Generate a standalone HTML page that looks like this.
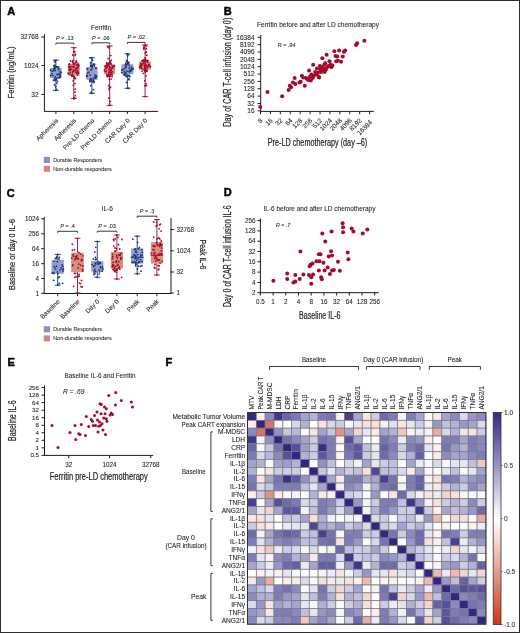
<!DOCTYPE html>
<html><head><meta charset="utf-8"><style>
html,body{margin:0;padding:0;background:#fff;}
body{width:520px;height:633px;overflow:hidden;position:relative;}
svg{display:block;position:absolute;left:0;top:0;}
svg text{font-family:"Liberation Sans",sans-serif;stroke:#2a2a2a;stroke-width:0.08px;}
svg text.ax{stroke-width:0.22px;}
svg{will-change:transform;}
.frame{position:absolute;left:0;top:0;width:518px;height:631px;border:1px solid #2e2e2e;}
</style></head><body>
<svg width="520" height="633" viewBox="0 0 520 633">
<text x="7.30" y="15.20" font-size="11" text-anchor="start" fill="#000" font-weight="bold" class="ax" style="stroke:#000;stroke-width:0.45px">A</text>
<text x="223.80" y="15.00" font-size="11" text-anchor="start" fill="#000" font-weight="bold" class="ax" style="stroke:#000;stroke-width:0.45px">B</text>
<text x="6.80" y="196.50" font-size="11" text-anchor="start" fill="#000" font-weight="bold" class="ax" style="stroke:#000;stroke-width:0.45px">C</text>
<text x="223.80" y="196.40" font-size="11" text-anchor="start" fill="#000" font-weight="bold" class="ax" style="stroke:#000;stroke-width:0.45px">D</text>
<text x="7.40" y="365.50" font-size="11" text-anchor="start" fill="#000" font-weight="bold" class="ax" style="stroke:#000;stroke-width:0.45px">E</text>
<text x="165.50" y="365.80" font-size="11" text-anchor="start" fill="#000" font-weight="bold" class="ax" style="stroke:#000;stroke-width:0.45px">F</text>
<text x="101.00" y="30.20" font-size="6.5" text-anchor="middle" fill="#222" textLength="20" lengthAdjust="spacingAndGlyphs" >Ferritin</text>
<line x1="44.40" y1="34.20" x2="44.40" y2="111.60" stroke="#1a1a1a" stroke-width="1"/>
<line x1="41.30" y1="37.00" x2="44.40" y2="37.00" stroke="#1a1a1a" stroke-width="1.0"/>
<text x="38.50" y="39.30" font-size="6.5" text-anchor="end" fill="#222" >32768</text>
<line x1="41.30" y1="65.50" x2="44.40" y2="65.50" stroke="#1a1a1a" stroke-width="1.0"/>
<text x="38.50" y="67.80" font-size="6.5" text-anchor="end" fill="#222" >1024</text>
<line x1="41.30" y1="94.40" x2="44.40" y2="94.40" stroke="#1a1a1a" stroke-width="1.0"/>
<text x="38.50" y="96.70" font-size="6.5" text-anchor="end" fill="#222" >32</text>
<text x="14.30" y="72.50" font-size="9.5" text-anchor="middle" fill="#222" textLength="52" lengthAdjust="spacingAndGlyphs" transform="rotate(-90 14.30 72.50)" class="ax" >Ferritin (ng/mL)</text>
<line x1="44.40" y1="111.40" x2="158.00" y2="111.40" stroke="#1a1a1a" stroke-width="1"/>
<line x1="55.90" y1="111.40" x2="55.90" y2="114.00" stroke="#1a1a1a" stroke-width="1.0"/>
<text x="58.70" y="121.10" font-size="6.4" text-anchor="end" fill="#222" transform="rotate(-45 58.70 121.10)" >Apheresis</text>
<line x1="73.80" y1="111.40" x2="73.80" y2="114.00" stroke="#1a1a1a" stroke-width="1.0"/>
<text x="76.60" y="121.10" font-size="6.4" text-anchor="end" fill="#222" transform="rotate(-45 76.60 121.10)" >Apheresis</text>
<line x1="91.90" y1="111.40" x2="91.90" y2="114.00" stroke="#1a1a1a" stroke-width="1.0"/>
<text x="94.70" y="121.10" font-size="6.4" text-anchor="end" fill="#222" transform="rotate(-45 94.70 121.10)" >Pre-LD chemo</text>
<line x1="109.60" y1="111.40" x2="109.60" y2="114.00" stroke="#1a1a1a" stroke-width="1.0"/>
<text x="112.40" y="121.10" font-size="6.4" text-anchor="end" fill="#222" transform="rotate(-45 112.40 121.10)" >Pre-LD chemo</text>
<line x1="127.40" y1="111.40" x2="127.40" y2="114.00" stroke="#1a1a1a" stroke-width="1.0"/>
<text x="130.20" y="121.10" font-size="6.4" text-anchor="end" fill="#222" transform="rotate(-45 130.20 121.10)" >CAR Day 0</text>
<line x1="145.10" y1="111.40" x2="145.10" y2="114.00" stroke="#1a1a1a" stroke-width="1.0"/>
<text x="147.90" y="121.10" font-size="6.4" text-anchor="end" fill="#222" transform="rotate(-45 147.90 121.10)" >CAR Day 0</text>
<line x1="55.90" y1="60.20" x2="55.90" y2="90.30" stroke="#1a3775" stroke-width="0.9"/>
<line x1="52.90" y1="60.20" x2="58.90" y2="60.20" stroke="#1a3775" stroke-width="0.9"/>
<line x1="52.90" y1="90.30" x2="58.90" y2="90.30" stroke="#1a3775" stroke-width="0.9"/>
<rect x="50.15" y="68.00" width="11.50" height="10.00" fill="#969ed0" />
<circle cx="56.16" cy="80.04" r="0.9" fill="#1a3775"/>
<circle cx="54.95" cy="67.49" r="0.9" fill="#1a3775"/>
<circle cx="52.85" cy="75.62" r="0.9" fill="#1a3775"/>
<circle cx="50.64" cy="75.52" r="0.9" fill="#1a3775"/>
<circle cx="55.25" cy="70.59" r="0.9" fill="#1a3775"/>
<circle cx="59.17" cy="77.78" r="0.9" fill="#1a3775"/>
<circle cx="56.44" cy="78.97" r="0.9" fill="#1a3775"/>
<circle cx="61.22" cy="72.34" r="0.9" fill="#1a3775"/>
<circle cx="54.96" cy="80.17" r="0.9" fill="#1a3775"/>
<circle cx="58.89" cy="77.60" r="0.9" fill="#1a3775"/>
<circle cx="54.70" cy="66.83" r="0.9" fill="#1a3775"/>
<circle cx="58.71" cy="66.79" r="0.9" fill="#1a3775"/>
<circle cx="58.83" cy="68.28" r="0.9" fill="#1a3775"/>
<circle cx="60.06" cy="73.72" r="0.9" fill="#1a3775"/>
<circle cx="54.12" cy="68.04" r="0.9" fill="#1a3775"/>
<circle cx="57.03" cy="67.00" r="0.9" fill="#1a3775"/>
<circle cx="51.94" cy="73.82" r="0.9" fill="#1a3775"/>
<circle cx="50.47" cy="70.11" r="0.9" fill="#1a3775"/>
<circle cx="57.21" cy="74.50" r="0.9" fill="#1a3775"/>
<circle cx="53.67" cy="70.15" r="0.9" fill="#1a3775"/>
<circle cx="50.87" cy="70.29" r="0.9" fill="#1a3775"/>
<circle cx="59.72" cy="74.57" r="0.9" fill="#1a3775"/>
<circle cx="53.43" cy="80.06" r="0.9" fill="#1a3775"/>
<circle cx="59.12" cy="74.33" r="0.9" fill="#1a3775"/>
<circle cx="60.41" cy="77.05" r="0.9" fill="#1a3775"/>
<circle cx="57.05" cy="78.14" r="0.9" fill="#1a3775"/>
<circle cx="57.75" cy="74.51" r="0.9" fill="#1a3775"/>
<circle cx="55.33" cy="76.86" r="0.9" fill="#1a3775"/>
<circle cx="60.17" cy="71.79" r="0.9" fill="#1a3775"/>
<circle cx="52.64" cy="71.37" r="0.9" fill="#1a3775"/>
<circle cx="59.91" cy="75.73" r="0.9" fill="#1a3775"/>
<circle cx="54.89" cy="68.79" r="0.9" fill="#1a3775"/>
<circle cx="58.68" cy="69.64" r="0.9" fill="#1a3775"/>
<circle cx="53.95" cy="68.78" r="0.9" fill="#1a3775"/>
<circle cx="53.71" cy="65.87" r="0.9" fill="#1a3775"/>
<circle cx="55.46" cy="66.42" r="0.9" fill="#1a3775"/>
<circle cx="56.38" cy="89.43" r="0.9" fill="#1a3775"/>
<circle cx="55.29" cy="60.96" r="0.9" fill="#1a3775"/>
<circle cx="54.15" cy="80.44" r="0.9" fill="#1a3775"/>
<circle cx="54.50" cy="84.90" r="0.9" fill="#1a3775"/>
<circle cx="55.57" cy="86.87" r="0.9" fill="#1a3775"/>
<circle cx="54.56" cy="78.45" r="0.9" fill="#1a3775"/>
<circle cx="54.80" cy="60.71" r="0.9" fill="#1a3775"/>
<circle cx="54.84" cy="65.07" r="0.9" fill="#1a3775"/>
<circle cx="56.85" cy="83.05" r="0.9" fill="#1a3775"/>
<circle cx="55.09" cy="62.18" r="0.9" fill="#1a3775"/>
<circle cx="57.20" cy="67.06" r="0.9" fill="#1a3775"/>
<circle cx="56.13" cy="79.46" r="0.9" fill="#1a3775"/>
<circle cx="57.52" cy="81.31" r="0.9" fill="#1a3775"/>
<circle cx="57.12" cy="66.83" r="0.9" fill="#1a3775"/>
<circle cx="55.90" cy="60.20" r="0.9" fill="#1a3775"/>
<circle cx="55.90" cy="90.30" r="0.9" fill="#1a3775"/>
<line x1="73.80" y1="47.70" x2="73.80" y2="98.60" stroke="#a30a2c" stroke-width="0.9"/>
<line x1="70.80" y1="47.70" x2="76.80" y2="47.70" stroke="#a30a2c" stroke-width="0.9"/>
<line x1="70.80" y1="98.60" x2="76.80" y2="98.60" stroke="#a30a2c" stroke-width="0.9"/>
<rect x="67.90" y="63.80" width="11.80" height="11.60" fill="#d4917d" />
<circle cx="71.15" cy="69.56" r="0.9" fill="#a30a2c"/>
<circle cx="72.39" cy="73.96" r="0.9" fill="#a30a2c"/>
<circle cx="76.82" cy="62.34" r="0.9" fill="#a30a2c"/>
<circle cx="71.80" cy="75.83" r="0.9" fill="#a30a2c"/>
<circle cx="78.09" cy="63.80" r="0.9" fill="#a30a2c"/>
<circle cx="76.14" cy="70.16" r="0.9" fill="#a30a2c"/>
<circle cx="71.07" cy="74.85" r="0.9" fill="#a30a2c"/>
<circle cx="78.26" cy="73.42" r="0.9" fill="#a30a2c"/>
<circle cx="68.81" cy="66.63" r="0.9" fill="#a30a2c"/>
<circle cx="77.64" cy="67.03" r="0.9" fill="#a30a2c"/>
<circle cx="69.06" cy="69.36" r="0.9" fill="#a30a2c"/>
<circle cx="69.48" cy="64.17" r="0.9" fill="#a30a2c"/>
<circle cx="69.85" cy="70.08" r="0.9" fill="#a30a2c"/>
<circle cx="77.72" cy="68.04" r="0.9" fill="#a30a2c"/>
<circle cx="72.78" cy="71.72" r="0.9" fill="#a30a2c"/>
<circle cx="72.25" cy="75.96" r="0.9" fill="#a30a2c"/>
<circle cx="70.60" cy="68.34" r="0.9" fill="#a30a2c"/>
<circle cx="78.36" cy="72.62" r="0.9" fill="#a30a2c"/>
<circle cx="73.56" cy="63.18" r="0.9" fill="#a30a2c"/>
<circle cx="72.41" cy="61.81" r="0.9" fill="#a30a2c"/>
<circle cx="75.74" cy="72.13" r="0.9" fill="#a30a2c"/>
<circle cx="72.15" cy="66.85" r="0.9" fill="#a30a2c"/>
<circle cx="74.01" cy="66.42" r="0.9" fill="#a30a2c"/>
<circle cx="73.07" cy="71.87" r="0.9" fill="#a30a2c"/>
<circle cx="77.69" cy="72.04" r="0.9" fill="#a30a2c"/>
<circle cx="75.42" cy="68.50" r="0.9" fill="#a30a2c"/>
<circle cx="76.47" cy="64.97" r="0.9" fill="#a30a2c"/>
<circle cx="73.47" cy="67.06" r="0.9" fill="#a30a2c"/>
<circle cx="74.36" cy="70.61" r="0.9" fill="#a30a2c"/>
<circle cx="77.38" cy="75.21" r="0.9" fill="#a30a2c"/>
<circle cx="72.45" cy="75.67" r="0.9" fill="#a30a2c"/>
<circle cx="78.94" cy="65.57" r="0.9" fill="#a30a2c"/>
<circle cx="70.58" cy="60.96" r="0.9" fill="#a30a2c"/>
<circle cx="77.59" cy="71.00" r="0.9" fill="#a30a2c"/>
<circle cx="76.94" cy="73.42" r="0.9" fill="#a30a2c"/>
<circle cx="73.27" cy="62.90" r="0.9" fill="#a30a2c"/>
<circle cx="76.63" cy="68.51" r="0.9" fill="#a30a2c"/>
<circle cx="76.29" cy="61.00" r="0.9" fill="#a30a2c"/>
<circle cx="73.51" cy="64.43" r="0.9" fill="#a30a2c"/>
<circle cx="73.77" cy="64.21" r="0.9" fill="#a30a2c"/>
<circle cx="69.20" cy="67.19" r="0.9" fill="#a30a2c"/>
<circle cx="68.91" cy="74.25" r="0.9" fill="#a30a2c"/>
<circle cx="74.51" cy="76.73" r="0.9" fill="#a30a2c"/>
<circle cx="70.64" cy="66.46" r="0.9" fill="#a30a2c"/>
<circle cx="69.29" cy="64.35" r="0.9" fill="#a30a2c"/>
<circle cx="70.27" cy="72.43" r="0.9" fill="#a30a2c"/>
<circle cx="75.77" cy="62.96" r="0.9" fill="#a30a2c"/>
<circle cx="70.03" cy="70.17" r="0.9" fill="#a30a2c"/>
<circle cx="77.93" cy="64.74" r="0.9" fill="#a30a2c"/>
<circle cx="76.30" cy="61.58" r="0.9" fill="#a30a2c"/>
<circle cx="73.35" cy="69.83" r="0.9" fill="#a30a2c"/>
<circle cx="77.85" cy="65.95" r="0.9" fill="#a30a2c"/>
<circle cx="78.07" cy="67.80" r="0.9" fill="#a30a2c"/>
<circle cx="68.21" cy="73.18" r="0.9" fill="#a30a2c"/>
<circle cx="72.77" cy="55.02" r="0.9" fill="#a30a2c"/>
<circle cx="75.40" cy="54.37" r="0.9" fill="#a30a2c"/>
<circle cx="75.13" cy="78.11" r="0.9" fill="#a30a2c"/>
<circle cx="75.43" cy="78.56" r="0.9" fill="#a30a2c"/>
<circle cx="74.10" cy="97.98" r="0.9" fill="#a30a2c"/>
<circle cx="74.38" cy="98.10" r="0.9" fill="#a30a2c"/>
<circle cx="74.74" cy="98.24" r="0.9" fill="#a30a2c"/>
<circle cx="75.41" cy="95.67" r="0.9" fill="#a30a2c"/>
<circle cx="74.88" cy="83.62" r="0.9" fill="#a30a2c"/>
<circle cx="73.17" cy="80.79" r="0.9" fill="#a30a2c"/>
<circle cx="75.04" cy="92.01" r="0.9" fill="#a30a2c"/>
<circle cx="75.17" cy="55.56" r="0.9" fill="#a30a2c"/>
<circle cx="73.25" cy="85.29" r="0.9" fill="#a30a2c"/>
<circle cx="75.28" cy="89.09" r="0.9" fill="#a30a2c"/>
<circle cx="72.74" cy="60.71" r="0.9" fill="#a30a2c"/>
<circle cx="73.78" cy="52.21" r="0.9" fill="#a30a2c"/>
<circle cx="73.88" cy="98.52" r="0.9" fill="#a30a2c"/>
<circle cx="74.58" cy="78.62" r="0.9" fill="#a30a2c"/>
<circle cx="73.99" cy="63.77" r="0.9" fill="#a30a2c"/>
<circle cx="74.01" cy="76.46" r="0.9" fill="#a30a2c"/>
<circle cx="74.79" cy="51.72" r="0.9" fill="#a30a2c"/>
<circle cx="73.80" cy="47.70" r="0.9" fill="#a30a2c"/>
<circle cx="73.80" cy="98.60" r="0.9" fill="#a30a2c"/>
<line x1="91.90" y1="57.70" x2="91.90" y2="93.30" stroke="#1a3775" stroke-width="0.9"/>
<line x1="88.90" y1="57.70" x2="94.90" y2="57.70" stroke="#1a3775" stroke-width="0.9"/>
<line x1="88.90" y1="93.30" x2="94.90" y2="93.30" stroke="#1a3775" stroke-width="0.9"/>
<rect x="86.25" y="67.00" width="11.30" height="12.80" fill="#969ed0" />
<circle cx="90.56" cy="66.17" r="0.9" fill="#1a3775"/>
<circle cx="93.31" cy="78.53" r="0.9" fill="#1a3775"/>
<circle cx="92.52" cy="65.53" r="0.9" fill="#1a3775"/>
<circle cx="89.95" cy="80.42" r="0.9" fill="#1a3775"/>
<circle cx="91.27" cy="79.09" r="0.9" fill="#1a3775"/>
<circle cx="94.19" cy="81.46" r="0.9" fill="#1a3775"/>
<circle cx="95.78" cy="76.24" r="0.9" fill="#1a3775"/>
<circle cx="90.85" cy="78.62" r="0.9" fill="#1a3775"/>
<circle cx="87.52" cy="68.91" r="0.9" fill="#1a3775"/>
<circle cx="92.53" cy="65.80" r="0.9" fill="#1a3775"/>
<circle cx="94.50" cy="66.10" r="0.9" fill="#1a3775"/>
<circle cx="93.68" cy="82.44" r="0.9" fill="#1a3775"/>
<circle cx="94.90" cy="74.82" r="0.9" fill="#1a3775"/>
<circle cx="92.38" cy="67.16" r="0.9" fill="#1a3775"/>
<circle cx="87.41" cy="69.08" r="0.9" fill="#1a3775"/>
<circle cx="91.65" cy="69.25" r="0.9" fill="#1a3775"/>
<circle cx="90.26" cy="79.94" r="0.9" fill="#1a3775"/>
<circle cx="93.99" cy="65.14" r="0.9" fill="#1a3775"/>
<circle cx="91.06" cy="69.89" r="0.9" fill="#1a3775"/>
<circle cx="95.73" cy="68.06" r="0.9" fill="#1a3775"/>
<circle cx="91.02" cy="64.05" r="0.9" fill="#1a3775"/>
<circle cx="95.05" cy="78.37" r="0.9" fill="#1a3775"/>
<circle cx="96.16" cy="77.51" r="0.9" fill="#1a3775"/>
<circle cx="89.95" cy="81.49" r="0.9" fill="#1a3775"/>
<circle cx="94.74" cy="77.27" r="0.9" fill="#1a3775"/>
<circle cx="91.23" cy="65.63" r="0.9" fill="#1a3775"/>
<circle cx="96.71" cy="75.80" r="0.9" fill="#1a3775"/>
<circle cx="88.98" cy="72.05" r="0.9" fill="#1a3775"/>
<circle cx="86.93" cy="75.77" r="0.9" fill="#1a3775"/>
<circle cx="86.87" cy="75.66" r="0.9" fill="#1a3775"/>
<circle cx="90.25" cy="75.23" r="0.9" fill="#1a3775"/>
<circle cx="87.70" cy="73.24" r="0.9" fill="#1a3775"/>
<circle cx="94.55" cy="64.27" r="0.9" fill="#1a3775"/>
<circle cx="96.06" cy="68.07" r="0.9" fill="#1a3775"/>
<circle cx="86.95" cy="76.61" r="0.9" fill="#1a3775"/>
<circle cx="90.40" cy="80.02" r="0.9" fill="#1a3775"/>
<circle cx="91.03" cy="81.17" r="0.9" fill="#1a3775"/>
<circle cx="91.04" cy="81.11" r="0.9" fill="#1a3775"/>
<circle cx="93.45" cy="89.56" r="0.9" fill="#1a3775"/>
<circle cx="93.19" cy="80.25" r="0.9" fill="#1a3775"/>
<circle cx="90.44" cy="62.64" r="0.9" fill="#1a3775"/>
<circle cx="90.39" cy="57.81" r="0.9" fill="#1a3775"/>
<circle cx="93.51" cy="64.15" r="0.9" fill="#1a3775"/>
<circle cx="92.33" cy="60.38" r="0.9" fill="#1a3775"/>
<circle cx="91.43" cy="66.29" r="0.9" fill="#1a3775"/>
<circle cx="91.05" cy="92.33" r="0.9" fill="#1a3775"/>
<circle cx="92.00" cy="60.38" r="0.9" fill="#1a3775"/>
<circle cx="90.73" cy="85.83" r="0.9" fill="#1a3775"/>
<circle cx="92.31" cy="60.00" r="0.9" fill="#1a3775"/>
<circle cx="92.82" cy="81.59" r="0.9" fill="#1a3775"/>
<circle cx="91.90" cy="57.70" r="0.9" fill="#1a3775"/>
<circle cx="91.90" cy="93.30" r="0.9" fill="#1a3775"/>
<line x1="109.60" y1="46.10" x2="109.60" y2="105.40" stroke="#a30a2c" stroke-width="0.9"/>
<line x1="106.60" y1="46.10" x2="112.60" y2="46.10" stroke="#a30a2c" stroke-width="0.9"/>
<line x1="106.60" y1="105.40" x2="112.60" y2="105.40" stroke="#a30a2c" stroke-width="0.9"/>
<rect x="104.10" y="64.90" width="11.00" height="9.40" fill="#d4917d" />
<circle cx="110.87" cy="70.56" r="0.9" fill="#a30a2c"/>
<circle cx="105.90" cy="65.74" r="0.9" fill="#a30a2c"/>
<circle cx="108.71" cy="72.93" r="0.9" fill="#a30a2c"/>
<circle cx="110.79" cy="67.43" r="0.9" fill="#a30a2c"/>
<circle cx="111.13" cy="72.30" r="0.9" fill="#a30a2c"/>
<circle cx="110.50" cy="70.38" r="0.9" fill="#a30a2c"/>
<circle cx="111.59" cy="64.39" r="0.9" fill="#a30a2c"/>
<circle cx="109.34" cy="71.96" r="0.9" fill="#a30a2c"/>
<circle cx="106.91" cy="74.66" r="0.9" fill="#a30a2c"/>
<circle cx="110.05" cy="76.54" r="0.9" fill="#a30a2c"/>
<circle cx="109.59" cy="62.95" r="0.9" fill="#a30a2c"/>
<circle cx="110.43" cy="70.47" r="0.9" fill="#a30a2c"/>
<circle cx="114.43" cy="66.23" r="0.9" fill="#a30a2c"/>
<circle cx="108.71" cy="74.73" r="0.9" fill="#a30a2c"/>
<circle cx="107.21" cy="64.46" r="0.9" fill="#a30a2c"/>
<circle cx="105.27" cy="66.69" r="0.9" fill="#a30a2c"/>
<circle cx="109.42" cy="66.05" r="0.9" fill="#a30a2c"/>
<circle cx="112.28" cy="71.96" r="0.9" fill="#a30a2c"/>
<circle cx="106.66" cy="62.78" r="0.9" fill="#a30a2c"/>
<circle cx="109.95" cy="63.30" r="0.9" fill="#a30a2c"/>
<circle cx="108.83" cy="69.56" r="0.9" fill="#a30a2c"/>
<circle cx="105.95" cy="68.26" r="0.9" fill="#a30a2c"/>
<circle cx="107.87" cy="65.53" r="0.9" fill="#a30a2c"/>
<circle cx="111.00" cy="63.56" r="0.9" fill="#a30a2c"/>
<circle cx="110.24" cy="63.67" r="0.9" fill="#a30a2c"/>
<circle cx="107.84" cy="64.35" r="0.9" fill="#a30a2c"/>
<circle cx="107.12" cy="75.53" r="0.9" fill="#a30a2c"/>
<circle cx="112.22" cy="74.64" r="0.9" fill="#a30a2c"/>
<circle cx="104.49" cy="70.88" r="0.9" fill="#a30a2c"/>
<circle cx="106.40" cy="71.24" r="0.9" fill="#a30a2c"/>
<circle cx="111.22" cy="69.23" r="0.9" fill="#a30a2c"/>
<circle cx="109.41" cy="67.82" r="0.9" fill="#a30a2c"/>
<circle cx="112.69" cy="66.10" r="0.9" fill="#a30a2c"/>
<circle cx="110.52" cy="74.53" r="0.9" fill="#a30a2c"/>
<circle cx="107.01" cy="67.69" r="0.9" fill="#a30a2c"/>
<circle cx="110.26" cy="74.94" r="0.9" fill="#a30a2c"/>
<circle cx="107.79" cy="75.73" r="0.9" fill="#a30a2c"/>
<circle cx="110.29" cy="72.36" r="0.9" fill="#a30a2c"/>
<circle cx="107.44" cy="66.13" r="0.9" fill="#a30a2c"/>
<circle cx="108.23" cy="63.41" r="0.9" fill="#a30a2c"/>
<circle cx="108.49" cy="63.34" r="0.9" fill="#a30a2c"/>
<circle cx="112.06" cy="76.50" r="0.9" fill="#a30a2c"/>
<circle cx="104.58" cy="69.79" r="0.9" fill="#a30a2c"/>
<circle cx="107.12" cy="76.54" r="0.9" fill="#a30a2c"/>
<circle cx="110.08" cy="63.26" r="0.9" fill="#a30a2c"/>
<circle cx="108.73" cy="76.19" r="0.9" fill="#a30a2c"/>
<circle cx="108.42" cy="64.51" r="0.9" fill="#a30a2c"/>
<circle cx="114.19" cy="65.44" r="0.9" fill="#a30a2c"/>
<circle cx="107.48" cy="65.49" r="0.9" fill="#a30a2c"/>
<circle cx="112.90" cy="67.78" r="0.9" fill="#a30a2c"/>
<circle cx="106.72" cy="63.92" r="0.9" fill="#a30a2c"/>
<circle cx="112.16" cy="68.18" r="0.9" fill="#a30a2c"/>
<circle cx="106.10" cy="71.73" r="0.9" fill="#a30a2c"/>
<circle cx="110.51" cy="69.84" r="0.9" fill="#a30a2c"/>
<circle cx="110.86" cy="55.54" r="0.9" fill="#a30a2c"/>
<circle cx="107.80" cy="46.66" r="0.9" fill="#a30a2c"/>
<circle cx="110.55" cy="87.25" r="0.9" fill="#a30a2c"/>
<circle cx="108.58" cy="47.64" r="0.9" fill="#a30a2c"/>
<circle cx="111.10" cy="79.11" r="0.9" fill="#a30a2c"/>
<circle cx="110.10" cy="62.35" r="0.9" fill="#a30a2c"/>
<circle cx="108.70" cy="98.01" r="0.9" fill="#a30a2c"/>
<circle cx="111.38" cy="74.43" r="0.9" fill="#a30a2c"/>
<circle cx="108.69" cy="85.75" r="0.9" fill="#a30a2c"/>
<circle cx="108.12" cy="75.60" r="0.9" fill="#a30a2c"/>
<circle cx="110.40" cy="61.34" r="0.9" fill="#a30a2c"/>
<circle cx="108.60" cy="76.46" r="0.9" fill="#a30a2c"/>
<circle cx="109.52" cy="87.96" r="0.9" fill="#a30a2c"/>
<circle cx="109.67" cy="104.25" r="0.9" fill="#a30a2c"/>
<circle cx="111.33" cy="60.29" r="0.9" fill="#a30a2c"/>
<circle cx="109.95" cy="62.84" r="0.9" fill="#a30a2c"/>
<circle cx="109.03" cy="89.23" r="0.9" fill="#a30a2c"/>
<circle cx="108.18" cy="58.55" r="0.9" fill="#a30a2c"/>
<circle cx="110.86" cy="74.45" r="0.9" fill="#a30a2c"/>
<circle cx="109.36" cy="79.28" r="0.9" fill="#a30a2c"/>
<circle cx="110.26" cy="101.29" r="0.9" fill="#a30a2c"/>
<circle cx="109.60" cy="46.10" r="0.9" fill="#a30a2c"/>
<circle cx="109.60" cy="105.40" r="0.9" fill="#a30a2c"/>
<line x1="127.40" y1="53.80" x2="127.40" y2="88.30" stroke="#1a3775" stroke-width="0.9"/>
<line x1="124.40" y1="53.80" x2="130.40" y2="53.80" stroke="#1a3775" stroke-width="0.9"/>
<line x1="124.40" y1="88.30" x2="130.40" y2="88.30" stroke="#1a3775" stroke-width="0.9"/>
<rect x="121.40" y="64.30" width="12.00" height="10.00" fill="#969ed0" />
<circle cx="129.02" cy="65.00" r="0.9" fill="#1a3775"/>
<circle cx="124.91" cy="72.90" r="0.9" fill="#1a3775"/>
<circle cx="129.88" cy="76.60" r="0.9" fill="#1a3775"/>
<circle cx="129.27" cy="67.91" r="0.9" fill="#1a3775"/>
<circle cx="131.88" cy="69.17" r="0.9" fill="#1a3775"/>
<circle cx="126.94" cy="71.23" r="0.9" fill="#1a3775"/>
<circle cx="129.44" cy="76.31" r="0.9" fill="#1a3775"/>
<circle cx="126.13" cy="73.95" r="0.9" fill="#1a3775"/>
<circle cx="126.24" cy="66.62" r="0.9" fill="#1a3775"/>
<circle cx="124.94" cy="68.47" r="0.9" fill="#1a3775"/>
<circle cx="123.09" cy="69.39" r="0.9" fill="#1a3775"/>
<circle cx="124.44" cy="71.64" r="0.9" fill="#1a3775"/>
<circle cx="127.45" cy="63.51" r="0.9" fill="#1a3775"/>
<circle cx="129.66" cy="71.70" r="0.9" fill="#1a3775"/>
<circle cx="121.88" cy="69.99" r="0.9" fill="#1a3775"/>
<circle cx="132.81" cy="68.61" r="0.9" fill="#1a3775"/>
<circle cx="125.53" cy="73.07" r="0.9" fill="#1a3775"/>
<circle cx="126.35" cy="76.46" r="0.9" fill="#1a3775"/>
<circle cx="131.43" cy="70.22" r="0.9" fill="#1a3775"/>
<circle cx="130.48" cy="69.72" r="0.9" fill="#1a3775"/>
<circle cx="125.32" cy="64.90" r="0.9" fill="#1a3775"/>
<circle cx="127.77" cy="62.13" r="0.9" fill="#1a3775"/>
<circle cx="121.85" cy="72.39" r="0.9" fill="#1a3775"/>
<circle cx="130.62" cy="70.99" r="0.9" fill="#1a3775"/>
<circle cx="128.72" cy="63.07" r="0.9" fill="#1a3775"/>
<circle cx="125.42" cy="75.44" r="0.9" fill="#1a3775"/>
<circle cx="124.28" cy="74.41" r="0.9" fill="#1a3775"/>
<circle cx="124.12" cy="74.96" r="0.9" fill="#1a3775"/>
<circle cx="131.35" cy="67.18" r="0.9" fill="#1a3775"/>
<circle cx="126.54" cy="76.10" r="0.9" fill="#1a3775"/>
<circle cx="128.01" cy="76.02" r="0.9" fill="#1a3775"/>
<circle cx="132.91" cy="68.54" r="0.9" fill="#1a3775"/>
<circle cx="129.15" cy="71.39" r="0.9" fill="#1a3775"/>
<circle cx="125.79" cy="67.27" r="0.9" fill="#1a3775"/>
<circle cx="132.84" cy="68.76" r="0.9" fill="#1a3775"/>
<circle cx="126.04" cy="64.56" r="0.9" fill="#1a3775"/>
<circle cx="128.86" cy="62.33" r="0.9" fill="#1a3775"/>
<circle cx="126.47" cy="82.42" r="0.9" fill="#1a3775"/>
<circle cx="127.13" cy="64.30" r="0.9" fill="#1a3775"/>
<circle cx="126.40" cy="60.71" r="0.9" fill="#1a3775"/>
<circle cx="125.75" cy="63.14" r="0.9" fill="#1a3775"/>
<circle cx="128.14" cy="62.81" r="0.9" fill="#1a3775"/>
<circle cx="127.63" cy="55.63" r="0.9" fill="#1a3775"/>
<circle cx="126.94" cy="61.44" r="0.9" fill="#1a3775"/>
<circle cx="128.38" cy="54.79" r="0.9" fill="#1a3775"/>
<circle cx="128.69" cy="78.91" r="0.9" fill="#1a3775"/>
<circle cx="127.32" cy="54.01" r="0.9" fill="#1a3775"/>
<circle cx="129.04" cy="79.65" r="0.9" fill="#1a3775"/>
<circle cx="128.53" cy="88.25" r="0.9" fill="#1a3775"/>
<circle cx="129.00" cy="75.17" r="0.9" fill="#1a3775"/>
<circle cx="127.40" cy="53.80" r="0.9" fill="#1a3775"/>
<circle cx="127.40" cy="88.30" r="0.9" fill="#1a3775"/>
<line x1="145.10" y1="45.00" x2="145.10" y2="96.60" stroke="#a30a2c" stroke-width="0.9"/>
<line x1="142.10" y1="45.00" x2="148.10" y2="45.00" stroke="#a30a2c" stroke-width="0.9"/>
<line x1="142.10" y1="96.60" x2="148.10" y2="96.60" stroke="#a30a2c" stroke-width="0.9"/>
<rect x="139.30" y="61.50" width="11.60" height="8.30" fill="#d4917d" />
<circle cx="146.18" cy="69.88" r="0.9" fill="#a30a2c"/>
<circle cx="147.37" cy="62.03" r="0.9" fill="#a30a2c"/>
<circle cx="139.89" cy="66.45" r="0.9" fill="#a30a2c"/>
<circle cx="140.94" cy="65.88" r="0.9" fill="#a30a2c"/>
<circle cx="142.37" cy="60.84" r="0.9" fill="#a30a2c"/>
<circle cx="150.45" cy="66.84" r="0.9" fill="#a30a2c"/>
<circle cx="144.97" cy="71.24" r="0.9" fill="#a30a2c"/>
<circle cx="144.22" cy="69.87" r="0.9" fill="#a30a2c"/>
<circle cx="141.07" cy="67.14" r="0.9" fill="#a30a2c"/>
<circle cx="144.92" cy="65.07" r="0.9" fill="#a30a2c"/>
<circle cx="144.64" cy="68.87" r="0.9" fill="#a30a2c"/>
<circle cx="141.92" cy="68.48" r="0.9" fill="#a30a2c"/>
<circle cx="140.48" cy="64.42" r="0.9" fill="#a30a2c"/>
<circle cx="146.39" cy="70.66" r="0.9" fill="#a30a2c"/>
<circle cx="139.60" cy="67.18" r="0.9" fill="#a30a2c"/>
<circle cx="144.93" cy="67.71" r="0.9" fill="#a30a2c"/>
<circle cx="142.72" cy="63.99" r="0.9" fill="#a30a2c"/>
<circle cx="143.75" cy="62.70" r="0.9" fill="#a30a2c"/>
<circle cx="140.84" cy="63.52" r="0.9" fill="#a30a2c"/>
<circle cx="140.17" cy="67.67" r="0.9" fill="#a30a2c"/>
<circle cx="146.93" cy="60.75" r="0.9" fill="#a30a2c"/>
<circle cx="147.09" cy="67.75" r="0.9" fill="#a30a2c"/>
<circle cx="140.93" cy="67.20" r="0.9" fill="#a30a2c"/>
<circle cx="142.18" cy="60.61" r="0.9" fill="#a30a2c"/>
<circle cx="148.93" cy="64.36" r="0.9" fill="#a30a2c"/>
<circle cx="146.70" cy="69.83" r="0.9" fill="#a30a2c"/>
<circle cx="145.38" cy="60.14" r="0.9" fill="#a30a2c"/>
<circle cx="148.15" cy="60.60" r="0.9" fill="#a30a2c"/>
<circle cx="144.36" cy="65.92" r="0.9" fill="#a30a2c"/>
<circle cx="142.11" cy="71.20" r="0.9" fill="#a30a2c"/>
<circle cx="144.63" cy="65.55" r="0.9" fill="#a30a2c"/>
<circle cx="146.24" cy="71.10" r="0.9" fill="#a30a2c"/>
<circle cx="144.23" cy="61.76" r="0.9" fill="#a30a2c"/>
<circle cx="145.17" cy="61.69" r="0.9" fill="#a30a2c"/>
<circle cx="144.20" cy="59.86" r="0.9" fill="#a30a2c"/>
<circle cx="145.08" cy="66.77" r="0.9" fill="#a30a2c"/>
<circle cx="149.93" cy="66.17" r="0.9" fill="#a30a2c"/>
<circle cx="142.33" cy="60.70" r="0.9" fill="#a30a2c"/>
<circle cx="147.04" cy="71.22" r="0.9" fill="#a30a2c"/>
<circle cx="146.92" cy="60.28" r="0.9" fill="#a30a2c"/>
<circle cx="144.30" cy="70.02" r="0.9" fill="#a30a2c"/>
<circle cx="144.84" cy="70.55" r="0.9" fill="#a30a2c"/>
<circle cx="143.42" cy="60.17" r="0.9" fill="#a30a2c"/>
<circle cx="147.14" cy="61.62" r="0.9" fill="#a30a2c"/>
<circle cx="145.18" cy="64.02" r="0.9" fill="#a30a2c"/>
<circle cx="148.75" cy="64.95" r="0.9" fill="#a30a2c"/>
<circle cx="141.76" cy="64.82" r="0.9" fill="#a30a2c"/>
<circle cx="148.44" cy="65.49" r="0.9" fill="#a30a2c"/>
<circle cx="147.94" cy="66.95" r="0.9" fill="#a30a2c"/>
<circle cx="145.82" cy="69.91" r="0.9" fill="#a30a2c"/>
<circle cx="145.86" cy="68.03" r="0.9" fill="#a30a2c"/>
<circle cx="146.56" cy="65.43" r="0.9" fill="#a30a2c"/>
<circle cx="145.52" cy="66.31" r="0.9" fill="#a30a2c"/>
<circle cx="140.84" cy="64.80" r="0.9" fill="#a30a2c"/>
<circle cx="143.92" cy="47.41" r="0.9" fill="#a30a2c"/>
<circle cx="145.23" cy="72.06" r="0.9" fill="#a30a2c"/>
<circle cx="143.42" cy="61.29" r="0.9" fill="#a30a2c"/>
<circle cx="146.35" cy="51.98" r="0.9" fill="#a30a2c"/>
<circle cx="145.19" cy="59.48" r="0.9" fill="#a30a2c"/>
<circle cx="144.80" cy="80.80" r="0.9" fill="#a30a2c"/>
<circle cx="146.27" cy="48.66" r="0.9" fill="#a30a2c"/>
<circle cx="143.88" cy="48.37" r="0.9" fill="#a30a2c"/>
<circle cx="143.41" cy="73.39" r="0.9" fill="#a30a2c"/>
<circle cx="146.74" cy="55.18" r="0.9" fill="#a30a2c"/>
<circle cx="145.93" cy="83.75" r="0.9" fill="#a30a2c"/>
<circle cx="145.21" cy="57.94" r="0.9" fill="#a30a2c"/>
<circle cx="146.54" cy="85.57" r="0.9" fill="#a30a2c"/>
<circle cx="145.38" cy="52.97" r="0.9" fill="#a30a2c"/>
<circle cx="144.14" cy="45.73" r="0.9" fill="#a30a2c"/>
<circle cx="146.04" cy="75.96" r="0.9" fill="#a30a2c"/>
<circle cx="143.90" cy="47.64" r="0.9" fill="#a30a2c"/>
<circle cx="143.70" cy="49.03" r="0.9" fill="#a30a2c"/>
<circle cx="144.83" cy="85.75" r="0.9" fill="#a30a2c"/>
<circle cx="143.57" cy="60.59" r="0.9" fill="#a30a2c"/>
<circle cx="146.41" cy="46.10" r="0.9" fill="#a30a2c"/>
<circle cx="145.10" cy="45.00" r="0.9" fill="#a30a2c"/>
<circle cx="145.10" cy="96.60" r="0.9" fill="#a30a2c"/>
<path d="M55.90 44.60 V43.10 H73.80 V44.60" fill="none" stroke="#222" stroke-width="0.9"/>
<text x="64.85" y="40.10" font-size="5.5" text-anchor="middle" fill="#222"><tspan font-style="italic">P</tspan> = .13</text>
<path d="M91.90 44.30 V42.80 H109.60 V44.30" fill="none" stroke="#222" stroke-width="0.9"/>
<text x="100.75" y="39.80" font-size="5.5" text-anchor="middle" fill="#222"><tspan font-style="italic">P</tspan> = .06</text>
<path d="M127.40 43.90 V42.40 H145.10 V43.90" fill="none" stroke="#222" stroke-width="0.9"/>
<text x="136.25" y="39.40" font-size="5.5" text-anchor="middle" fill="#222"><tspan font-style="italic">P</tspan> = .02</text>
<rect x="43.80" y="156.90" width="6.20" height="6.10" fill="#8790c4" />
<rect x="43.80" y="165.80" width="6.20" height="6.00" fill="#d2867a" />
<text x="53.20" y="162.20" font-size="6.1" text-anchor="start" fill="#333" textLength="49" lengthAdjust="spacingAndGlyphs" >Durable Responders</text>
<text x="53.20" y="171.00" font-size="6.1" text-anchor="start" fill="#333" textLength="58.6" lengthAdjust="spacingAndGlyphs" >Non-durable responders</text>
<text x="318.00" y="27.20" font-size="7" text-anchor="middle" fill="#222" textLength="122" lengthAdjust="spacingAndGlyphs" >Ferritin before and after LD chemotherapy</text>
<line x1="260.70" y1="35.00" x2="260.70" y2="112.00" stroke="#1a1a1a" stroke-width="1"/>
<line x1="260.20" y1="111.40" x2="373.80" y2="111.40" stroke="#1a1a1a" stroke-width="1"/>
<line x1="257.60" y1="37.30" x2="260.70" y2="37.30" stroke="#1a1a1a" stroke-width="1.0"/>
<text x="254.60" y="39.50" font-size="6.6" text-anchor="end" fill="#222" >16384</text>
<line x1="257.60" y1="44.65" x2="260.70" y2="44.65" stroke="#1a1a1a" stroke-width="1.0"/>
<text x="254.60" y="46.85" font-size="6.6" text-anchor="end" fill="#222" >8192</text>
<line x1="257.60" y1="52.00" x2="260.70" y2="52.00" stroke="#1a1a1a" stroke-width="1.0"/>
<text x="254.60" y="54.20" font-size="6.6" text-anchor="end" fill="#222" >4096</text>
<line x1="257.60" y1="59.35" x2="260.70" y2="59.35" stroke="#1a1a1a" stroke-width="1.0"/>
<text x="254.60" y="61.55" font-size="6.6" text-anchor="end" fill="#222" >2048</text>
<line x1="257.60" y1="66.70" x2="260.70" y2="66.70" stroke="#1a1a1a" stroke-width="1.0"/>
<text x="254.60" y="68.90" font-size="6.6" text-anchor="end" fill="#222" >1024</text>
<line x1="257.60" y1="74.05" x2="260.70" y2="74.05" stroke="#1a1a1a" stroke-width="1.0"/>
<text x="254.60" y="76.25" font-size="6.6" text-anchor="end" fill="#222" >512</text>
<line x1="257.60" y1="81.40" x2="260.70" y2="81.40" stroke="#1a1a1a" stroke-width="1.0"/>
<text x="254.60" y="83.60" font-size="6.6" text-anchor="end" fill="#222" >256</text>
<line x1="257.60" y1="88.75" x2="260.70" y2="88.75" stroke="#1a1a1a" stroke-width="1.0"/>
<text x="254.60" y="90.95" font-size="6.6" text-anchor="end" fill="#222" >128</text>
<line x1="257.60" y1="96.10" x2="260.70" y2="96.10" stroke="#1a1a1a" stroke-width="1.0"/>
<text x="254.60" y="98.30" font-size="6.6" text-anchor="end" fill="#222" >64</text>
<line x1="257.60" y1="103.45" x2="260.70" y2="103.45" stroke="#1a1a1a" stroke-width="1.0"/>
<text x="254.60" y="105.65" font-size="6.6" text-anchor="end" fill="#222" >32</text>
<line x1="257.60" y1="110.80" x2="260.70" y2="110.80" stroke="#1a1a1a" stroke-width="1.0"/>
<text x="254.60" y="113.00" font-size="6.6" text-anchor="end" fill="#222" >16</text>
<line x1="260.50" y1="111.60" x2="260.50" y2="114.20" stroke="#1a1a1a" stroke-width="1.0"/>
<text x="263.10" y="121.00" font-size="6.5" text-anchor="end" fill="#222" transform="rotate(-45 263.10 121.00)" >8</text>
<line x1="270.42" y1="111.60" x2="270.42" y2="114.20" stroke="#1a1a1a" stroke-width="1.0"/>
<text x="273.02" y="121.00" font-size="6.5" text-anchor="end" fill="#222" transform="rotate(-45 273.02 121.00)" >16</text>
<line x1="280.34" y1="111.60" x2="280.34" y2="114.20" stroke="#1a1a1a" stroke-width="1.0"/>
<text x="282.94" y="121.00" font-size="6.5" text-anchor="end" fill="#222" transform="rotate(-45 282.94 121.00)" >32</text>
<line x1="290.26" y1="111.60" x2="290.26" y2="114.20" stroke="#1a1a1a" stroke-width="1.0"/>
<text x="292.86" y="121.00" font-size="6.5" text-anchor="end" fill="#222" transform="rotate(-45 292.86 121.00)" >64</text>
<line x1="300.18" y1="111.60" x2="300.18" y2="114.20" stroke="#1a1a1a" stroke-width="1.0"/>
<text x="302.78" y="121.00" font-size="6.5" text-anchor="end" fill="#222" transform="rotate(-45 302.78 121.00)" >128</text>
<line x1="310.10" y1="111.60" x2="310.10" y2="114.20" stroke="#1a1a1a" stroke-width="1.0"/>
<text x="312.70" y="121.00" font-size="6.5" text-anchor="end" fill="#222" transform="rotate(-45 312.70 121.00)" >256</text>
<line x1="320.02" y1="111.60" x2="320.02" y2="114.20" stroke="#1a1a1a" stroke-width="1.0"/>
<text x="322.62" y="121.00" font-size="6.5" text-anchor="end" fill="#222" transform="rotate(-45 322.62 121.00)" >512</text>
<line x1="329.94" y1="111.60" x2="329.94" y2="114.20" stroke="#1a1a1a" stroke-width="1.0"/>
<text x="332.54" y="121.00" font-size="6.5" text-anchor="end" fill="#222" transform="rotate(-45 332.54 121.00)" >1024</text>
<line x1="339.86" y1="111.60" x2="339.86" y2="114.20" stroke="#1a1a1a" stroke-width="1.0"/>
<text x="342.46" y="121.00" font-size="6.5" text-anchor="end" fill="#222" transform="rotate(-45 342.46 121.00)" >2048</text>
<line x1="349.78" y1="111.60" x2="349.78" y2="114.20" stroke="#1a1a1a" stroke-width="1.0"/>
<text x="352.38" y="121.00" font-size="6.5" text-anchor="end" fill="#222" transform="rotate(-45 352.38 121.00)" >4096</text>
<line x1="359.70" y1="111.60" x2="359.70" y2="114.20" stroke="#1a1a1a" stroke-width="1.0"/>
<text x="362.30" y="121.00" font-size="6.5" text-anchor="end" fill="#222" transform="rotate(-45 362.30 121.00)" >8192</text>
<line x1="369.62" y1="111.60" x2="369.62" y2="114.20" stroke="#1a1a1a" stroke-width="1.0"/>
<text x="372.58" y="122.80" font-size="6.5" text-anchor="end" fill="#222" transform="rotate(-45 372.58 122.80)" >16384</text>
<text x="231.30" y="72.20" font-size="10" text-anchor="middle" fill="#222" textLength="109" lengthAdjust="spacingAndGlyphs" transform="rotate(-90 231.30 72.20)" class="ax" >Day of CAR T-cell infusion (day 0)</text>
<text x="317.50" y="146.00" font-size="10" text-anchor="middle" fill="#222" textLength="99.5" lengthAdjust="spacingAndGlyphs" class="ax" >Pre-LD chemotherapy (day –6)</text>
<text x="277.8" y="46.6" font-size="6" fill="#222" font-style="italic" textLength="17.6" lengthAdjust="spacingAndGlyphs">R = .94</text>
<circle cx="260.29" cy="106.92" r="2.0" fill="#a30a2c"/>
<circle cx="267.50" cy="92.02" r="2.0" fill="#a30a2c"/>
<circle cx="282.16" cy="96.35" r="2.0" fill="#a30a2c"/>
<circle cx="288.65" cy="90.10" r="2.0" fill="#a30a2c"/>
<circle cx="289.86" cy="85.77" r="2.0" fill="#a30a2c"/>
<circle cx="291.06" cy="87.21" r="2.0" fill="#a30a2c"/>
<circle cx="292.98" cy="82.40" r="2.0" fill="#a30a2c"/>
<circle cx="294.66" cy="78.08" r="2.0" fill="#a30a2c"/>
<circle cx="295.38" cy="84.09" r="2.0" fill="#a30a2c"/>
<circle cx="299.47" cy="82.40" r="2.0" fill="#a30a2c"/>
<circle cx="300.67" cy="81.68" r="2.0" fill="#a30a2c"/>
<circle cx="301.88" cy="75.67" r="2.0" fill="#a30a2c"/>
<circle cx="303.08" cy="77.60" r="2.0" fill="#a30a2c"/>
<circle cx="304.76" cy="85.77" r="2.0" fill="#a30a2c"/>
<circle cx="305.96" cy="78.08" r="2.0" fill="#a30a2c"/>
<circle cx="307.40" cy="79.28" r="2.0" fill="#a30a2c"/>
<circle cx="308.37" cy="80.00" r="2.0" fill="#a30a2c"/>
<circle cx="309.09" cy="70.38" r="2.0" fill="#a30a2c"/>
<circle cx="309.81" cy="76.88" r="2.0" fill="#a30a2c"/>
<circle cx="310.77" cy="80.48" r="2.0" fill="#a30a2c"/>
<circle cx="311.49" cy="74.47" r="2.0" fill="#a30a2c"/>
<circle cx="312.69" cy="78.08" r="2.0" fill="#a30a2c"/>
<circle cx="313.17" cy="64.86" r="2.0" fill="#a30a2c"/>
<circle cx="313.89" cy="75.67" r="2.0" fill="#a30a2c"/>
<circle cx="315.10" cy="72.07" r="2.0" fill="#a30a2c"/>
<circle cx="316.30" cy="74.47" r="2.0" fill="#a30a2c"/>
<circle cx="317.02" cy="68.46" r="2.0" fill="#a30a2c"/>
<circle cx="317.98" cy="72.79" r="2.0" fill="#a30a2c"/>
<circle cx="318.70" cy="76.88" r="2.0" fill="#a30a2c"/>
<circle cx="319.18" cy="77.60" r="2.0" fill="#a30a2c"/>
<circle cx="319.90" cy="66.06" r="2.0" fill="#a30a2c"/>
<circle cx="320.38" cy="69.66" r="2.0" fill="#a30a2c"/>
<circle cx="321.11" cy="72.07" r="2.0" fill="#a30a2c"/>
<circle cx="321.83" cy="67.26" r="2.0" fill="#a30a2c"/>
<circle cx="322.31" cy="58.37" r="2.0" fill="#a30a2c"/>
<circle cx="322.79" cy="70.87" r="2.0" fill="#a30a2c"/>
<circle cx="323.51" cy="68.46" r="2.0" fill="#a30a2c"/>
<circle cx="324.23" cy="64.86" r="2.0" fill="#a30a2c"/>
<circle cx="324.71" cy="72.07" r="2.0" fill="#a30a2c"/>
<circle cx="325.19" cy="63.17" r="2.0" fill="#a30a2c"/>
<circle cx="325.91" cy="69.66" r="2.0" fill="#a30a2c"/>
<circle cx="326.63" cy="54.76" r="2.0" fill="#a30a2c"/>
<circle cx="327.12" cy="67.26" r="2.0" fill="#a30a2c"/>
<circle cx="328.32" cy="66.06" r="2.0" fill="#a30a2c"/>
<circle cx="329.52" cy="61.25" r="2.0" fill="#a30a2c"/>
<circle cx="330.72" cy="64.86" r="2.0" fill="#a30a2c"/>
<circle cx="331.44" cy="67.26" r="2.0" fill="#a30a2c"/>
<circle cx="332.40" cy="65.58" r="2.0" fill="#a30a2c"/>
<circle cx="334.33" cy="51.15" r="2.0" fill="#a30a2c"/>
<circle cx="335.53" cy="55.96" r="2.0" fill="#a30a2c"/>
<circle cx="336.25" cy="61.25" r="2.0" fill="#a30a2c"/>
<circle cx="337.21" cy="56.44" r="2.0" fill="#a30a2c"/>
<circle cx="337.93" cy="60.77" r="2.0" fill="#a30a2c"/>
<circle cx="339.13" cy="50.43" r="2.0" fill="#a30a2c"/>
<circle cx="341.06" cy="61.73" r="2.0" fill="#a30a2c"/>
<circle cx="342.74" cy="56.44" r="2.0" fill="#a30a2c"/>
<circle cx="343.94" cy="51.63" r="2.0" fill="#a30a2c"/>
<circle cx="345.14" cy="50.43" r="2.0" fill="#a30a2c"/>
<circle cx="355.96" cy="44.90" r="2.0" fill="#a30a2c"/>
<circle cx="357.16" cy="43.22" r="2.0" fill="#a30a2c"/>
<circle cx="364.38" cy="40.82" r="2.0" fill="#a30a2c"/>
<text x="107.20" y="211.40" font-size="6.5" text-anchor="middle" fill="#222" >IL-6</text>
<line x1="44.20" y1="217.00" x2="44.20" y2="293.80" stroke="#1a1a1a" stroke-width="1"/>
<line x1="41.20" y1="218.80" x2="44.20" y2="218.80" stroke="#1a1a1a" stroke-width="1.0"/>
<text x="39.00" y="221.00" font-size="6.3" text-anchor="end" fill="#222" >1024</text>
<line x1="41.20" y1="233.80" x2="44.20" y2="233.80" stroke="#1a1a1a" stroke-width="1.0"/>
<text x="39.00" y="236.00" font-size="6.3" text-anchor="end" fill="#222" >256</text>
<line x1="41.20" y1="248.70" x2="44.20" y2="248.70" stroke="#1a1a1a" stroke-width="1.0"/>
<text x="39.00" y="250.90" font-size="6.3" text-anchor="end" fill="#222" >64</text>
<line x1="41.20" y1="263.70" x2="44.20" y2="263.70" stroke="#1a1a1a" stroke-width="1.0"/>
<text x="39.00" y="265.90" font-size="6.3" text-anchor="end" fill="#222" >16</text>
<line x1="41.20" y1="278.50" x2="44.20" y2="278.50" stroke="#1a1a1a" stroke-width="1.0"/>
<text x="39.00" y="280.70" font-size="6.3" text-anchor="end" fill="#222" >4</text>
<line x1="41.20" y1="293.30" x2="44.20" y2="293.30" stroke="#1a1a1a" stroke-width="1.0"/>
<text x="39.00" y="295.50" font-size="6.3" text-anchor="end" fill="#222" >1</text>
<line x1="171.00" y1="218.00" x2="171.00" y2="293.80" stroke="#1a1a1a" stroke-width="1"/>
<line x1="170.60" y1="229.50" x2="173.80" y2="229.50" stroke="#1a1a1a" stroke-width="1.0"/>
<text x="176.60" y="231.70" font-size="6.3" text-anchor="start" fill="#222" >32768</text>
<line x1="170.60" y1="250.80" x2="173.80" y2="250.80" stroke="#1a1a1a" stroke-width="1.0"/>
<text x="176.60" y="253.00" font-size="6.3" text-anchor="start" fill="#222" >1024</text>
<line x1="170.60" y1="272.00" x2="173.80" y2="272.00" stroke="#1a1a1a" stroke-width="1.0"/>
<text x="176.60" y="274.20" font-size="6.3" text-anchor="start" fill="#222" >32</text>
<line x1="170.60" y1="293.00" x2="173.80" y2="293.00" stroke="#1a1a1a" stroke-width="1.0"/>
<text x="176.60" y="295.20" font-size="6.3" text-anchor="start" fill="#222" >1</text>
<line x1="44.20" y1="293.50" x2="171.00" y2="293.50" stroke="#1a1a1a" stroke-width="1"/>
<text x="14.60" y="254.40" font-size="9.5" text-anchor="middle" fill="#222" textLength="71" lengthAdjust="spacingAndGlyphs" transform="rotate(-90 14.60 254.40)" class="ax" >Baseline or day 0 IL-6</text>
<text x="199.60" y="254.50" font-size="9.5" text-anchor="middle" fill="#222" textLength="30" lengthAdjust="spacingAndGlyphs" transform="rotate(90 199.60 254.50)" class="ax" >Peak IL-6</text>
<line x1="57.70" y1="293.50" x2="57.70" y2="296.20" stroke="#1a1a1a" stroke-width="1.0"/>
<text x="60.20" y="301.90" font-size="6.4" text-anchor="end" fill="#222" transform="rotate(-45 60.20 301.90)" >Baseline</text>
<line x1="77.50" y1="293.50" x2="77.50" y2="296.20" stroke="#1a1a1a" stroke-width="1.0"/>
<text x="80.00" y="301.90" font-size="6.4" text-anchor="end" fill="#222" transform="rotate(-45 80.00 301.90)" >Baseline</text>
<line x1="97.30" y1="293.50" x2="97.30" y2="296.20" stroke="#1a1a1a" stroke-width="1.0"/>
<text x="99.80" y="301.90" font-size="6.4" text-anchor="end" fill="#222" transform="rotate(-45 99.80 301.90)" >Day 0</text>
<line x1="116.90" y1="293.50" x2="116.90" y2="296.20" stroke="#1a1a1a" stroke-width="1.0"/>
<text x="119.40" y="301.90" font-size="6.4" text-anchor="end" fill="#222" transform="rotate(-45 119.40 301.90)" >Day 0</text>
<line x1="137.20" y1="293.50" x2="137.20" y2="296.20" stroke="#1a1a1a" stroke-width="1.0"/>
<text x="139.70" y="301.90" font-size="6.4" text-anchor="end" fill="#222" transform="rotate(-45 139.70 301.90)" >Peak</text>
<line x1="156.90" y1="293.50" x2="156.90" y2="296.20" stroke="#1a1a1a" stroke-width="1.0"/>
<text x="159.40" y="301.90" font-size="6.4" text-anchor="end" fill="#222" transform="rotate(-45 159.40 301.90)" >Peak</text>
<line x1="57.70" y1="254.40" x2="57.70" y2="285.20" stroke="#1a3775" stroke-width="0.9"/>
<line x1="54.70" y1="254.40" x2="60.70" y2="254.40" stroke="#1a3775" stroke-width="0.9"/>
<line x1="54.70" y1="285.20" x2="60.70" y2="285.20" stroke="#1a3775" stroke-width="0.9"/>
<rect x="51.55" y="260.00" width="12.30" height="13.80" fill="#969ed0" />
<circle cx="57.53" cy="271.95" r="0.9" fill="#1a3775"/>
<circle cx="56.14" cy="258.72" r="0.9" fill="#1a3775"/>
<circle cx="55.30" cy="258.46" r="0.9" fill="#1a3775"/>
<circle cx="57.81" cy="273.65" r="0.9" fill="#1a3775"/>
<circle cx="63.45" cy="268.90" r="0.9" fill="#1a3775"/>
<circle cx="59.39" cy="276.96" r="0.9" fill="#1a3775"/>
<circle cx="62.72" cy="269.60" r="0.9" fill="#1a3775"/>
<circle cx="59.43" cy="257.31" r="0.9" fill="#1a3775"/>
<circle cx="62.14" cy="264.96" r="0.9" fill="#1a3775"/>
<circle cx="55.44" cy="268.73" r="0.9" fill="#1a3775"/>
<circle cx="62.86" cy="266.45" r="0.9" fill="#1a3775"/>
<circle cx="52.13" cy="273.09" r="0.9" fill="#1a3775"/>
<circle cx="63.05" cy="271.03" r="0.9" fill="#1a3775"/>
<circle cx="56.51" cy="266.16" r="0.9" fill="#1a3775"/>
<circle cx="54.35" cy="261.36" r="0.9" fill="#1a3775"/>
<circle cx="54.31" cy="266.73" r="0.9" fill="#1a3775"/>
<circle cx="59.37" cy="283.49" r="0.9" fill="#1a3775"/>
<circle cx="56.99" cy="256.30" r="0.9" fill="#1a3775"/>
<circle cx="62.61" cy="283.31" r="0.9" fill="#1a3775"/>
<circle cx="53.99" cy="273.52" r="0.9" fill="#1a3775"/>
<circle cx="60.14" cy="269.93" r="0.9" fill="#1a3775"/>
<circle cx="56.38" cy="257.72" r="0.9" fill="#1a3775"/>
<circle cx="53.78" cy="280.43" r="0.9" fill="#1a3775"/>
<circle cx="58.93" cy="259.27" r="0.9" fill="#1a3775"/>
<circle cx="57.99" cy="277.63" r="0.9" fill="#1a3775"/>
<circle cx="57.33" cy="261.75" r="0.9" fill="#1a3775"/>
<circle cx="53.39" cy="272.60" r="0.9" fill="#1a3775"/>
<circle cx="61.19" cy="268.01" r="0.9" fill="#1a3775"/>
<circle cx="57.70" cy="254.40" r="0.9" fill="#1a3775"/>
<circle cx="57.70" cy="285.20" r="0.9" fill="#1a3775"/>
<line x1="77.50" y1="238.30" x2="77.50" y2="293.00" stroke="#a30a2c" stroke-width="0.9"/>
<line x1="74.50" y1="238.30" x2="80.50" y2="238.30" stroke="#a30a2c" stroke-width="0.9"/>
<line x1="74.50" y1="293.00" x2="80.50" y2="293.00" stroke="#a30a2c" stroke-width="0.9"/>
<rect x="71.20" y="252.80" width="12.60" height="19.40" fill="#d4917d" />
<circle cx="76.29" cy="257.46" r="0.9" fill="#a30a2c"/>
<circle cx="82.68" cy="269.28" r="0.9" fill="#a30a2c"/>
<circle cx="81.59" cy="259.76" r="0.9" fill="#a30a2c"/>
<circle cx="76.04" cy="276.69" r="0.9" fill="#a30a2c"/>
<circle cx="82.67" cy="270.92" r="0.9" fill="#a30a2c"/>
<circle cx="75.88" cy="256.54" r="0.9" fill="#a30a2c"/>
<circle cx="78.05" cy="268.10" r="0.9" fill="#a30a2c"/>
<circle cx="78.91" cy="252.64" r="0.9" fill="#a30a2c"/>
<circle cx="80.60" cy="265.13" r="0.9" fill="#a30a2c"/>
<circle cx="74.36" cy="273.35" r="0.9" fill="#a30a2c"/>
<circle cx="73.52" cy="256.41" r="0.9" fill="#a30a2c"/>
<circle cx="81.53" cy="260.71" r="0.9" fill="#a30a2c"/>
<circle cx="73.06" cy="254.77" r="0.9" fill="#a30a2c"/>
<circle cx="78.67" cy="264.08" r="0.9" fill="#a30a2c"/>
<circle cx="79.09" cy="274.49" r="0.9" fill="#a30a2c"/>
<circle cx="74.73" cy="259.56" r="0.9" fill="#a30a2c"/>
<circle cx="77.88" cy="258.44" r="0.9" fill="#a30a2c"/>
<circle cx="71.69" cy="258.19" r="0.9" fill="#a30a2c"/>
<circle cx="78.02" cy="276.65" r="0.9" fill="#a30a2c"/>
<circle cx="82.94" cy="266.01" r="0.9" fill="#a30a2c"/>
<circle cx="80.59" cy="254.04" r="0.9" fill="#a30a2c"/>
<circle cx="82.69" cy="255.84" r="0.9" fill="#a30a2c"/>
<circle cx="76.95" cy="255.84" r="0.9" fill="#a30a2c"/>
<circle cx="72.34" cy="244.25" r="0.9" fill="#a30a2c"/>
<circle cx="81.48" cy="280.52" r="0.9" fill="#a30a2c"/>
<circle cx="72.41" cy="250.18" r="0.9" fill="#a30a2c"/>
<circle cx="73.56" cy="286.35" r="0.9" fill="#a30a2c"/>
<circle cx="80.52" cy="283.71" r="0.9" fill="#a30a2c"/>
<circle cx="72.76" cy="264.96" r="0.9" fill="#a30a2c"/>
<circle cx="81.06" cy="286.76" r="0.9" fill="#a30a2c"/>
<circle cx="78.26" cy="258.73" r="0.9" fill="#a30a2c"/>
<circle cx="75.80" cy="273.33" r="0.9" fill="#a30a2c"/>
<circle cx="82.07" cy="259.65" r="0.9" fill="#a30a2c"/>
<circle cx="74.83" cy="277.30" r="0.9" fill="#a30a2c"/>
<circle cx="82.30" cy="286.81" r="0.9" fill="#a30a2c"/>
<circle cx="75.78" cy="259.02" r="0.9" fill="#a30a2c"/>
<circle cx="79.54" cy="283.22" r="0.9" fill="#a30a2c"/>
<circle cx="72.46" cy="265.72" r="0.9" fill="#a30a2c"/>
<circle cx="74.49" cy="249.57" r="0.9" fill="#a30a2c"/>
<circle cx="79.20" cy="276.20" r="0.9" fill="#a30a2c"/>
<circle cx="77.50" cy="238.30" r="0.9" fill="#a30a2c"/>
<circle cx="77.50" cy="293.00" r="0.9" fill="#a30a2c"/>
<line x1="97.30" y1="241.50" x2="97.30" y2="277.30" stroke="#1a3775" stroke-width="0.9"/>
<line x1="94.30" y1="241.50" x2="100.30" y2="241.50" stroke="#1a3775" stroke-width="0.9"/>
<line x1="94.30" y1="277.30" x2="100.30" y2="277.30" stroke="#1a3775" stroke-width="0.9"/>
<rect x="91.15" y="261.20" width="12.30" height="10.30" fill="#969ed0" />
<circle cx="99.10" cy="274.07" r="0.9" fill="#1a3775"/>
<circle cx="98.17" cy="264.10" r="0.9" fill="#1a3775"/>
<circle cx="100.18" cy="262.79" r="0.9" fill="#1a3775"/>
<circle cx="95.79" cy="271.64" r="0.9" fill="#1a3775"/>
<circle cx="98.17" cy="261.56" r="0.9" fill="#1a3775"/>
<circle cx="92.25" cy="264.68" r="0.9" fill="#1a3775"/>
<circle cx="100.84" cy="267.83" r="0.9" fill="#1a3775"/>
<circle cx="102.41" cy="266.89" r="0.9" fill="#1a3775"/>
<circle cx="95.36" cy="259.70" r="0.9" fill="#1a3775"/>
<circle cx="99.62" cy="271.93" r="0.9" fill="#1a3775"/>
<circle cx="93.59" cy="266.51" r="0.9" fill="#1a3775"/>
<circle cx="95.37" cy="263.22" r="0.9" fill="#1a3775"/>
<circle cx="94.01" cy="272.42" r="0.9" fill="#1a3775"/>
<circle cx="94.94" cy="269.38" r="0.9" fill="#1a3775"/>
<circle cx="94.06" cy="270.88" r="0.9" fill="#1a3775"/>
<circle cx="95.64" cy="263.97" r="0.9" fill="#1a3775"/>
<circle cx="102.84" cy="268.98" r="0.9" fill="#1a3775"/>
<circle cx="94.80" cy="265.54" r="0.9" fill="#1a3775"/>
<circle cx="98.43" cy="264.21" r="0.9" fill="#1a3775"/>
<circle cx="95.39" cy="257.34" r="0.9" fill="#1a3775"/>
<circle cx="99.08" cy="269.87" r="0.9" fill="#1a3775"/>
<circle cx="102.15" cy="271.18" r="0.9" fill="#1a3775"/>
<circle cx="93.75" cy="274.62" r="0.9" fill="#1a3775"/>
<circle cx="99.99" cy="263.32" r="0.9" fill="#1a3775"/>
<circle cx="100.41" cy="266.96" r="0.9" fill="#1a3775"/>
<circle cx="96.06" cy="259.18" r="0.9" fill="#1a3775"/>
<circle cx="97.27" cy="262.73" r="0.9" fill="#1a3775"/>
<circle cx="94.99" cy="273.66" r="0.9" fill="#1a3775"/>
<circle cx="94.87" cy="252.10" r="0.9" fill="#1a3775"/>
<circle cx="93.31" cy="258.82" r="0.9" fill="#1a3775"/>
<circle cx="100.15" cy="262.61" r="0.9" fill="#1a3775"/>
<circle cx="95.83" cy="247.32" r="0.9" fill="#1a3775"/>
<circle cx="97.30" cy="241.50" r="0.9" fill="#1a3775"/>
<circle cx="97.30" cy="277.30" r="0.9" fill="#1a3775"/>
<line x1="116.90" y1="235.00" x2="116.90" y2="279.00" stroke="#a30a2c" stroke-width="0.9"/>
<line x1="113.90" y1="235.00" x2="119.90" y2="235.00" stroke="#a30a2c" stroke-width="0.9"/>
<line x1="113.90" y1="279.00" x2="119.90" y2="279.00" stroke="#a30a2c" stroke-width="0.9"/>
<rect x="110.80" y="252.00" width="12.20" height="16.50" fill="#d4917d" />
<circle cx="119.94" cy="269.08" r="0.9" fill="#a30a2c"/>
<circle cx="119.54" cy="266.78" r="0.9" fill="#a30a2c"/>
<circle cx="120.00" cy="254.32" r="0.9" fill="#a30a2c"/>
<circle cx="116.20" cy="261.61" r="0.9" fill="#a30a2c"/>
<circle cx="114.17" cy="270.52" r="0.9" fill="#a30a2c"/>
<circle cx="115.03" cy="248.01" r="0.9" fill="#a30a2c"/>
<circle cx="119.65" cy="248.99" r="0.9" fill="#a30a2c"/>
<circle cx="119.02" cy="267.84" r="0.9" fill="#a30a2c"/>
<circle cx="112.26" cy="266.97" r="0.9" fill="#a30a2c"/>
<circle cx="112.84" cy="258.15" r="0.9" fill="#a30a2c"/>
<circle cx="121.21" cy="257.71" r="0.9" fill="#a30a2c"/>
<circle cx="114.63" cy="268.77" r="0.9" fill="#a30a2c"/>
<circle cx="117.96" cy="265.08" r="0.9" fill="#a30a2c"/>
<circle cx="121.10" cy="258.19" r="0.9" fill="#a30a2c"/>
<circle cx="112.70" cy="256.29" r="0.9" fill="#a30a2c"/>
<circle cx="118.76" cy="261.69" r="0.9" fill="#a30a2c"/>
<circle cx="115.35" cy="266.72" r="0.9" fill="#a30a2c"/>
<circle cx="119.00" cy="254.91" r="0.9" fill="#a30a2c"/>
<circle cx="115.17" cy="251.01" r="0.9" fill="#a30a2c"/>
<circle cx="117.04" cy="265.53" r="0.9" fill="#a30a2c"/>
<circle cx="116.33" cy="269.19" r="0.9" fill="#a30a2c"/>
<circle cx="116.76" cy="255.08" r="0.9" fill="#a30a2c"/>
<circle cx="117.51" cy="258.01" r="0.9" fill="#a30a2c"/>
<circle cx="115.44" cy="270.63" r="0.9" fill="#a30a2c"/>
<circle cx="113.06" cy="262.47" r="0.9" fill="#a30a2c"/>
<circle cx="118.95" cy="267.91" r="0.9" fill="#a30a2c"/>
<circle cx="116.51" cy="248.79" r="0.9" fill="#a30a2c"/>
<circle cx="116.29" cy="272.37" r="0.9" fill="#a30a2c"/>
<circle cx="122.01" cy="239.52" r="0.9" fill="#a30a2c"/>
<circle cx="114.53" cy="271.41" r="0.9" fill="#a30a2c"/>
<circle cx="113.06" cy="269.48" r="0.9" fill="#a30a2c"/>
<circle cx="121.63" cy="277.45" r="0.9" fill="#a30a2c"/>
<circle cx="117.34" cy="269.41" r="0.9" fill="#a30a2c"/>
<circle cx="113.30" cy="265.21" r="0.9" fill="#a30a2c"/>
<circle cx="120.81" cy="259.25" r="0.9" fill="#a30a2c"/>
<circle cx="119.82" cy="254.99" r="0.9" fill="#a30a2c"/>
<circle cx="113.86" cy="240.49" r="0.9" fill="#a30a2c"/>
<circle cx="116.05" cy="262.42" r="0.9" fill="#a30a2c"/>
<circle cx="116.54" cy="256.51" r="0.9" fill="#a30a2c"/>
<circle cx="117.96" cy="237.47" r="0.9" fill="#a30a2c"/>
<circle cx="115.12" cy="238.95" r="0.9" fill="#a30a2c"/>
<circle cx="112.70" cy="264.95" r="0.9" fill="#a30a2c"/>
<circle cx="114.16" cy="268.17" r="0.9" fill="#a30a2c"/>
<circle cx="120.04" cy="255.49" r="0.9" fill="#a30a2c"/>
<circle cx="112.68" cy="254.30" r="0.9" fill="#a30a2c"/>
<circle cx="116.63" cy="270.34" r="0.9" fill="#a30a2c"/>
<circle cx="113.56" cy="265.53" r="0.9" fill="#a30a2c"/>
<circle cx="116.68" cy="260.79" r="0.9" fill="#a30a2c"/>
<circle cx="113.73" cy="246.04" r="0.9" fill="#a30a2c"/>
<circle cx="112.20" cy="258.54" r="0.9" fill="#a30a2c"/>
<circle cx="114.97" cy="251.31" r="0.9" fill="#a30a2c"/>
<circle cx="117.91" cy="264.30" r="0.9" fill="#a30a2c"/>
<circle cx="118.46" cy="244.68" r="0.9" fill="#a30a2c"/>
<circle cx="121.12" cy="253.16" r="0.9" fill="#a30a2c"/>
<circle cx="113.53" cy="239.43" r="0.9" fill="#a30a2c"/>
<circle cx="116.90" cy="235.00" r="0.9" fill="#a30a2c"/>
<circle cx="116.90" cy="279.00" r="0.9" fill="#a30a2c"/>
<line x1="137.20" y1="236.20" x2="137.20" y2="273.80" stroke="#1a3775" stroke-width="0.9"/>
<line x1="134.20" y1="236.20" x2="140.20" y2="236.20" stroke="#1a3775" stroke-width="0.9"/>
<line x1="134.20" y1="273.80" x2="140.20" y2="273.80" stroke="#1a3775" stroke-width="0.9"/>
<rect x="131.05" y="248.50" width="12.30" height="15.00" fill="#969ed0" />
<circle cx="138.56" cy="262.74" r="0.9" fill="#1a3775"/>
<circle cx="142.19" cy="255.12" r="0.9" fill="#1a3775"/>
<circle cx="138.05" cy="258.70" r="0.9" fill="#1a3775"/>
<circle cx="135.83" cy="264.00" r="0.9" fill="#1a3775"/>
<circle cx="142.31" cy="252.43" r="0.9" fill="#1a3775"/>
<circle cx="135.99" cy="250.65" r="0.9" fill="#1a3775"/>
<circle cx="140.54" cy="266.35" r="0.9" fill="#1a3775"/>
<circle cx="139.21" cy="261.70" r="0.9" fill="#1a3775"/>
<circle cx="135.45" cy="255.73" r="0.9" fill="#1a3775"/>
<circle cx="137.51" cy="254.55" r="0.9" fill="#1a3775"/>
<circle cx="135.68" cy="248.66" r="0.9" fill="#1a3775"/>
<circle cx="138.38" cy="249.02" r="0.9" fill="#1a3775"/>
<circle cx="135.53" cy="252.02" r="0.9" fill="#1a3775"/>
<circle cx="135.59" cy="265.80" r="0.9" fill="#1a3775"/>
<circle cx="135.19" cy="258.26" r="0.9" fill="#1a3775"/>
<circle cx="135.76" cy="258.32" r="0.9" fill="#1a3775"/>
<circle cx="140.82" cy="256.79" r="0.9" fill="#1a3775"/>
<circle cx="136.51" cy="262.55" r="0.9" fill="#1a3775"/>
<circle cx="140.73" cy="255.03" r="0.9" fill="#1a3775"/>
<circle cx="136.70" cy="260.19" r="0.9" fill="#1a3775"/>
<circle cx="133.25" cy="262.56" r="0.9" fill="#1a3775"/>
<circle cx="135.84" cy="264.30" r="0.9" fill="#1a3775"/>
<circle cx="138.59" cy="266.27" r="0.9" fill="#1a3775"/>
<circle cx="137.56" cy="242.41" r="0.9" fill="#1a3775"/>
<circle cx="134.69" cy="261.73" r="0.9" fill="#1a3775"/>
<circle cx="134.12" cy="254.74" r="0.9" fill="#1a3775"/>
<circle cx="135.96" cy="256.33" r="0.9" fill="#1a3775"/>
<circle cx="139.26" cy="247.75" r="0.9" fill="#1a3775"/>
<circle cx="132.10" cy="262.16" r="0.9" fill="#1a3775"/>
<circle cx="142.11" cy="261.67" r="0.9" fill="#1a3775"/>
<circle cx="140.75" cy="259.85" r="0.9" fill="#1a3775"/>
<circle cx="137.47" cy="268.96" r="0.9" fill="#1a3775"/>
<circle cx="134.38" cy="249.35" r="0.9" fill="#1a3775"/>
<circle cx="132.78" cy="239.15" r="0.9" fill="#1a3775"/>
<circle cx="141.70" cy="249.64" r="0.9" fill="#1a3775"/>
<circle cx="132.75" cy="256.63" r="0.9" fill="#1a3775"/>
<circle cx="134.31" cy="255.33" r="0.9" fill="#1a3775"/>
<circle cx="141.00" cy="271.21" r="0.9" fill="#1a3775"/>
<circle cx="136.47" cy="252.31" r="0.9" fill="#1a3775"/>
<circle cx="135.03" cy="262.53" r="0.9" fill="#1a3775"/>
<circle cx="139.69" cy="261.81" r="0.9" fill="#1a3775"/>
<circle cx="141.94" cy="265.77" r="0.9" fill="#1a3775"/>
<circle cx="137.20" cy="236.20" r="0.9" fill="#1a3775"/>
<circle cx="137.20" cy="273.80" r="0.9" fill="#1a3775"/>
<line x1="130.60" y1="257.30" x2="143.80" y2="257.30" stroke="#1a3775" stroke-width="1.0"/>
<line x1="156.90" y1="219.60" x2="156.90" y2="275.00" stroke="#a30a2c" stroke-width="0.9"/>
<line x1="153.90" y1="219.60" x2="159.90" y2="219.60" stroke="#a30a2c" stroke-width="0.9"/>
<line x1="153.90" y1="275.00" x2="159.90" y2="275.00" stroke="#a30a2c" stroke-width="0.9"/>
<rect x="150.90" y="242.20" width="12.00" height="21.30" fill="#d4917d" />
<circle cx="154.71" cy="258.25" r="0.9" fill="#a30a2c"/>
<circle cx="158.90" cy="237.80" r="0.9" fill="#a30a2c"/>
<circle cx="161.16" cy="245.30" r="0.9" fill="#a30a2c"/>
<circle cx="160.18" cy="244.62" r="0.9" fill="#a30a2c"/>
<circle cx="156.59" cy="244.37" r="0.9" fill="#a30a2c"/>
<circle cx="156.46" cy="258.05" r="0.9" fill="#a30a2c"/>
<circle cx="157.92" cy="245.38" r="0.9" fill="#a30a2c"/>
<circle cx="158.16" cy="260.10" r="0.9" fill="#a30a2c"/>
<circle cx="156.59" cy="242.40" r="0.9" fill="#a30a2c"/>
<circle cx="154.89" cy="252.79" r="0.9" fill="#a30a2c"/>
<circle cx="159.38" cy="259.93" r="0.9" fill="#a30a2c"/>
<circle cx="151.39" cy="253.26" r="0.9" fill="#a30a2c"/>
<circle cx="161.88" cy="254.01" r="0.9" fill="#a30a2c"/>
<circle cx="162.24" cy="261.30" r="0.9" fill="#a30a2c"/>
<circle cx="156.78" cy="239.06" r="0.9" fill="#a30a2c"/>
<circle cx="152.93" cy="249.54" r="0.9" fill="#a30a2c"/>
<circle cx="158.25" cy="265.55" r="0.9" fill="#a30a2c"/>
<circle cx="153.25" cy="245.98" r="0.9" fill="#a30a2c"/>
<circle cx="153.86" cy="253.31" r="0.9" fill="#a30a2c"/>
<circle cx="161.40" cy="250.99" r="0.9" fill="#a30a2c"/>
<circle cx="154.36" cy="267.35" r="0.9" fill="#a30a2c"/>
<circle cx="154.88" cy="246.15" r="0.9" fill="#a30a2c"/>
<circle cx="153.76" cy="237.06" r="0.9" fill="#a30a2c"/>
<circle cx="157.20" cy="242.87" r="0.9" fill="#a30a2c"/>
<circle cx="155.94" cy="260.95" r="0.9" fill="#a30a2c"/>
<circle cx="160.44" cy="243.17" r="0.9" fill="#a30a2c"/>
<circle cx="159.88" cy="238.91" r="0.9" fill="#a30a2c"/>
<circle cx="161.75" cy="248.04" r="0.9" fill="#a30a2c"/>
<circle cx="159.40" cy="255.12" r="0.9" fill="#a30a2c"/>
<circle cx="158.05" cy="238.31" r="0.9" fill="#a30a2c"/>
<circle cx="154.48" cy="246.55" r="0.9" fill="#a30a2c"/>
<circle cx="156.13" cy="226.16" r="0.9" fill="#a30a2c"/>
<circle cx="156.78" cy="222.47" r="0.9" fill="#a30a2c"/>
<circle cx="161.10" cy="231.21" r="0.9" fill="#a30a2c"/>
<circle cx="159.83" cy="246.51" r="0.9" fill="#a30a2c"/>
<circle cx="158.54" cy="269.63" r="0.9" fill="#a30a2c"/>
<circle cx="154.83" cy="255.05" r="0.9" fill="#a30a2c"/>
<circle cx="160.54" cy="224.08" r="0.9" fill="#a30a2c"/>
<circle cx="160.29" cy="253.56" r="0.9" fill="#a30a2c"/>
<circle cx="155.63" cy="256.31" r="0.9" fill="#a30a2c"/>
<circle cx="157.25" cy="259.69" r="0.9" fill="#a30a2c"/>
<circle cx="157.41" cy="255.39" r="0.9" fill="#a30a2c"/>
<circle cx="159.17" cy="265.88" r="0.9" fill="#a30a2c"/>
<circle cx="154.05" cy="249.91" r="0.9" fill="#a30a2c"/>
<circle cx="157.02" cy="225.28" r="0.9" fill="#a30a2c"/>
<circle cx="159.16" cy="228.80" r="0.9" fill="#a30a2c"/>
<circle cx="159.60" cy="224.84" r="0.9" fill="#a30a2c"/>
<circle cx="155.00" cy="264.48" r="0.9" fill="#a30a2c"/>
<circle cx="155.13" cy="268.17" r="0.9" fill="#a30a2c"/>
<circle cx="161.85" cy="244.86" r="0.9" fill="#a30a2c"/>
<circle cx="158.69" cy="269.07" r="0.9" fill="#a30a2c"/>
<circle cx="161.27" cy="241.02" r="0.9" fill="#a30a2c"/>
<circle cx="161.26" cy="253.98" r="0.9" fill="#a30a2c"/>
<circle cx="160.04" cy="263.08" r="0.9" fill="#a30a2c"/>
<circle cx="155.35" cy="256.74" r="0.9" fill="#a30a2c"/>
<circle cx="159.44" cy="244.43" r="0.9" fill="#a30a2c"/>
<circle cx="158.74" cy="253.86" r="0.9" fill="#a30a2c"/>
<circle cx="153.58" cy="221.94" r="0.9" fill="#a30a2c"/>
<circle cx="156.90" cy="219.60" r="0.9" fill="#a30a2c"/>
<circle cx="156.90" cy="275.00" r="0.9" fill="#a30a2c"/>
<line x1="150.50" y1="255.30" x2="163.30" y2="255.30" stroke="#a30a2c" stroke-width="1.0"/>
<path d="M57.70 232.80 V231.30 H77.50 V232.80" fill="none" stroke="#222" stroke-width="0.9"/>
<text x="67.60" y="228.30" font-size="5.5" text-anchor="middle" fill="#222"><tspan font-style="italic">P</tspan> = .4</text>
<path d="M97.30 232.70 V231.20 H116.90 V232.70" fill="none" stroke="#222" stroke-width="0.9"/>
<text x="107.10" y="228.20" font-size="5.5" text-anchor="middle" fill="#222"><tspan font-style="italic">P</tspan> = .03</text>
<path d="M137.20 217.70 V216.20 H156.90 V217.70" fill="none" stroke="#222" stroke-width="0.9"/>
<text x="147.05" y="213.20" font-size="5.5" text-anchor="middle" fill="#222"><tspan font-style="italic">P</tspan> = .3</text>
<rect x="43.80" y="326.20" width="6.20" height="6.10" fill="#8790c4" />
<rect x="43.80" y="335.40" width="6.20" height="6.00" fill="#d2867a" />
<text x="53.20" y="331.30" font-size="6.1" text-anchor="start" fill="#333" textLength="49" lengthAdjust="spacingAndGlyphs" >Durable Responders</text>
<text x="53.20" y="340.20" font-size="6.1" text-anchor="start" fill="#333" textLength="58.6" lengthAdjust="spacingAndGlyphs" >Non-durable responders</text>
<text x="319.50" y="210.80" font-size="7" text-anchor="middle" fill="#222" textLength="112" lengthAdjust="spacingAndGlyphs" >IL-6 before and after LD chemotherapy</text>
<line x1="260.40" y1="218.50" x2="260.40" y2="293.00" stroke="#1a1a1a" stroke-width="1"/>
<line x1="260.00" y1="292.70" x2="378.80" y2="292.70" stroke="#1a1a1a" stroke-width="1"/>
<line x1="257.40" y1="220.60" x2="260.40" y2="220.60" stroke="#1a1a1a" stroke-width="1.0"/>
<text x="255.60" y="222.80" font-size="6.3" text-anchor="end" fill="#222" >256</text>
<line x1="257.40" y1="230.90" x2="260.40" y2="230.90" stroke="#1a1a1a" stroke-width="1.0"/>
<text x="255.60" y="233.10" font-size="6.3" text-anchor="end" fill="#222" >128</text>
<line x1="257.40" y1="241.20" x2="260.40" y2="241.20" stroke="#1a1a1a" stroke-width="1.0"/>
<text x="255.60" y="243.40" font-size="6.3" text-anchor="end" fill="#222" >64</text>
<line x1="257.40" y1="251.50" x2="260.40" y2="251.50" stroke="#1a1a1a" stroke-width="1.0"/>
<text x="255.60" y="253.70" font-size="6.3" text-anchor="end" fill="#222" >32</text>
<line x1="257.40" y1="261.80" x2="260.40" y2="261.80" stroke="#1a1a1a" stroke-width="1.0"/>
<text x="255.60" y="264.00" font-size="6.3" text-anchor="end" fill="#222" >16</text>
<line x1="257.40" y1="272.10" x2="260.40" y2="272.10" stroke="#1a1a1a" stroke-width="1.0"/>
<text x="255.60" y="274.30" font-size="6.3" text-anchor="end" fill="#222" >8</text>
<line x1="257.40" y1="282.40" x2="260.40" y2="282.40" stroke="#1a1a1a" stroke-width="1.0"/>
<text x="255.60" y="284.60" font-size="6.3" text-anchor="end" fill="#222" >4</text>
<line x1="257.40" y1="292.70" x2="260.40" y2="292.70" stroke="#1a1a1a" stroke-width="1.0"/>
<text x="255.60" y="294.90" font-size="6.3" text-anchor="end" fill="#222" >2</text>
<line x1="260.40" y1="292.70" x2="260.40" y2="295.50" stroke="#1a1a1a" stroke-width="1.0"/>
<text x="260.40" y="303.80" font-size="6.3" text-anchor="middle" fill="#222" >0.5</text>
<line x1="273.10" y1="292.70" x2="273.10" y2="295.50" stroke="#1a1a1a" stroke-width="1.0"/>
<text x="273.10" y="303.80" font-size="6.3" text-anchor="middle" fill="#222" >1</text>
<line x1="285.80" y1="292.70" x2="285.80" y2="295.50" stroke="#1a1a1a" stroke-width="1.0"/>
<text x="285.80" y="303.80" font-size="6.3" text-anchor="middle" fill="#222" >2</text>
<line x1="298.50" y1="292.70" x2="298.50" y2="295.50" stroke="#1a1a1a" stroke-width="1.0"/>
<text x="298.50" y="303.80" font-size="6.3" text-anchor="middle" fill="#222" >4</text>
<line x1="311.20" y1="292.70" x2="311.20" y2="295.50" stroke="#1a1a1a" stroke-width="1.0"/>
<text x="311.20" y="303.80" font-size="6.3" text-anchor="middle" fill="#222" >8</text>
<line x1="323.90" y1="292.70" x2="323.90" y2="295.50" stroke="#1a1a1a" stroke-width="1.0"/>
<text x="323.90" y="303.80" font-size="6.3" text-anchor="middle" fill="#222" >16</text>
<line x1="336.60" y1="292.70" x2="336.60" y2="295.50" stroke="#1a1a1a" stroke-width="1.0"/>
<text x="336.60" y="303.80" font-size="6.3" text-anchor="middle" fill="#222" >32</text>
<line x1="349.30" y1="292.70" x2="349.30" y2="295.50" stroke="#1a1a1a" stroke-width="1.0"/>
<text x="349.30" y="303.80" font-size="6.3" text-anchor="middle" fill="#222" >64</text>
<line x1="362.00" y1="292.70" x2="362.00" y2="295.50" stroke="#1a1a1a" stroke-width="1.0"/>
<text x="362.00" y="303.80" font-size="6.3" text-anchor="middle" fill="#222" >128</text>
<line x1="374.70" y1="292.70" x2="374.70" y2="295.50" stroke="#1a1a1a" stroke-width="1.0"/>
<text x="374.70" y="303.80" font-size="6.3" text-anchor="middle" fill="#222" >256</text>
<text x="319.80" y="318.50" font-size="10" text-anchor="middle" fill="#222" textLength="41.4" lengthAdjust="spacingAndGlyphs" class="ax" >Baseline IL-6</text>
<text x="231.00" y="256.20" font-size="10" text-anchor="middle" fill="#222" textLength="101.6" lengthAdjust="spacingAndGlyphs" transform="rotate(-90 231.00 256.20)" class="ax" >Day 0 of CAR T-cell infusion IL-6</text>
<text x="276" y="226.7" font-size="6.2" fill="#222" font-style="italic" textLength="14.2" lengthAdjust="spacingAndGlyphs">R = .7</text>
<circle cx="273.39" cy="280.77" r="2.0" fill="#a30a2c"/>
<circle cx="287.23" cy="273.39" r="2.0" fill="#a30a2c"/>
<circle cx="287.23" cy="278.93" r="2.0" fill="#a30a2c"/>
<circle cx="293.46" cy="282.39" r="2.0" fill="#a30a2c"/>
<circle cx="295.31" cy="281.47" r="2.0" fill="#a30a2c"/>
<circle cx="295.31" cy="275.00" r="2.0" fill="#a30a2c"/>
<circle cx="299.70" cy="278.93" r="2.0" fill="#a30a2c"/>
<circle cx="300.39" cy="251.46" r="2.0" fill="#a30a2c"/>
<circle cx="303.39" cy="274.54" r="2.0" fill="#a30a2c"/>
<circle cx="308.93" cy="275.00" r="2.0" fill="#a30a2c"/>
<circle cx="309.62" cy="266.23" r="2.0" fill="#a30a2c"/>
<circle cx="310.77" cy="264.62" r="2.0" fill="#a30a2c"/>
<circle cx="311.23" cy="277.31" r="2.0" fill="#a30a2c"/>
<circle cx="311.23" cy="283.77" r="2.0" fill="#a30a2c"/>
<circle cx="312.62" cy="263.47" r="2.0" fill="#a30a2c"/>
<circle cx="313.08" cy="274.54" r="2.0" fill="#a30a2c"/>
<circle cx="316.54" cy="261.16" r="2.0" fill="#a30a2c"/>
<circle cx="318.85" cy="254.23" r="2.0" fill="#a30a2c"/>
<circle cx="318.85" cy="270.39" r="2.0" fill="#a30a2c"/>
<circle cx="319.54" cy="261.16" r="2.0" fill="#a30a2c"/>
<circle cx="320.47" cy="254.23" r="2.0" fill="#a30a2c"/>
<circle cx="321.16" cy="277.31" r="2.0" fill="#a30a2c"/>
<circle cx="321.85" cy="279.16" r="2.0" fill="#a30a2c"/>
<circle cx="322.31" cy="233.46" r="2.0" fill="#a30a2c"/>
<circle cx="323.47" cy="262.77" r="2.0" fill="#a30a2c"/>
<circle cx="324.62" cy="270.39" r="2.0" fill="#a30a2c"/>
<circle cx="325.31" cy="241.54" r="2.0" fill="#a30a2c"/>
<circle cx="327.62" cy="267.62" r="2.0" fill="#a30a2c"/>
<circle cx="328.77" cy="256.54" r="2.0" fill="#a30a2c"/>
<circle cx="329.93" cy="274.08" r="2.0" fill="#a30a2c"/>
<circle cx="331.08" cy="251.23" r="2.0" fill="#a30a2c"/>
<circle cx="331.54" cy="231.62" r="2.0" fill="#a30a2c"/>
<circle cx="332.01" cy="255.39" r="2.0" fill="#a30a2c"/>
<circle cx="332.01" cy="270.39" r="2.0" fill="#a30a2c"/>
<circle cx="333.85" cy="269.93" r="2.0" fill="#a30a2c"/>
<circle cx="338.01" cy="261.85" r="2.0" fill="#a30a2c"/>
<circle cx="339.85" cy="270.85" r="2.0" fill="#a30a2c"/>
<circle cx="342.62" cy="223.31" r="2.0" fill="#a30a2c"/>
<circle cx="343.08" cy="227.23" r="2.0" fill="#a30a2c"/>
<circle cx="343.08" cy="232.31" r="2.0" fill="#a30a2c"/>
<circle cx="347.70" cy="252.39" r="2.0" fill="#a30a2c"/>
<circle cx="348.39" cy="259.31" r="2.0" fill="#a30a2c"/>
<circle cx="351.62" cy="228.39" r="2.0" fill="#a30a2c"/>
<circle cx="353.47" cy="231.62" r="2.0" fill="#a30a2c"/>
<circle cx="362.70" cy="233.46" r="2.0" fill="#a30a2c"/>
<circle cx="367.32" cy="229.54" r="2.0" fill="#a30a2c"/>
<text x="100.00" y="377.60" font-size="6.5" text-anchor="middle" fill="#222" textLength="71" lengthAdjust="spacingAndGlyphs" >Baseline IL-6 and Ferritin</text>
<line x1="44.50" y1="385.30" x2="44.50" y2="455.80" stroke="#1a1a1a" stroke-width="1"/>
<line x1="44.10" y1="455.40" x2="153.20" y2="455.40" stroke="#1a1a1a" stroke-width="1"/>
<line x1="41.50" y1="387.60" x2="44.50" y2="387.60" stroke="#1a1a1a" stroke-width="1.0"/>
<text x="39.00" y="389.70" font-size="6.2" text-anchor="end" fill="#222" >256</text>
<line x1="41.50" y1="395.13" x2="44.50" y2="395.13" stroke="#1a1a1a" stroke-width="1.0"/>
<text x="39.00" y="397.23" font-size="6.2" text-anchor="end" fill="#222" >128</text>
<line x1="41.50" y1="402.66" x2="44.50" y2="402.66" stroke="#1a1a1a" stroke-width="1.0"/>
<text x="39.00" y="404.76" font-size="6.2" text-anchor="end" fill="#222" >64</text>
<line x1="41.50" y1="410.19" x2="44.50" y2="410.19" stroke="#1a1a1a" stroke-width="1.0"/>
<text x="39.00" y="412.29" font-size="6.2" text-anchor="end" fill="#222" >32</text>
<line x1="41.50" y1="417.72" x2="44.50" y2="417.72" stroke="#1a1a1a" stroke-width="1.0"/>
<text x="39.00" y="419.82" font-size="6.2" text-anchor="end" fill="#222" >16</text>
<line x1="41.50" y1="425.25" x2="44.50" y2="425.25" stroke="#1a1a1a" stroke-width="1.0"/>
<text x="39.00" y="427.35" font-size="6.2" text-anchor="end" fill="#222" >8</text>
<line x1="41.50" y1="432.78" x2="44.50" y2="432.78" stroke="#1a1a1a" stroke-width="1.0"/>
<text x="39.00" y="434.88" font-size="6.2" text-anchor="end" fill="#222" >4</text>
<line x1="41.50" y1="440.31" x2="44.50" y2="440.31" stroke="#1a1a1a" stroke-width="1.0"/>
<text x="39.00" y="442.41" font-size="6.2" text-anchor="end" fill="#222" >2</text>
<line x1="41.50" y1="447.84" x2="44.50" y2="447.84" stroke="#1a1a1a" stroke-width="1.0"/>
<text x="39.00" y="449.94" font-size="6.2" text-anchor="end" fill="#222" >1</text>
<line x1="41.50" y1="455.37" x2="44.50" y2="455.37" stroke="#1a1a1a" stroke-width="1.0"/>
<text x="39.00" y="457.47" font-size="6.2" text-anchor="end" fill="#222" >0.5</text>
<line x1="68.75" y1="455.40" x2="68.75" y2="458.20" stroke="#1a1a1a" stroke-width="1.0"/>
<text x="68.75" y="466.80" font-size="6.3" text-anchor="middle" fill="#222" >32</text>
<line x1="109.50" y1="455.40" x2="109.50" y2="458.20" stroke="#1a1a1a" stroke-width="1.0"/>
<text x="109.50" y="466.80" font-size="6.3" text-anchor="middle" fill="#222" >1024</text>
<line x1="150.75" y1="455.40" x2="150.75" y2="458.20" stroke="#1a1a1a" stroke-width="1.0"/>
<text x="150.75" y="466.80" font-size="6.3" text-anchor="middle" fill="#222" >32768</text>
<text x="98.75" y="479.60" font-size="10" text-anchor="middle" fill="#222" textLength="98" lengthAdjust="spacingAndGlyphs" class="ax" >Ferritin pre-LD chemotherapy</text>
<text x="15.60" y="420.70" font-size="10" text-anchor="middle" fill="#222" textLength="40.5" lengthAdjust="spacingAndGlyphs" transform="rotate(-90 15.60 420.70)" class="ax" >Baseline IL-6</text>
<text x="62.9" y="394.3" font-size="7" fill="#222" font-style="italic" textLength="21.4" lengthAdjust="spacingAndGlyphs">R = .69</text>
<circle cx="52.00" cy="425.50" r="1.5" fill="#a30a2c"/>
<circle cx="58.00" cy="447.50" r="1.5" fill="#a30a2c"/>
<circle cx="70.00" cy="432.50" r="1.5" fill="#a30a2c"/>
<circle cx="75.00" cy="425.50" r="1.5" fill="#a30a2c"/>
<circle cx="75.75" cy="439.50" r="1.5" fill="#a30a2c"/>
<circle cx="78.75" cy="433.75" r="1.5" fill="#a30a2c"/>
<circle cx="80.00" cy="434.50" r="1.5" fill="#a30a2c"/>
<circle cx="81.25" cy="424.50" r="1.5" fill="#a30a2c"/>
<circle cx="85.50" cy="435.50" r="1.5" fill="#a30a2c"/>
<circle cx="86.25" cy="416.50" r="1.5" fill="#a30a2c"/>
<circle cx="88.75" cy="426.50" r="1.5" fill="#a30a2c"/>
<circle cx="91.25" cy="419.50" r="1.5" fill="#a30a2c"/>
<circle cx="92.50" cy="421.25" r="1.5" fill="#a30a2c"/>
<circle cx="93.25" cy="425.50" r="1.5" fill="#a30a2c"/>
<circle cx="94.50" cy="415.50" r="1.5" fill="#a30a2c"/>
<circle cx="95.50" cy="425.50" r="1.5" fill="#a30a2c"/>
<circle cx="97.00" cy="412.00" r="1.5" fill="#a30a2c"/>
<circle cx="97.50" cy="420.00" r="1.5" fill="#a30a2c"/>
<circle cx="98.00" cy="432.00" r="1.5" fill="#a30a2c"/>
<circle cx="98.75" cy="426.25" r="1.5" fill="#a30a2c"/>
<circle cx="99.50" cy="422.00" r="1.5" fill="#a30a2c"/>
<circle cx="100.00" cy="403.75" r="1.5" fill="#a30a2c"/>
<circle cx="100.50" cy="425.50" r="1.5" fill="#a30a2c"/>
<circle cx="101.00" cy="413.75" r="1.5" fill="#a30a2c"/>
<circle cx="101.25" cy="404.50" r="1.5" fill="#a30a2c"/>
<circle cx="102.00" cy="423.75" r="1.5" fill="#a30a2c"/>
<circle cx="103.00" cy="430.00" r="1.5" fill="#a30a2c"/>
<circle cx="103.75" cy="418.00" r="1.5" fill="#a30a2c"/>
<circle cx="104.50" cy="407.00" r="1.5" fill="#a30a2c"/>
<circle cx="105.00" cy="413.75" r="1.5" fill="#a30a2c"/>
<circle cx="105.50" cy="434.50" r="1.5" fill="#a30a2c"/>
<circle cx="106.25" cy="408.75" r="1.5" fill="#a30a2c"/>
<circle cx="106.25" cy="418.75" r="1.5" fill="#a30a2c"/>
<circle cx="107.00" cy="421.25" r="1.5" fill="#a30a2c"/>
<circle cx="108.75" cy="395.50" r="1.5" fill="#a30a2c"/>
<circle cx="110.00" cy="415.00" r="1.5" fill="#a30a2c"/>
<circle cx="111.25" cy="413.00" r="1.5" fill="#a30a2c"/>
<circle cx="112.50" cy="414.50" r="1.5" fill="#a30a2c"/>
<circle cx="115.50" cy="405.00" r="1.5" fill="#a30a2c"/>
<circle cx="115.75" cy="392.50" r="1.5" fill="#a30a2c"/>
<circle cx="121.25" cy="400.50" r="1.5" fill="#a30a2c"/>
<circle cx="131.25" cy="402.00" r="1.5" fill="#a30a2c"/>
<circle cx="132.50" cy="407.00" r="1.5" fill="#a30a2c"/>
<g>
<rect x="247.50" y="412.50" width="8.83" height="7.84" fill="#342584" stroke="#7c7c7c" stroke-width="0.75" />
<rect x="256.33" y="412.50" width="8.83" height="7.84" fill="#fbeeed" stroke="#7c7c7c" stroke-width="0.75" />
<rect x="265.16" y="412.50" width="8.83" height="7.84" fill="#8b89c2" stroke="#7c7c7c" stroke-width="0.75" />
<rect x="273.99" y="412.50" width="8.83" height="7.84" fill="#41368e" stroke="#7c7c7c" stroke-width="0.75" />
<rect x="282.82" y="412.50" width="8.83" height="7.84" fill="#6a66ac" stroke="#7c7c7c" stroke-width="0.75" />
<rect x="291.65" y="412.50" width="8.83" height="7.84" fill="#7a78b7" stroke="#7c7c7c" stroke-width="0.75" />
<rect x="300.48" y="412.50" width="8.83" height="7.84" fill="#a5a4d1" stroke="#7c7c7c" stroke-width="0.75" />
<rect x="309.31" y="412.50" width="8.83" height="7.84" fill="#b2b2d9" stroke="#7c7c7c" stroke-width="0.75" />
<rect x="318.14" y="412.50" width="8.83" height="7.84" fill="#7e7cba" stroke="#7c7c7c" stroke-width="0.75" />
<rect x="326.97" y="412.50" width="8.83" height="7.84" fill="#7673b4" stroke="#7c7c7c" stroke-width="0.75" />
<rect x="335.80" y="412.50" width="8.83" height="7.84" fill="#fbeeed" stroke="#7c7c7c" stroke-width="0.75" />
<rect x="344.63" y="412.50" width="8.83" height="7.84" fill="#483e94" stroke="#7c7c7c" stroke-width="0.75" />
<rect x="353.46" y="412.50" width="8.83" height="7.84" fill="#a5a4d1" stroke="#7c7c7c" stroke-width="0.75" />
<rect x="362.29" y="412.50" width="8.83" height="7.84" fill="#f8e5e3" stroke="#7c7c7c" stroke-width="0.75" />
<rect x="371.12" y="412.50" width="8.83" height="7.84" fill="#cccce7" stroke="#7c7c7c" stroke-width="0.75" />
<rect x="379.95" y="412.50" width="8.83" height="7.84" fill="#6e6aaf" stroke="#7c7c7c" stroke-width="0.75" />
<rect x="388.78" y="412.50" width="8.83" height="7.84" fill="#7e7cba" stroke="#7c7c7c" stroke-width="0.75" />
<rect x="397.61" y="412.50" width="8.83" height="7.84" fill="#f2f2f9" stroke="#7c7c7c" stroke-width="0.75" />
<rect x="406.44" y="412.50" width="8.83" height="7.84" fill="#7e7cba" stroke="#7c7c7c" stroke-width="0.75" />
<rect x="415.27" y="412.50" width="8.83" height="7.84" fill="#a5a4d1" stroke="#7c7c7c" stroke-width="0.75" />
<rect x="424.10" y="412.50" width="8.83" height="7.84" fill="#ffffff" stroke="#7c7c7c" stroke-width="0.75" />
<rect x="432.93" y="412.50" width="8.83" height="7.84" fill="#f9e9e8" stroke="#7c7c7c" stroke-width="0.75" />
<rect x="441.76" y="412.50" width="8.83" height="7.84" fill="#a5a4d1" stroke="#7c7c7c" stroke-width="0.75" />
<rect x="450.59" y="412.50" width="8.83" height="7.84" fill="#8b89c2" stroke="#7c7c7c" stroke-width="0.75" />
<rect x="459.42" y="412.50" width="8.83" height="7.84" fill="#d9d9ed" stroke="#7c7c7c" stroke-width="0.75" />
<rect x="468.25" y="412.50" width="8.83" height="7.84" fill="#9897ca" stroke="#7c7c7c" stroke-width="0.75" />
<rect x="477.08" y="412.50" width="8.83" height="7.84" fill="#8b89c2" stroke="#7c7c7c" stroke-width="0.75" />
<rect x="247.50" y="420.34" width="8.83" height="7.84" fill="#fbeeed" stroke="#7c7c7c" stroke-width="0.75" />
<rect x="256.33" y="420.34" width="8.83" height="7.84" fill="#342584" stroke="#7c7c7c" stroke-width="0.75" />
<rect x="265.16" y="420.34" width="8.83" height="7.84" fill="#dd7062" stroke="#7c7c7c" stroke-width="0.75" />
<rect x="273.99" y="420.34" width="8.83" height="7.84" fill="#f5f5fa" stroke="#7c7c7c" stroke-width="0.75" />
<rect x="282.82" y="420.34" width="8.83" height="7.84" fill="#ffffff" stroke="#7c7c7c" stroke-width="0.75" />
<rect x="291.65" y="420.34" width="8.83" height="7.84" fill="#d9d9ed" stroke="#7c7c7c" stroke-width="0.75" />
<rect x="300.48" y="420.34" width="8.83" height="7.84" fill="#b2b2d9" stroke="#7c7c7c" stroke-width="0.75" />
<rect x="309.31" y="420.34" width="8.83" height="7.84" fill="#ffffff" stroke="#7c7c7c" stroke-width="0.75" />
<rect x="318.14" y="420.34" width="8.83" height="7.84" fill="#f8e4e2" stroke="#7c7c7c" stroke-width="0.75" />
<rect x="326.97" y="420.34" width="8.83" height="7.84" fill="#d9d9ed" stroke="#7c7c7c" stroke-width="0.75" />
<rect x="335.80" y="420.34" width="8.83" height="7.84" fill="#cccce7" stroke="#7c7c7c" stroke-width="0.75" />
<rect x="344.63" y="420.34" width="8.83" height="7.84" fill="#fafafd" stroke="#7c7c7c" stroke-width="0.75" />
<rect x="353.46" y="420.34" width="8.83" height="7.84" fill="#e5e5f3" stroke="#7c7c7c" stroke-width="0.75" />
<rect x="362.29" y="420.34" width="8.83" height="7.84" fill="#f7dfdc" stroke="#7c7c7c" stroke-width="0.75" />
<rect x="371.12" y="420.34" width="8.83" height="7.84" fill="#f7dfdc" stroke="#7c7c7c" stroke-width="0.75" />
<rect x="379.95" y="420.34" width="8.83" height="7.84" fill="#f2f2f9" stroke="#7c7c7c" stroke-width="0.75" />
<rect x="388.78" y="420.34" width="8.83" height="7.84" fill="#e0e0f1" stroke="#7c7c7c" stroke-width="0.75" />
<rect x="397.61" y="420.34" width="8.83" height="7.84" fill="#f8e5e3" stroke="#7c7c7c" stroke-width="0.75" />
<rect x="406.44" y="420.34" width="8.83" height="7.84" fill="#e5e5f3" stroke="#7c7c7c" stroke-width="0.75" />
<rect x="415.27" y="420.34" width="8.83" height="7.84" fill="#cccce7" stroke="#7c7c7c" stroke-width="0.75" />
<rect x="424.10" y="420.34" width="8.83" height="7.84" fill="#fbeeed" stroke="#7c7c7c" stroke-width="0.75" />
<rect x="432.93" y="420.34" width="8.83" height="7.84" fill="#9897ca" stroke="#7c7c7c" stroke-width="0.75" />
<rect x="441.76" y="420.34" width="8.83" height="7.84" fill="#bfbfe1" stroke="#7c7c7c" stroke-width="0.75" />
<rect x="450.59" y="420.34" width="8.83" height="7.84" fill="#b2b2d9" stroke="#7c7c7c" stroke-width="0.75" />
<rect x="459.42" y="420.34" width="8.83" height="7.84" fill="#9897ca" stroke="#7c7c7c" stroke-width="0.75" />
<rect x="468.25" y="420.34" width="8.83" height="7.84" fill="#a5a4d1" stroke="#7c7c7c" stroke-width="0.75" />
<rect x="477.08" y="420.34" width="8.83" height="7.84" fill="#d9d9ed" stroke="#7c7c7c" stroke-width="0.75" />
<rect x="247.50" y="428.18" width="8.83" height="7.84" fill="#8b89c2" stroke="#7c7c7c" stroke-width="0.75" />
<rect x="256.33" y="428.18" width="8.83" height="7.84" fill="#dd7062" stroke="#7c7c7c" stroke-width="0.75" />
<rect x="265.16" y="428.18" width="8.83" height="7.84" fill="#342584" stroke="#7c7c7c" stroke-width="0.75" />
<rect x="273.99" y="428.18" width="8.83" height="7.84" fill="#9290c6" stroke="#7c7c7c" stroke-width="0.75" />
<rect x="282.82" y="428.18" width="8.83" height="7.84" fill="#c5c5e4" stroke="#7c7c7c" stroke-width="0.75" />
<rect x="291.65" y="428.18" width="8.83" height="7.84" fill="#b8b8dd" stroke="#7c7c7c" stroke-width="0.75" />
<rect x="300.48" y="428.18" width="8.83" height="7.84" fill="#f9f9fc" stroke="#7c7c7c" stroke-width="0.75" />
<rect x="309.31" y="428.18" width="8.83" height="7.84" fill="#f8e5e3" stroke="#7c7c7c" stroke-width="0.75" />
<rect x="318.14" y="428.18" width="8.83" height="7.84" fill="#a5a4d1" stroke="#7c7c7c" stroke-width="0.75" />
<rect x="326.97" y="428.18" width="8.83" height="7.84" fill="#c5c5e4" stroke="#7c7c7c" stroke-width="0.75" />
<rect x="335.80" y="428.18" width="8.83" height="7.84" fill="#e59186" stroke="#7c7c7c" stroke-width="0.75" />
<rect x="344.63" y="428.18" width="8.83" height="7.84" fill="#a5a4d1" stroke="#7c7c7c" stroke-width="0.75" />
<rect x="353.46" y="428.18" width="8.83" height="7.84" fill="#f4d4d1" stroke="#7c7c7c" stroke-width="0.75" />
<rect x="362.29" y="428.18" width="8.83" height="7.84" fill="#e5e5f3" stroke="#7c7c7c" stroke-width="0.75" />
<rect x="371.12" y="428.18" width="8.83" height="7.84" fill="#f9e9e8" stroke="#7c7c7c" stroke-width="0.75" />
<rect x="379.95" y="428.18" width="8.83" height="7.84" fill="#a5a4d1" stroke="#7c7c7c" stroke-width="0.75" />
<rect x="388.78" y="428.18" width="8.83" height="7.84" fill="#b2b2d9" stroke="#7c7c7c" stroke-width="0.75" />
<rect x="397.61" y="428.18" width="8.83" height="7.84" fill="#f1c7c3" stroke="#7c7c7c" stroke-width="0.75" />
<rect x="406.44" y="428.18" width="8.83" height="7.84" fill="#fcf4f4" stroke="#7c7c7c" stroke-width="0.75" />
<rect x="415.27" y="428.18" width="8.83" height="7.84" fill="#ebebf5" stroke="#7c7c7c" stroke-width="0.75" />
<rect x="424.10" y="428.18" width="8.83" height="7.84" fill="#f2f2f9" stroke="#7c7c7c" stroke-width="0.75" />
<rect x="432.93" y="428.18" width="8.83" height="7.84" fill="#ebaba4" stroke="#7c7c7c" stroke-width="0.75" />
<rect x="441.76" y="428.18" width="8.83" height="7.84" fill="#d9d9ed" stroke="#7c7c7c" stroke-width="0.75" />
<rect x="450.59" y="428.18" width="8.83" height="7.84" fill="#b2b2d9" stroke="#7c7c7c" stroke-width="0.75" />
<rect x="459.42" y="428.18" width="8.83" height="7.84" fill="#f8e5e3" stroke="#7c7c7c" stroke-width="0.75" />
<rect x="468.25" y="428.18" width="8.83" height="7.84" fill="#f8e5e3" stroke="#7c7c7c" stroke-width="0.75" />
<rect x="477.08" y="428.18" width="8.83" height="7.84" fill="#cccce7" stroke="#7c7c7c" stroke-width="0.75" />
<rect x="247.50" y="436.02" width="8.83" height="7.84" fill="#41368e" stroke="#7c7c7c" stroke-width="0.75" />
<rect x="256.33" y="436.02" width="8.83" height="7.84" fill="#f5f5fa" stroke="#7c7c7c" stroke-width="0.75" />
<rect x="265.16" y="436.02" width="8.83" height="7.84" fill="#9290c6" stroke="#7c7c7c" stroke-width="0.75" />
<rect x="273.99" y="436.02" width="8.83" height="7.84" fill="#342584" stroke="#7c7c7c" stroke-width="0.75" />
<rect x="282.82" y="436.02" width="8.83" height="7.84" fill="#7673b4" stroke="#7c7c7c" stroke-width="0.75" />
<rect x="291.65" y="436.02" width="8.83" height="7.84" fill="#8b89c2" stroke="#7c7c7c" stroke-width="0.75" />
<rect x="300.48" y="436.02" width="8.83" height="7.84" fill="#a5a4d1" stroke="#7c7c7c" stroke-width="0.75" />
<rect x="309.31" y="436.02" width="8.83" height="7.84" fill="#cccce7" stroke="#7c7c7c" stroke-width="0.75" />
<rect x="318.14" y="436.02" width="8.83" height="7.84" fill="#7673b4" stroke="#7c7c7c" stroke-width="0.75" />
<rect x="326.97" y="436.02" width="8.83" height="7.84" fill="#7e7cba" stroke="#7c7c7c" stroke-width="0.75" />
<rect x="335.80" y="436.02" width="8.83" height="7.84" fill="#fbeeed" stroke="#7c7c7c" stroke-width="0.75" />
<rect x="344.63" y="436.02" width="8.83" height="7.84" fill="#554f9e" stroke="#7c7c7c" stroke-width="0.75" />
<rect x="353.46" y="436.02" width="8.83" height="7.84" fill="#a5a4d1" stroke="#7c7c7c" stroke-width="0.75" />
<rect x="362.29" y="436.02" width="8.83" height="7.84" fill="#ffffff" stroke="#7c7c7c" stroke-width="0.75" />
<rect x="371.12" y="436.02" width="8.83" height="7.84" fill="#ffffff" stroke="#7c7c7c" stroke-width="0.75" />
<rect x="379.95" y="436.02" width="8.83" height="7.84" fill="#7673b4" stroke="#7c7c7c" stroke-width="0.75" />
<rect x="388.78" y="436.02" width="8.83" height="7.84" fill="#8b89c2" stroke="#7c7c7c" stroke-width="0.75" />
<rect x="397.61" y="436.02" width="8.83" height="7.84" fill="#ebebf5" stroke="#7c7c7c" stroke-width="0.75" />
<rect x="406.44" y="436.02" width="8.83" height="7.84" fill="#8b89c2" stroke="#7c7c7c" stroke-width="0.75" />
<rect x="415.27" y="436.02" width="8.83" height="7.84" fill="#9897ca" stroke="#7c7c7c" stroke-width="0.75" />
<rect x="424.10" y="436.02" width="8.83" height="7.84" fill="#fbeeed" stroke="#7c7c7c" stroke-width="0.75" />
<rect x="432.93" y="436.02" width="8.83" height="7.84" fill="#ffffff" stroke="#7c7c7c" stroke-width="0.75" />
<rect x="441.76" y="436.02" width="8.83" height="7.84" fill="#7e7cba" stroke="#7c7c7c" stroke-width="0.75" />
<rect x="450.59" y="436.02" width="8.83" height="7.84" fill="#7e7cba" stroke="#7c7c7c" stroke-width="0.75" />
<rect x="459.42" y="436.02" width="8.83" height="7.84" fill="#a5a4d1" stroke="#7c7c7c" stroke-width="0.75" />
<rect x="468.25" y="436.02" width="8.83" height="7.84" fill="#7e7cba" stroke="#7c7c7c" stroke-width="0.75" />
<rect x="477.08" y="436.02" width="8.83" height="7.84" fill="#8b89c2" stroke="#7c7c7c" stroke-width="0.75" />
<rect x="247.50" y="443.86" width="8.83" height="7.84" fill="#6a66ac" stroke="#7c7c7c" stroke-width="0.75" />
<rect x="256.33" y="443.86" width="8.83" height="7.84" fill="#ffffff" stroke="#7c7c7c" stroke-width="0.75" />
<rect x="265.16" y="443.86" width="8.83" height="7.84" fill="#c5c5e4" stroke="#7c7c7c" stroke-width="0.75" />
<rect x="273.99" y="443.86" width="8.83" height="7.84" fill="#7673b4" stroke="#7c7c7c" stroke-width="0.75" />
<rect x="282.82" y="443.86" width="8.83" height="7.84" fill="#342584" stroke="#7c7c7c" stroke-width="0.75" />
<rect x="291.65" y="443.86" width="8.83" height="7.84" fill="#554f9e" stroke="#7c7c7c" stroke-width="0.75" />
<rect x="300.48" y="443.86" width="8.83" height="7.84" fill="#9e9ece" stroke="#7c7c7c" stroke-width="0.75" />
<rect x="309.31" y="443.86" width="8.83" height="7.84" fill="#cccce7" stroke="#7c7c7c" stroke-width="0.75" />
<rect x="318.14" y="443.86" width="8.83" height="7.84" fill="#3b2d89" stroke="#7c7c7c" stroke-width="0.75" />
<rect x="326.97" y="443.86" width="8.83" height="7.84" fill="#7e7cba" stroke="#7c7c7c" stroke-width="0.75" />
<rect x="335.80" y="443.86" width="8.83" height="7.84" fill="#fafafd" stroke="#7c7c7c" stroke-width="0.75" />
<rect x="344.63" y="443.86" width="8.83" height="7.84" fill="#6e6aaf" stroke="#7c7c7c" stroke-width="0.75" />
<rect x="353.46" y="443.86" width="8.83" height="7.84" fill="#5d58a4" stroke="#7c7c7c" stroke-width="0.75" />
<rect x="362.29" y="443.86" width="8.83" height="7.84" fill="#bfbfe1" stroke="#7c7c7c" stroke-width="0.75" />
<rect x="371.12" y="443.86" width="8.83" height="7.84" fill="#ebebf5" stroke="#7c7c7c" stroke-width="0.75" />
<rect x="379.95" y="443.86" width="8.83" height="7.84" fill="#6561a9" stroke="#7c7c7c" stroke-width="0.75" />
<rect x="388.78" y="443.86" width="8.83" height="7.84" fill="#7e7cba" stroke="#7c7c7c" stroke-width="0.75" />
<rect x="397.61" y="443.86" width="8.83" height="7.84" fill="#cccce7" stroke="#7c7c7c" stroke-width="0.75" />
<rect x="406.44" y="443.86" width="8.83" height="7.84" fill="#7e7cba" stroke="#7c7c7c" stroke-width="0.75" />
<rect x="415.27" y="443.86" width="8.83" height="7.84" fill="#6e6aaf" stroke="#7c7c7c" stroke-width="0.75" />
<rect x="424.10" y="443.86" width="8.83" height="7.84" fill="#e5e5f3" stroke="#7c7c7c" stroke-width="0.75" />
<rect x="432.93" y="443.86" width="8.83" height="7.84" fill="#fbeeed" stroke="#7c7c7c" stroke-width="0.75" />
<rect x="441.76" y="443.86" width="8.83" height="7.84" fill="#7673b4" stroke="#7c7c7c" stroke-width="0.75" />
<rect x="450.59" y="443.86" width="8.83" height="7.84" fill="#9897ca" stroke="#7c7c7c" stroke-width="0.75" />
<rect x="459.42" y="443.86" width="8.83" height="7.84" fill="#b2b2d9" stroke="#7c7c7c" stroke-width="0.75" />
<rect x="468.25" y="443.86" width="8.83" height="7.84" fill="#7e7cba" stroke="#7c7c7c" stroke-width="0.75" />
<rect x="477.08" y="443.86" width="8.83" height="7.84" fill="#8b89c2" stroke="#7c7c7c" stroke-width="0.75" />
<rect x="247.50" y="451.70" width="8.83" height="7.84" fill="#7a78b7" stroke="#7c7c7c" stroke-width="0.75" />
<rect x="256.33" y="451.70" width="8.83" height="7.84" fill="#d9d9ed" stroke="#7c7c7c" stroke-width="0.75" />
<rect x="265.16" y="451.70" width="8.83" height="7.84" fill="#b8b8dd" stroke="#7c7c7c" stroke-width="0.75" />
<rect x="273.99" y="451.70" width="8.83" height="7.84" fill="#8b89c2" stroke="#7c7c7c" stroke-width="0.75" />
<rect x="282.82" y="451.70" width="8.83" height="7.84" fill="#554f9e" stroke="#7c7c7c" stroke-width="0.75" />
<rect x="291.65" y="451.70" width="8.83" height="7.84" fill="#342584" stroke="#7c7c7c" stroke-width="0.75" />
<rect x="300.48" y="451.70" width="8.83" height="7.84" fill="#b2b2d9" stroke="#7c7c7c" stroke-width="0.75" />
<rect x="309.31" y="451.70" width="8.83" height="7.84" fill="#cccce7" stroke="#7c7c7c" stroke-width="0.75" />
<rect x="318.14" y="451.70" width="8.83" height="7.84" fill="#5d58a4" stroke="#7c7c7c" stroke-width="0.75" />
<rect x="326.97" y="451.70" width="8.83" height="7.84" fill="#7e7cba" stroke="#7c7c7c" stroke-width="0.75" />
<rect x="335.80" y="451.70" width="8.83" height="7.84" fill="#fcf4f4" stroke="#7c7c7c" stroke-width="0.75" />
<rect x="344.63" y="451.70" width="8.83" height="7.84" fill="#7a78b7" stroke="#7c7c7c" stroke-width="0.75" />
<rect x="353.46" y="451.70" width="8.83" height="7.84" fill="#5d58a4" stroke="#7c7c7c" stroke-width="0.75" />
<rect x="362.29" y="451.70" width="8.83" height="7.84" fill="#cccce7" stroke="#7c7c7c" stroke-width="0.75" />
<rect x="371.12" y="451.70" width="8.83" height="7.84" fill="#e5e5f3" stroke="#7c7c7c" stroke-width="0.75" />
<rect x="379.95" y="451.70" width="8.83" height="7.84" fill="#6e6aaf" stroke="#7c7c7c" stroke-width="0.75" />
<rect x="388.78" y="451.70" width="8.83" height="7.84" fill="#8b89c2" stroke="#7c7c7c" stroke-width="0.75" />
<rect x="397.61" y="451.70" width="8.83" height="7.84" fill="#d9d9ed" stroke="#7c7c7c" stroke-width="0.75" />
<rect x="406.44" y="451.70" width="8.83" height="7.84" fill="#b2b2d9" stroke="#7c7c7c" stroke-width="0.75" />
<rect x="415.27" y="451.70" width="8.83" height="7.84" fill="#6561a9" stroke="#7c7c7c" stroke-width="0.75" />
<rect x="424.10" y="451.70" width="8.83" height="7.84" fill="#fafafd" stroke="#7c7c7c" stroke-width="0.75" />
<rect x="432.93" y="451.70" width="8.83" height="7.84" fill="#f9e9e8" stroke="#7c7c7c" stroke-width="0.75" />
<rect x="441.76" y="451.70" width="8.83" height="7.84" fill="#8b89c2" stroke="#7c7c7c" stroke-width="0.75" />
<rect x="450.59" y="451.70" width="8.83" height="7.84" fill="#a5a4d1" stroke="#7c7c7c" stroke-width="0.75" />
<rect x="459.42" y="451.70" width="8.83" height="7.84" fill="#a5a4d1" stroke="#7c7c7c" stroke-width="0.75" />
<rect x="468.25" y="451.70" width="8.83" height="7.84" fill="#8b89c2" stroke="#7c7c7c" stroke-width="0.75" />
<rect x="477.08" y="451.70" width="8.83" height="7.84" fill="#7e7cba" stroke="#7c7c7c" stroke-width="0.75" />
<rect x="247.50" y="459.54" width="8.83" height="7.84" fill="#a5a4d1" stroke="#7c7c7c" stroke-width="0.75" />
<rect x="256.33" y="459.54" width="8.83" height="7.84" fill="#b2b2d9" stroke="#7c7c7c" stroke-width="0.75" />
<rect x="265.16" y="459.54" width="8.83" height="7.84" fill="#f9f9fc" stroke="#7c7c7c" stroke-width="0.75" />
<rect x="273.99" y="459.54" width="8.83" height="7.84" fill="#a5a4d1" stroke="#7c7c7c" stroke-width="0.75" />
<rect x="282.82" y="459.54" width="8.83" height="7.84" fill="#9e9ece" stroke="#7c7c7c" stroke-width="0.75" />
<rect x="291.65" y="459.54" width="8.83" height="7.84" fill="#b2b2d9" stroke="#7c7c7c" stroke-width="0.75" />
<rect x="300.48" y="459.54" width="8.83" height="7.84" fill="#342584" stroke="#7c7c7c" stroke-width="0.75" />
<rect x="309.31" y="459.54" width="8.83" height="7.84" fill="#ffffff" stroke="#7c7c7c" stroke-width="0.75" />
<rect x="318.14" y="459.54" width="8.83" height="7.84" fill="#9290c6" stroke="#7c7c7c" stroke-width="0.75" />
<rect x="326.97" y="459.54" width="8.83" height="7.84" fill="#bfbfe1" stroke="#7c7c7c" stroke-width="0.75" />
<rect x="335.80" y="459.54" width="8.83" height="7.84" fill="#fefbfa" stroke="#7c7c7c" stroke-width="0.75" />
<rect x="344.63" y="459.54" width="8.83" height="7.84" fill="#d9d9ed" stroke="#7c7c7c" stroke-width="0.75" />
<rect x="353.46" y="459.54" width="8.83" height="7.84" fill="#f2f2f9" stroke="#7c7c7c" stroke-width="0.75" />
<rect x="362.29" y="459.54" width="8.83" height="7.84" fill="#a5a4d1" stroke="#7c7c7c" stroke-width="0.75" />
<rect x="371.12" y="459.54" width="8.83" height="7.84" fill="#e5e5f3" stroke="#7c7c7c" stroke-width="0.75" />
<rect x="379.95" y="459.54" width="8.83" height="7.84" fill="#cccce7" stroke="#7c7c7c" stroke-width="0.75" />
<rect x="388.78" y="459.54" width="8.83" height="7.84" fill="#bfbfe1" stroke="#7c7c7c" stroke-width="0.75" />
<rect x="397.61" y="459.54" width="8.83" height="7.84" fill="#fafafd" stroke="#7c7c7c" stroke-width="0.75" />
<rect x="406.44" y="459.54" width="8.83" height="7.84" fill="#a5a4d1" stroke="#7c7c7c" stroke-width="0.75" />
<rect x="415.27" y="459.54" width="8.83" height="7.84" fill="#ebebf5" stroke="#7c7c7c" stroke-width="0.75" />
<rect x="424.10" y="459.54" width="8.83" height="7.84" fill="#fafafd" stroke="#7c7c7c" stroke-width="0.75" />
<rect x="432.93" y="459.54" width="8.83" height="7.84" fill="#d9d9ed" stroke="#7c7c7c" stroke-width="0.75" />
<rect x="441.76" y="459.54" width="8.83" height="7.84" fill="#fafafd" stroke="#7c7c7c" stroke-width="0.75" />
<rect x="450.59" y="459.54" width="8.83" height="7.84" fill="#e5e5f3" stroke="#7c7c7c" stroke-width="0.75" />
<rect x="459.42" y="459.54" width="8.83" height="7.84" fill="#e5e5f3" stroke="#7c7c7c" stroke-width="0.75" />
<rect x="468.25" y="459.54" width="8.83" height="7.84" fill="#bfbfe1" stroke="#7c7c7c" stroke-width="0.75" />
<rect x="477.08" y="459.54" width="8.83" height="7.84" fill="#f1c7c3" stroke="#7c7c7c" stroke-width="0.75" />
<rect x="247.50" y="467.38" width="8.83" height="7.84" fill="#b2b2d9" stroke="#7c7c7c" stroke-width="0.75" />
<rect x="256.33" y="467.38" width="8.83" height="7.84" fill="#ffffff" stroke="#7c7c7c" stroke-width="0.75" />
<rect x="265.16" y="467.38" width="8.83" height="7.84" fill="#f8e5e3" stroke="#7c7c7c" stroke-width="0.75" />
<rect x="273.99" y="467.38" width="8.83" height="7.84" fill="#cccce7" stroke="#7c7c7c" stroke-width="0.75" />
<rect x="282.82" y="467.38" width="8.83" height="7.84" fill="#cccce7" stroke="#7c7c7c" stroke-width="0.75" />
<rect x="291.65" y="467.38" width="8.83" height="7.84" fill="#cccce7" stroke="#7c7c7c" stroke-width="0.75" />
<rect x="300.48" y="467.38" width="8.83" height="7.84" fill="#ffffff" stroke="#7c7c7c" stroke-width="0.75" />
<rect x="309.31" y="467.38" width="8.83" height="7.84" fill="#342584" stroke="#7c7c7c" stroke-width="0.75" />
<rect x="318.14" y="467.38" width="8.83" height="7.84" fill="#c5c5e4" stroke="#7c7c7c" stroke-width="0.75" />
<rect x="326.97" y="467.38" width="8.83" height="7.84" fill="#e5e5f3" stroke="#7c7c7c" stroke-width="0.75" />
<rect x="335.80" y="467.38" width="8.83" height="7.84" fill="#b2b2d9" stroke="#7c7c7c" stroke-width="0.75" />
<rect x="344.63" y="467.38" width="8.83" height="7.84" fill="#cccce7" stroke="#7c7c7c" stroke-width="0.75" />
<rect x="353.46" y="467.38" width="8.83" height="7.84" fill="#bfbfe1" stroke="#7c7c7c" stroke-width="0.75" />
<rect x="362.29" y="467.38" width="8.83" height="7.84" fill="#f7dfdc" stroke="#7c7c7c" stroke-width="0.75" />
<rect x="371.12" y="467.38" width="8.83" height="7.84" fill="#4e4799" stroke="#7c7c7c" stroke-width="0.75" />
<rect x="379.95" y="467.38" width="8.83" height="7.84" fill="#bfbfe1" stroke="#7c7c7c" stroke-width="0.75" />
<rect x="388.78" y="467.38" width="8.83" height="7.84" fill="#bfbfe1" stroke="#7c7c7c" stroke-width="0.75" />
<rect x="397.61" y="467.38" width="8.83" height="7.84" fill="#d9d9ed" stroke="#7c7c7c" stroke-width="0.75" />
<rect x="406.44" y="467.38" width="8.83" height="7.84" fill="#f9e9e8" stroke="#7c7c7c" stroke-width="0.75" />
<rect x="415.27" y="467.38" width="8.83" height="7.84" fill="#a5a4d1" stroke="#7c7c7c" stroke-width="0.75" />
<rect x="424.10" y="467.38" width="8.83" height="7.84" fill="#fafafd" stroke="#7c7c7c" stroke-width="0.75" />
<rect x="432.93" y="467.38" width="8.83" height="7.84" fill="#fafafd" stroke="#7c7c7c" stroke-width="0.75" />
<rect x="441.76" y="467.38" width="8.83" height="7.84" fill="#e5e5f3" stroke="#7c7c7c" stroke-width="0.75" />
<rect x="450.59" y="467.38" width="8.83" height="7.84" fill="#bfbfe1" stroke="#7c7c7c" stroke-width="0.75" />
<rect x="459.42" y="467.38" width="8.83" height="7.84" fill="#fafafd" stroke="#7c7c7c" stroke-width="0.75" />
<rect x="468.25" y="467.38" width="8.83" height="7.84" fill="#e5e5f3" stroke="#7c7c7c" stroke-width="0.75" />
<rect x="477.08" y="467.38" width="8.83" height="7.84" fill="#a5a4d1" stroke="#7c7c7c" stroke-width="0.75" />
<rect x="247.50" y="475.22" width="8.83" height="7.84" fill="#7e7cba" stroke="#7c7c7c" stroke-width="0.75" />
<rect x="256.33" y="475.22" width="8.83" height="7.84" fill="#f8e4e2" stroke="#7c7c7c" stroke-width="0.75" />
<rect x="265.16" y="475.22" width="8.83" height="7.84" fill="#a5a4d1" stroke="#7c7c7c" stroke-width="0.75" />
<rect x="273.99" y="475.22" width="8.83" height="7.84" fill="#7673b4" stroke="#7c7c7c" stroke-width="0.75" />
<rect x="282.82" y="475.22" width="8.83" height="7.84" fill="#3b2d89" stroke="#7c7c7c" stroke-width="0.75" />
<rect x="291.65" y="475.22" width="8.83" height="7.84" fill="#5d58a4" stroke="#7c7c7c" stroke-width="0.75" />
<rect x="300.48" y="475.22" width="8.83" height="7.84" fill="#9290c6" stroke="#7c7c7c" stroke-width="0.75" />
<rect x="309.31" y="475.22" width="8.83" height="7.84" fill="#c5c5e4" stroke="#7c7c7c" stroke-width="0.75" />
<rect x="318.14" y="475.22" width="8.83" height="7.84" fill="#342584" stroke="#7c7c7c" stroke-width="0.75" />
<rect x="326.97" y="475.22" width="8.83" height="7.84" fill="#a5a4d1" stroke="#7c7c7c" stroke-width="0.75" />
<rect x="335.80" y="475.22" width="8.83" height="7.84" fill="#f9e9e8" stroke="#7c7c7c" stroke-width="0.75" />
<rect x="344.63" y="475.22" width="8.83" height="7.84" fill="#7e7cba" stroke="#7c7c7c" stroke-width="0.75" />
<rect x="353.46" y="475.22" width="8.83" height="7.84" fill="#7a78b7" stroke="#7c7c7c" stroke-width="0.75" />
<rect x="362.29" y="475.22" width="8.83" height="7.84" fill="#b2b2d9" stroke="#7c7c7c" stroke-width="0.75" />
<rect x="371.12" y="475.22" width="8.83" height="7.84" fill="#a5a4d1" stroke="#7c7c7c" stroke-width="0.75" />
<rect x="379.95" y="475.22" width="8.83" height="7.84" fill="#483e94" stroke="#7c7c7c" stroke-width="0.75" />
<rect x="388.78" y="475.22" width="8.83" height="7.84" fill="#7673b4" stroke="#7c7c7c" stroke-width="0.75" />
<rect x="397.61" y="475.22" width="8.83" height="7.84" fill="#fafafd" stroke="#7c7c7c" stroke-width="0.75" />
<rect x="406.44" y="475.22" width="8.83" height="7.84" fill="#7e7cba" stroke="#7c7c7c" stroke-width="0.75" />
<rect x="415.27" y="475.22" width="8.83" height="7.84" fill="#6561a9" stroke="#7c7c7c" stroke-width="0.75" />
<rect x="424.10" y="475.22" width="8.83" height="7.84" fill="#fcf4f4" stroke="#7c7c7c" stroke-width="0.75" />
<rect x="432.93" y="475.22" width="8.83" height="7.84" fill="#f7dfdc" stroke="#7c7c7c" stroke-width="0.75" />
<rect x="441.76" y="475.22" width="8.83" height="7.84" fill="#7673b4" stroke="#7c7c7c" stroke-width="0.75" />
<rect x="450.59" y="475.22" width="8.83" height="7.84" fill="#7e7cba" stroke="#7c7c7c" stroke-width="0.75" />
<rect x="459.42" y="475.22" width="8.83" height="7.84" fill="#b2b2d9" stroke="#7c7c7c" stroke-width="0.75" />
<rect x="468.25" y="475.22" width="8.83" height="7.84" fill="#9897ca" stroke="#7c7c7c" stroke-width="0.75" />
<rect x="477.08" y="475.22" width="8.83" height="7.84" fill="#8b89c2" stroke="#7c7c7c" stroke-width="0.75" />
<rect x="247.50" y="483.06" width="8.83" height="7.84" fill="#7673b4" stroke="#7c7c7c" stroke-width="0.75" />
<rect x="256.33" y="483.06" width="8.83" height="7.84" fill="#d9d9ed" stroke="#7c7c7c" stroke-width="0.75" />
<rect x="265.16" y="483.06" width="8.83" height="7.84" fill="#c5c5e4" stroke="#7c7c7c" stroke-width="0.75" />
<rect x="273.99" y="483.06" width="8.83" height="7.84" fill="#7e7cba" stroke="#7c7c7c" stroke-width="0.75" />
<rect x="282.82" y="483.06" width="8.83" height="7.84" fill="#7e7cba" stroke="#7c7c7c" stroke-width="0.75" />
<rect x="291.65" y="483.06" width="8.83" height="7.84" fill="#7e7cba" stroke="#7c7c7c" stroke-width="0.75" />
<rect x="300.48" y="483.06" width="8.83" height="7.84" fill="#bfbfe1" stroke="#7c7c7c" stroke-width="0.75" />
<rect x="309.31" y="483.06" width="8.83" height="7.84" fill="#e5e5f3" stroke="#7c7c7c" stroke-width="0.75" />
<rect x="318.14" y="483.06" width="8.83" height="7.84" fill="#a5a4d1" stroke="#7c7c7c" stroke-width="0.75" />
<rect x="326.97" y="483.06" width="8.83" height="7.84" fill="#342584" stroke="#7c7c7c" stroke-width="0.75" />
<rect x="335.80" y="483.06" width="8.83" height="7.84" fill="#f2f2f9" stroke="#7c7c7c" stroke-width="0.75" />
<rect x="344.63" y="483.06" width="8.83" height="7.84" fill="#8b89c2" stroke="#7c7c7c" stroke-width="0.75" />
<rect x="353.46" y="483.06" width="8.83" height="7.84" fill="#9897ca" stroke="#7c7c7c" stroke-width="0.75" />
<rect x="362.29" y="483.06" width="8.83" height="7.84" fill="#f2f2f9" stroke="#7c7c7c" stroke-width="0.75" />
<rect x="371.12" y="483.06" width="8.83" height="7.84" fill="#b2b2d9" stroke="#7c7c7c" stroke-width="0.75" />
<rect x="379.95" y="483.06" width="8.83" height="7.84" fill="#7673b4" stroke="#7c7c7c" stroke-width="0.75" />
<rect x="388.78" y="483.06" width="8.83" height="7.84" fill="#6e6aaf" stroke="#7c7c7c" stroke-width="0.75" />
<rect x="397.61" y="483.06" width="8.83" height="7.84" fill="#f2f2f9" stroke="#7c7c7c" stroke-width="0.75" />
<rect x="406.44" y="483.06" width="8.83" height="7.84" fill="#7e7cba" stroke="#7c7c7c" stroke-width="0.75" />
<rect x="415.27" y="483.06" width="8.83" height="7.84" fill="#6561a9" stroke="#7c7c7c" stroke-width="0.75" />
<rect x="424.10" y="483.06" width="8.83" height="7.84" fill="#ebebf5" stroke="#7c7c7c" stroke-width="0.75" />
<rect x="432.93" y="483.06" width="8.83" height="7.84" fill="#f9e9e8" stroke="#7c7c7c" stroke-width="0.75" />
<rect x="441.76" y="483.06" width="8.83" height="7.84" fill="#cccce7" stroke="#7c7c7c" stroke-width="0.75" />
<rect x="450.59" y="483.06" width="8.83" height="7.84" fill="#b2b2d9" stroke="#7c7c7c" stroke-width="0.75" />
<rect x="459.42" y="483.06" width="8.83" height="7.84" fill="#cccce7" stroke="#7c7c7c" stroke-width="0.75" />
<rect x="468.25" y="483.06" width="8.83" height="7.84" fill="#8b89c2" stroke="#7c7c7c" stroke-width="0.75" />
<rect x="477.08" y="483.06" width="8.83" height="7.84" fill="#a5a4d1" stroke="#7c7c7c" stroke-width="0.75" />
<rect x="247.50" y="490.90" width="8.83" height="7.84" fill="#fbeeed" stroke="#7c7c7c" stroke-width="0.75" />
<rect x="256.33" y="490.90" width="8.83" height="7.84" fill="#cccce7" stroke="#7c7c7c" stroke-width="0.75" />
<rect x="265.16" y="490.90" width="8.83" height="7.84" fill="#e59186" stroke="#7c7c7c" stroke-width="0.75" />
<rect x="273.99" y="490.90" width="8.83" height="7.84" fill="#fbeeed" stroke="#7c7c7c" stroke-width="0.75" />
<rect x="282.82" y="490.90" width="8.83" height="7.84" fill="#fafafd" stroke="#7c7c7c" stroke-width="0.75" />
<rect x="291.65" y="490.90" width="8.83" height="7.84" fill="#fcf4f4" stroke="#7c7c7c" stroke-width="0.75" />
<rect x="300.48" y="490.90" width="8.83" height="7.84" fill="#fefbfa" stroke="#7c7c7c" stroke-width="0.75" />
<rect x="309.31" y="490.90" width="8.83" height="7.84" fill="#b2b2d9" stroke="#7c7c7c" stroke-width="0.75" />
<rect x="318.14" y="490.90" width="8.83" height="7.84" fill="#f9e9e8" stroke="#7c7c7c" stroke-width="0.75" />
<rect x="326.97" y="490.90" width="8.83" height="7.84" fill="#f2f2f9" stroke="#7c7c7c" stroke-width="0.75" />
<rect x="335.80" y="490.90" width="8.83" height="7.84" fill="#342584" stroke="#7c7c7c" stroke-width="0.75" />
<rect x="344.63" y="490.90" width="8.83" height="7.84" fill="#cccce7" stroke="#7c7c7c" stroke-width="0.75" />
<rect x="353.46" y="490.90" width="8.83" height="7.84" fill="#d9d9ed" stroke="#7c7c7c" stroke-width="0.75" />
<rect x="362.29" y="490.90" width="8.83" height="7.84" fill="#ffffff" stroke="#7c7c7c" stroke-width="0.75" />
<rect x="371.12" y="490.90" width="8.83" height="7.84" fill="#9897ca" stroke="#7c7c7c" stroke-width="0.75" />
<rect x="379.95" y="490.90" width="8.83" height="7.84" fill="#fafafd" stroke="#7c7c7c" stroke-width="0.75" />
<rect x="388.78" y="490.90" width="8.83" height="7.84" fill="#f8e5e3" stroke="#7c7c7c" stroke-width="0.75" />
<rect x="397.61" y="490.90" width="8.83" height="7.84" fill="#6e6aaf" stroke="#7c7c7c" stroke-width="0.75" />
<rect x="406.44" y="490.90" width="8.83" height="7.84" fill="#d9d9ed" stroke="#7c7c7c" stroke-width="0.75" />
<rect x="415.27" y="490.90" width="8.83" height="7.84" fill="#f2f2f9" stroke="#7c7c7c" stroke-width="0.75" />
<rect x="424.10" y="490.90" width="8.83" height="7.84" fill="#f8e5e3" stroke="#7c7c7c" stroke-width="0.75" />
<rect x="432.93" y="490.90" width="8.83" height="7.84" fill="#ebebf5" stroke="#7c7c7c" stroke-width="0.75" />
<rect x="441.76" y="490.90" width="8.83" height="7.84" fill="#f4d4d1" stroke="#7c7c7c" stroke-width="0.75" />
<rect x="450.59" y="490.90" width="8.83" height="7.84" fill="#f7dfdc" stroke="#7c7c7c" stroke-width="0.75" />
<rect x="459.42" y="490.90" width="8.83" height="7.84" fill="#fafafd" stroke="#7c7c7c" stroke-width="0.75" />
<rect x="468.25" y="490.90" width="8.83" height="7.84" fill="#f7f7fb" stroke="#7c7c7c" stroke-width="0.75" />
<rect x="477.08" y="490.90" width="8.83" height="7.84" fill="#fafafd" stroke="#7c7c7c" stroke-width="0.75" />
<rect x="247.50" y="498.74" width="8.83" height="7.84" fill="#483e94" stroke="#7c7c7c" stroke-width="0.75" />
<rect x="256.33" y="498.74" width="8.83" height="7.84" fill="#fafafd" stroke="#7c7c7c" stroke-width="0.75" />
<rect x="265.16" y="498.74" width="8.83" height="7.84" fill="#a5a4d1" stroke="#7c7c7c" stroke-width="0.75" />
<rect x="273.99" y="498.74" width="8.83" height="7.84" fill="#554f9e" stroke="#7c7c7c" stroke-width="0.75" />
<rect x="282.82" y="498.74" width="8.83" height="7.84" fill="#6e6aaf" stroke="#7c7c7c" stroke-width="0.75" />
<rect x="291.65" y="498.74" width="8.83" height="7.84" fill="#7a78b7" stroke="#7c7c7c" stroke-width="0.75" />
<rect x="300.48" y="498.74" width="8.83" height="7.84" fill="#d9d9ed" stroke="#7c7c7c" stroke-width="0.75" />
<rect x="309.31" y="498.74" width="8.83" height="7.84" fill="#cccce7" stroke="#7c7c7c" stroke-width="0.75" />
<rect x="318.14" y="498.74" width="8.83" height="7.84" fill="#7e7cba" stroke="#7c7c7c" stroke-width="0.75" />
<rect x="326.97" y="498.74" width="8.83" height="7.84" fill="#8b89c2" stroke="#7c7c7c" stroke-width="0.75" />
<rect x="335.80" y="498.74" width="8.83" height="7.84" fill="#cccce7" stroke="#7c7c7c" stroke-width="0.75" />
<rect x="344.63" y="498.74" width="8.83" height="7.84" fill="#342584" stroke="#7c7c7c" stroke-width="0.75" />
<rect x="353.46" y="498.74" width="8.83" height="7.84" fill="#9897ca" stroke="#7c7c7c" stroke-width="0.75" />
<rect x="362.29" y="498.74" width="8.83" height="7.84" fill="#f2f2f9" stroke="#7c7c7c" stroke-width="0.75" />
<rect x="371.12" y="498.74" width="8.83" height="7.84" fill="#cccce7" stroke="#7c7c7c" stroke-width="0.75" />
<rect x="379.95" y="498.74" width="8.83" height="7.84" fill="#7e7cba" stroke="#7c7c7c" stroke-width="0.75" />
<rect x="388.78" y="498.74" width="8.83" height="7.84" fill="#7e7cba" stroke="#7c7c7c" stroke-width="0.75" />
<rect x="397.61" y="498.74" width="8.83" height="7.84" fill="#bfbfe1" stroke="#7c7c7c" stroke-width="0.75" />
<rect x="406.44" y="498.74" width="8.83" height="7.84" fill="#41368e" stroke="#7c7c7c" stroke-width="0.75" />
<rect x="415.27" y="498.74" width="8.83" height="7.84" fill="#9897ca" stroke="#7c7c7c" stroke-width="0.75" />
<rect x="424.10" y="498.74" width="8.83" height="7.84" fill="#f2f2f9" stroke="#7c7c7c" stroke-width="0.75" />
<rect x="432.93" y="498.74" width="8.83" height="7.84" fill="#f7dfdc" stroke="#7c7c7c" stroke-width="0.75" />
<rect x="441.76" y="498.74" width="8.83" height="7.84" fill="#cccce7" stroke="#7c7c7c" stroke-width="0.75" />
<rect x="450.59" y="498.74" width="8.83" height="7.84" fill="#b2b2d9" stroke="#7c7c7c" stroke-width="0.75" />
<rect x="459.42" y="498.74" width="8.83" height="7.84" fill="#cccce7" stroke="#7c7c7c" stroke-width="0.75" />
<rect x="468.25" y="498.74" width="8.83" height="7.84" fill="#8b89c2" stroke="#7c7c7c" stroke-width="0.75" />
<rect x="477.08" y="498.74" width="8.83" height="7.84" fill="#cccce7" stroke="#7c7c7c" stroke-width="0.75" />
<rect x="247.50" y="506.58" width="8.83" height="7.84" fill="#a5a4d1" stroke="#7c7c7c" stroke-width="0.75" />
<rect x="256.33" y="506.58" width="8.83" height="7.84" fill="#e5e5f3" stroke="#7c7c7c" stroke-width="0.75" />
<rect x="265.16" y="506.58" width="8.83" height="7.84" fill="#f4d4d1" stroke="#7c7c7c" stroke-width="0.75" />
<rect x="273.99" y="506.58" width="8.83" height="7.84" fill="#a5a4d1" stroke="#7c7c7c" stroke-width="0.75" />
<rect x="282.82" y="506.58" width="8.83" height="7.84" fill="#5d58a4" stroke="#7c7c7c" stroke-width="0.75" />
<rect x="291.65" y="506.58" width="8.83" height="7.84" fill="#5d58a4" stroke="#7c7c7c" stroke-width="0.75" />
<rect x="300.48" y="506.58" width="8.83" height="7.84" fill="#f2f2f9" stroke="#7c7c7c" stroke-width="0.75" />
<rect x="309.31" y="506.58" width="8.83" height="7.84" fill="#bfbfe1" stroke="#7c7c7c" stroke-width="0.75" />
<rect x="318.14" y="506.58" width="8.83" height="7.84" fill="#7a78b7" stroke="#7c7c7c" stroke-width="0.75" />
<rect x="326.97" y="506.58" width="8.83" height="7.84" fill="#9897ca" stroke="#7c7c7c" stroke-width="0.75" />
<rect x="335.80" y="506.58" width="8.83" height="7.84" fill="#d9d9ed" stroke="#7c7c7c" stroke-width="0.75" />
<rect x="344.63" y="506.58" width="8.83" height="7.84" fill="#9897ca" stroke="#7c7c7c" stroke-width="0.75" />
<rect x="353.46" y="506.58" width="8.83" height="7.84" fill="#342584" stroke="#7c7c7c" stroke-width="0.75" />
<rect x="362.29" y="506.58" width="8.83" height="7.84" fill="#f2f2f9" stroke="#7c7c7c" stroke-width="0.75" />
<rect x="371.12" y="506.58" width="8.83" height="7.84" fill="#b2b2d9" stroke="#7c7c7c" stroke-width="0.75" />
<rect x="379.95" y="506.58" width="8.83" height="7.84" fill="#7e7cba" stroke="#7c7c7c" stroke-width="0.75" />
<rect x="388.78" y="506.58" width="8.83" height="7.84" fill="#9897ca" stroke="#7c7c7c" stroke-width="0.75" />
<rect x="397.61" y="506.58" width="8.83" height="7.84" fill="#cccce7" stroke="#7c7c7c" stroke-width="0.75" />
<rect x="406.44" y="506.58" width="8.83" height="7.84" fill="#cccce7" stroke="#7c7c7c" stroke-width="0.75" />
<rect x="415.27" y="506.58" width="8.83" height="7.84" fill="#41368e" stroke="#7c7c7c" stroke-width="0.75" />
<rect x="424.10" y="506.58" width="8.83" height="7.84" fill="#cccce7" stroke="#7c7c7c" stroke-width="0.75" />
<rect x="432.93" y="506.58" width="8.83" height="7.84" fill="#fbeeed" stroke="#7c7c7c" stroke-width="0.75" />
<rect x="441.76" y="506.58" width="8.83" height="7.84" fill="#a5a4d1" stroke="#7c7c7c" stroke-width="0.75" />
<rect x="450.59" y="506.58" width="8.83" height="7.84" fill="#bfbfe1" stroke="#7c7c7c" stroke-width="0.75" />
<rect x="459.42" y="506.58" width="8.83" height="7.84" fill="#b2b2d9" stroke="#7c7c7c" stroke-width="0.75" />
<rect x="468.25" y="506.58" width="8.83" height="7.84" fill="#9897ca" stroke="#7c7c7c" stroke-width="0.75" />
<rect x="477.08" y="506.58" width="8.83" height="7.84" fill="#6e6aaf" stroke="#7c7c7c" stroke-width="0.75" />
<rect x="247.50" y="514.42" width="8.83" height="7.84" fill="#f8e5e3" stroke="#7c7c7c" stroke-width="0.75" />
<rect x="256.33" y="514.42" width="8.83" height="7.84" fill="#f7dfdc" stroke="#7c7c7c" stroke-width="0.75" />
<rect x="265.16" y="514.42" width="8.83" height="7.84" fill="#e5e5f3" stroke="#7c7c7c" stroke-width="0.75" />
<rect x="273.99" y="514.42" width="8.83" height="7.84" fill="#ffffff" stroke="#7c7c7c" stroke-width="0.75" />
<rect x="282.82" y="514.42" width="8.83" height="7.84" fill="#bfbfe1" stroke="#7c7c7c" stroke-width="0.75" />
<rect x="291.65" y="514.42" width="8.83" height="7.84" fill="#cccce7" stroke="#7c7c7c" stroke-width="0.75" />
<rect x="300.48" y="514.42" width="8.83" height="7.84" fill="#a5a4d1" stroke="#7c7c7c" stroke-width="0.75" />
<rect x="309.31" y="514.42" width="8.83" height="7.84" fill="#f7dfdc" stroke="#7c7c7c" stroke-width="0.75" />
<rect x="318.14" y="514.42" width="8.83" height="7.84" fill="#b2b2d9" stroke="#7c7c7c" stroke-width="0.75" />
<rect x="326.97" y="514.42" width="8.83" height="7.84" fill="#f2f2f9" stroke="#7c7c7c" stroke-width="0.75" />
<rect x="335.80" y="514.42" width="8.83" height="7.84" fill="#ffffff" stroke="#7c7c7c" stroke-width="0.75" />
<rect x="344.63" y="514.42" width="8.83" height="7.84" fill="#f2f2f9" stroke="#7c7c7c" stroke-width="0.75" />
<rect x="353.46" y="514.42" width="8.83" height="7.84" fill="#f2f2f9" stroke="#7c7c7c" stroke-width="0.75" />
<rect x="362.29" y="514.42" width="8.83" height="7.84" fill="#342584" stroke="#7c7c7c" stroke-width="0.75" />
<rect x="371.12" y="514.42" width="8.83" height="7.84" fill="#d9d9ed" stroke="#7c7c7c" stroke-width="0.75" />
<rect x="379.95" y="514.42" width="8.83" height="7.84" fill="#cccce7" stroke="#7c7c7c" stroke-width="0.75" />
<rect x="388.78" y="514.42" width="8.83" height="7.84" fill="#fafafd" stroke="#7c7c7c" stroke-width="0.75" />
<rect x="397.61" y="514.42" width="8.83" height="7.84" fill="#cccce7" stroke="#7c7c7c" stroke-width="0.75" />
<rect x="406.44" y="514.42" width="8.83" height="7.84" fill="#bfbfe1" stroke="#7c7c7c" stroke-width="0.75" />
<rect x="415.27" y="514.42" width="8.83" height="7.84" fill="#ebebf5" stroke="#7c7c7c" stroke-width="0.75" />
<rect x="424.10" y="514.42" width="8.83" height="7.84" fill="#9897ca" stroke="#7c7c7c" stroke-width="0.75" />
<rect x="432.93" y="514.42" width="8.83" height="7.84" fill="#eeb9b4" stroke="#7c7c7c" stroke-width="0.75" />
<rect x="441.76" y="514.42" width="8.83" height="7.84" fill="#fdf9f8" stroke="#7c7c7c" stroke-width="0.75" />
<rect x="450.59" y="514.42" width="8.83" height="7.84" fill="#f5d8d6" stroke="#7c7c7c" stroke-width="0.75" />
<rect x="459.42" y="514.42" width="8.83" height="7.84" fill="#f7dfdc" stroke="#7c7c7c" stroke-width="0.75" />
<rect x="468.25" y="514.42" width="8.83" height="7.84" fill="#fafafd" stroke="#7c7c7c" stroke-width="0.75" />
<rect x="477.08" y="514.42" width="8.83" height="7.84" fill="#ebaba4" stroke="#7c7c7c" stroke-width="0.75" />
<rect x="247.50" y="522.26" width="8.83" height="7.84" fill="#cccce7" stroke="#7c7c7c" stroke-width="0.75" />
<rect x="256.33" y="522.26" width="8.83" height="7.84" fill="#f7dfdc" stroke="#7c7c7c" stroke-width="0.75" />
<rect x="265.16" y="522.26" width="8.83" height="7.84" fill="#f9e9e8" stroke="#7c7c7c" stroke-width="0.75" />
<rect x="273.99" y="522.26" width="8.83" height="7.84" fill="#ffffff" stroke="#7c7c7c" stroke-width="0.75" />
<rect x="282.82" y="522.26" width="8.83" height="7.84" fill="#ebebf5" stroke="#7c7c7c" stroke-width="0.75" />
<rect x="291.65" y="522.26" width="8.83" height="7.84" fill="#e5e5f3" stroke="#7c7c7c" stroke-width="0.75" />
<rect x="300.48" y="522.26" width="8.83" height="7.84" fill="#e5e5f3" stroke="#7c7c7c" stroke-width="0.75" />
<rect x="309.31" y="522.26" width="8.83" height="7.84" fill="#4e4799" stroke="#7c7c7c" stroke-width="0.75" />
<rect x="318.14" y="522.26" width="8.83" height="7.84" fill="#a5a4d1" stroke="#7c7c7c" stroke-width="0.75" />
<rect x="326.97" y="522.26" width="8.83" height="7.84" fill="#b2b2d9" stroke="#7c7c7c" stroke-width="0.75" />
<rect x="335.80" y="522.26" width="8.83" height="7.84" fill="#9897ca" stroke="#7c7c7c" stroke-width="0.75" />
<rect x="344.63" y="522.26" width="8.83" height="7.84" fill="#cccce7" stroke="#7c7c7c" stroke-width="0.75" />
<rect x="353.46" y="522.26" width="8.83" height="7.84" fill="#b2b2d9" stroke="#7c7c7c" stroke-width="0.75" />
<rect x="362.29" y="522.26" width="8.83" height="7.84" fill="#d9d9ed" stroke="#7c7c7c" stroke-width="0.75" />
<rect x="371.12" y="522.26" width="8.83" height="7.84" fill="#342584" stroke="#7c7c7c" stroke-width="0.75" />
<rect x="379.95" y="522.26" width="8.83" height="7.84" fill="#cccce7" stroke="#7c7c7c" stroke-width="0.75" />
<rect x="388.78" y="522.26" width="8.83" height="7.84" fill="#d9d9ed" stroke="#7c7c7c" stroke-width="0.75" />
<rect x="397.61" y="522.26" width="8.83" height="7.84" fill="#a5a4d1" stroke="#7c7c7c" stroke-width="0.75" />
<rect x="406.44" y="522.26" width="8.83" height="7.84" fill="#cccce7" stroke="#7c7c7c" stroke-width="0.75" />
<rect x="415.27" y="522.26" width="8.83" height="7.84" fill="#b2b2d9" stroke="#7c7c7c" stroke-width="0.75" />
<rect x="424.10" y="522.26" width="8.83" height="7.84" fill="#e5e5f3" stroke="#7c7c7c" stroke-width="0.75" />
<rect x="432.93" y="522.26" width="8.83" height="7.84" fill="#ffffff" stroke="#7c7c7c" stroke-width="0.75" />
<rect x="441.76" y="522.26" width="8.83" height="7.84" fill="#f2f2f9" stroke="#7c7c7c" stroke-width="0.75" />
<rect x="450.59" y="522.26" width="8.83" height="7.84" fill="#ffffff" stroke="#7c7c7c" stroke-width="0.75" />
<rect x="459.42" y="522.26" width="8.83" height="7.84" fill="#fafafd" stroke="#7c7c7c" stroke-width="0.75" />
<rect x="468.25" y="522.26" width="8.83" height="7.84" fill="#fbeeed" stroke="#7c7c7c" stroke-width="0.75" />
<rect x="477.08" y="522.26" width="8.83" height="7.84" fill="#ebebf5" stroke="#7c7c7c" stroke-width="0.75" />
<rect x="247.50" y="530.10" width="8.83" height="7.84" fill="#6e6aaf" stroke="#7c7c7c" stroke-width="0.75" />
<rect x="256.33" y="530.10" width="8.83" height="7.84" fill="#f2f2f9" stroke="#7c7c7c" stroke-width="0.75" />
<rect x="265.16" y="530.10" width="8.83" height="7.84" fill="#a5a4d1" stroke="#7c7c7c" stroke-width="0.75" />
<rect x="273.99" y="530.10" width="8.83" height="7.84" fill="#7673b4" stroke="#7c7c7c" stroke-width="0.75" />
<rect x="282.82" y="530.10" width="8.83" height="7.84" fill="#6561a9" stroke="#7c7c7c" stroke-width="0.75" />
<rect x="291.65" y="530.10" width="8.83" height="7.84" fill="#6e6aaf" stroke="#7c7c7c" stroke-width="0.75" />
<rect x="300.48" y="530.10" width="8.83" height="7.84" fill="#cccce7" stroke="#7c7c7c" stroke-width="0.75" />
<rect x="309.31" y="530.10" width="8.83" height="7.84" fill="#bfbfe1" stroke="#7c7c7c" stroke-width="0.75" />
<rect x="318.14" y="530.10" width="8.83" height="7.84" fill="#483e94" stroke="#7c7c7c" stroke-width="0.75" />
<rect x="326.97" y="530.10" width="8.83" height="7.84" fill="#7673b4" stroke="#7c7c7c" stroke-width="0.75" />
<rect x="335.80" y="530.10" width="8.83" height="7.84" fill="#fafafd" stroke="#7c7c7c" stroke-width="0.75" />
<rect x="344.63" y="530.10" width="8.83" height="7.84" fill="#7e7cba" stroke="#7c7c7c" stroke-width="0.75" />
<rect x="353.46" y="530.10" width="8.83" height="7.84" fill="#7e7cba" stroke="#7c7c7c" stroke-width="0.75" />
<rect x="362.29" y="530.10" width="8.83" height="7.84" fill="#cccce7" stroke="#7c7c7c" stroke-width="0.75" />
<rect x="371.12" y="530.10" width="8.83" height="7.84" fill="#cccce7" stroke="#7c7c7c" stroke-width="0.75" />
<rect x="379.95" y="530.10" width="8.83" height="7.84" fill="#342584" stroke="#7c7c7c" stroke-width="0.75" />
<rect x="388.78" y="530.10" width="8.83" height="7.84" fill="#7673b4" stroke="#7c7c7c" stroke-width="0.75" />
<rect x="397.61" y="530.10" width="8.83" height="7.84" fill="#cccce7" stroke="#7c7c7c" stroke-width="0.75" />
<rect x="406.44" y="530.10" width="8.83" height="7.84" fill="#8b89c2" stroke="#7c7c7c" stroke-width="0.75" />
<rect x="415.27" y="530.10" width="8.83" height="7.84" fill="#6e6aaf" stroke="#7c7c7c" stroke-width="0.75" />
<rect x="424.10" y="530.10" width="8.83" height="7.84" fill="#e5e5f3" stroke="#7c7c7c" stroke-width="0.75" />
<rect x="432.93" y="530.10" width="8.83" height="7.84" fill="#fcf4f4" stroke="#7c7c7c" stroke-width="0.75" />
<rect x="441.76" y="530.10" width="8.83" height="7.84" fill="#7673b4" stroke="#7c7c7c" stroke-width="0.75" />
<rect x="450.59" y="530.10" width="8.83" height="7.84" fill="#7e7cba" stroke="#7c7c7c" stroke-width="0.75" />
<rect x="459.42" y="530.10" width="8.83" height="7.84" fill="#cccce7" stroke="#7c7c7c" stroke-width="0.75" />
<rect x="468.25" y="530.10" width="8.83" height="7.84" fill="#7e7cba" stroke="#7c7c7c" stroke-width="0.75" />
<rect x="477.08" y="530.10" width="8.83" height="7.84" fill="#7e7cba" stroke="#7c7c7c" stroke-width="0.75" />
<rect x="247.50" y="537.94" width="8.83" height="7.84" fill="#7e7cba" stroke="#7c7c7c" stroke-width="0.75" />
<rect x="256.33" y="537.94" width="8.83" height="7.84" fill="#e0e0f1" stroke="#7c7c7c" stroke-width="0.75" />
<rect x="265.16" y="537.94" width="8.83" height="7.84" fill="#b2b2d9" stroke="#7c7c7c" stroke-width="0.75" />
<rect x="273.99" y="537.94" width="8.83" height="7.84" fill="#8b89c2" stroke="#7c7c7c" stroke-width="0.75" />
<rect x="282.82" y="537.94" width="8.83" height="7.84" fill="#7e7cba" stroke="#7c7c7c" stroke-width="0.75" />
<rect x="291.65" y="537.94" width="8.83" height="7.84" fill="#8b89c2" stroke="#7c7c7c" stroke-width="0.75" />
<rect x="300.48" y="537.94" width="8.83" height="7.84" fill="#bfbfe1" stroke="#7c7c7c" stroke-width="0.75" />
<rect x="309.31" y="537.94" width="8.83" height="7.84" fill="#bfbfe1" stroke="#7c7c7c" stroke-width="0.75" />
<rect x="318.14" y="537.94" width="8.83" height="7.84" fill="#7673b4" stroke="#7c7c7c" stroke-width="0.75" />
<rect x="326.97" y="537.94" width="8.83" height="7.84" fill="#6e6aaf" stroke="#7c7c7c" stroke-width="0.75" />
<rect x="335.80" y="537.94" width="8.83" height="7.84" fill="#f8e5e3" stroke="#7c7c7c" stroke-width="0.75" />
<rect x="344.63" y="537.94" width="8.83" height="7.84" fill="#7e7cba" stroke="#7c7c7c" stroke-width="0.75" />
<rect x="353.46" y="537.94" width="8.83" height="7.84" fill="#9897ca" stroke="#7c7c7c" stroke-width="0.75" />
<rect x="362.29" y="537.94" width="8.83" height="7.84" fill="#fafafd" stroke="#7c7c7c" stroke-width="0.75" />
<rect x="371.12" y="537.94" width="8.83" height="7.84" fill="#d9d9ed" stroke="#7c7c7c" stroke-width="0.75" />
<rect x="379.95" y="537.94" width="8.83" height="7.84" fill="#7673b4" stroke="#7c7c7c" stroke-width="0.75" />
<rect x="388.78" y="537.94" width="8.83" height="7.84" fill="#342584" stroke="#7c7c7c" stroke-width="0.75" />
<rect x="397.61" y="537.94" width="8.83" height="7.84" fill="#fafafd" stroke="#7c7c7c" stroke-width="0.75" />
<rect x="406.44" y="537.94" width="8.83" height="7.84" fill="#9897ca" stroke="#7c7c7c" stroke-width="0.75" />
<rect x="415.27" y="537.94" width="8.83" height="7.84" fill="#6e6aaf" stroke="#7c7c7c" stroke-width="0.75" />
<rect x="424.10" y="537.94" width="8.83" height="7.84" fill="#f7dfdc" stroke="#7c7c7c" stroke-width="0.75" />
<rect x="432.93" y="537.94" width="8.83" height="7.84" fill="#fbeeed" stroke="#7c7c7c" stroke-width="0.75" />
<rect x="441.76" y="537.94" width="8.83" height="7.84" fill="#bfbfe1" stroke="#7c7c7c" stroke-width="0.75" />
<rect x="450.59" y="537.94" width="8.83" height="7.84" fill="#483e94" stroke="#7c7c7c" stroke-width="0.75" />
<rect x="459.42" y="537.94" width="8.83" height="7.84" fill="#ebebf5" stroke="#7c7c7c" stroke-width="0.75" />
<rect x="468.25" y="537.94" width="8.83" height="7.84" fill="#b2b2d9" stroke="#7c7c7c" stroke-width="0.75" />
<rect x="477.08" y="537.94" width="8.83" height="7.84" fill="#9897ca" stroke="#7c7c7c" stroke-width="0.75" />
<rect x="247.50" y="545.78" width="8.83" height="7.84" fill="#f2f2f9" stroke="#7c7c7c" stroke-width="0.75" />
<rect x="256.33" y="545.78" width="8.83" height="7.84" fill="#f8e5e3" stroke="#7c7c7c" stroke-width="0.75" />
<rect x="265.16" y="545.78" width="8.83" height="7.84" fill="#f1c7c3" stroke="#7c7c7c" stroke-width="0.75" />
<rect x="273.99" y="545.78" width="8.83" height="7.84" fill="#ebebf5" stroke="#7c7c7c" stroke-width="0.75" />
<rect x="282.82" y="545.78" width="8.83" height="7.84" fill="#cccce7" stroke="#7c7c7c" stroke-width="0.75" />
<rect x="291.65" y="545.78" width="8.83" height="7.84" fill="#d9d9ed" stroke="#7c7c7c" stroke-width="0.75" />
<rect x="300.48" y="545.78" width="8.83" height="7.84" fill="#fafafd" stroke="#7c7c7c" stroke-width="0.75" />
<rect x="309.31" y="545.78" width="8.83" height="7.84" fill="#d9d9ed" stroke="#7c7c7c" stroke-width="0.75" />
<rect x="318.14" y="545.78" width="8.83" height="7.84" fill="#fafafd" stroke="#7c7c7c" stroke-width="0.75" />
<rect x="326.97" y="545.78" width="8.83" height="7.84" fill="#f2f2f9" stroke="#7c7c7c" stroke-width="0.75" />
<rect x="335.80" y="545.78" width="8.83" height="7.84" fill="#6e6aaf" stroke="#7c7c7c" stroke-width="0.75" />
<rect x="344.63" y="545.78" width="8.83" height="7.84" fill="#bfbfe1" stroke="#7c7c7c" stroke-width="0.75" />
<rect x="353.46" y="545.78" width="8.83" height="7.84" fill="#cccce7" stroke="#7c7c7c" stroke-width="0.75" />
<rect x="362.29" y="545.78" width="8.83" height="7.84" fill="#cccce7" stroke="#7c7c7c" stroke-width="0.75" />
<rect x="371.12" y="545.78" width="8.83" height="7.84" fill="#a5a4d1" stroke="#7c7c7c" stroke-width="0.75" />
<rect x="379.95" y="545.78" width="8.83" height="7.84" fill="#cccce7" stroke="#7c7c7c" stroke-width="0.75" />
<rect x="388.78" y="545.78" width="8.83" height="7.84" fill="#fafafd" stroke="#7c7c7c" stroke-width="0.75" />
<rect x="397.61" y="545.78" width="8.83" height="7.84" fill="#342584" stroke="#7c7c7c" stroke-width="0.75" />
<rect x="406.44" y="545.78" width="8.83" height="7.84" fill="#b2b2d9" stroke="#7c7c7c" stroke-width="0.75" />
<rect x="415.27" y="545.78" width="8.83" height="7.84" fill="#cccce7" stroke="#7c7c7c" stroke-width="0.75" />
<rect x="424.10" y="545.78" width="8.83" height="7.84" fill="#e5e5f3" stroke="#7c7c7c" stroke-width="0.75" />
<rect x="432.93" y="545.78" width="8.83" height="7.84" fill="#fafafd" stroke="#7c7c7c" stroke-width="0.75" />
<rect x="441.76" y="545.78" width="8.83" height="7.84" fill="#ebebf5" stroke="#7c7c7c" stroke-width="0.75" />
<rect x="450.59" y="545.78" width="8.83" height="7.84" fill="#f4d4d1" stroke="#7c7c7c" stroke-width="0.75" />
<rect x="459.42" y="545.78" width="8.83" height="7.84" fill="#e5e5f3" stroke="#7c7c7c" stroke-width="0.75" />
<rect x="468.25" y="545.78" width="8.83" height="7.84" fill="#f2f2f9" stroke="#7c7c7c" stroke-width="0.75" />
<rect x="477.08" y="545.78" width="8.83" height="7.84" fill="#d9d9ed" stroke="#7c7c7c" stroke-width="0.75" />
<rect x="247.50" y="553.62" width="8.83" height="7.84" fill="#7e7cba" stroke="#7c7c7c" stroke-width="0.75" />
<rect x="256.33" y="553.62" width="8.83" height="7.84" fill="#e5e5f3" stroke="#7c7c7c" stroke-width="0.75" />
<rect x="265.16" y="553.62" width="8.83" height="7.84" fill="#fcf4f4" stroke="#7c7c7c" stroke-width="0.75" />
<rect x="273.99" y="553.62" width="8.83" height="7.84" fill="#8b89c2" stroke="#7c7c7c" stroke-width="0.75" />
<rect x="282.82" y="553.62" width="8.83" height="7.84" fill="#7e7cba" stroke="#7c7c7c" stroke-width="0.75" />
<rect x="291.65" y="553.62" width="8.83" height="7.84" fill="#b2b2d9" stroke="#7c7c7c" stroke-width="0.75" />
<rect x="300.48" y="553.62" width="8.83" height="7.84" fill="#a5a4d1" stroke="#7c7c7c" stroke-width="0.75" />
<rect x="309.31" y="553.62" width="8.83" height="7.84" fill="#f9e9e8" stroke="#7c7c7c" stroke-width="0.75" />
<rect x="318.14" y="553.62" width="8.83" height="7.84" fill="#7e7cba" stroke="#7c7c7c" stroke-width="0.75" />
<rect x="326.97" y="553.62" width="8.83" height="7.84" fill="#7e7cba" stroke="#7c7c7c" stroke-width="0.75" />
<rect x="335.80" y="553.62" width="8.83" height="7.84" fill="#d9d9ed" stroke="#7c7c7c" stroke-width="0.75" />
<rect x="344.63" y="553.62" width="8.83" height="7.84" fill="#41368e" stroke="#7c7c7c" stroke-width="0.75" />
<rect x="353.46" y="553.62" width="8.83" height="7.84" fill="#cccce7" stroke="#7c7c7c" stroke-width="0.75" />
<rect x="362.29" y="553.62" width="8.83" height="7.84" fill="#bfbfe1" stroke="#7c7c7c" stroke-width="0.75" />
<rect x="371.12" y="553.62" width="8.83" height="7.84" fill="#cccce7" stroke="#7c7c7c" stroke-width="0.75" />
<rect x="379.95" y="553.62" width="8.83" height="7.84" fill="#8b89c2" stroke="#7c7c7c" stroke-width="0.75" />
<rect x="388.78" y="553.62" width="8.83" height="7.84" fill="#9897ca" stroke="#7c7c7c" stroke-width="0.75" />
<rect x="397.61" y="553.62" width="8.83" height="7.84" fill="#b2b2d9" stroke="#7c7c7c" stroke-width="0.75" />
<rect x="406.44" y="553.62" width="8.83" height="7.84" fill="#342584" stroke="#7c7c7c" stroke-width="0.75" />
<rect x="415.27" y="553.62" width="8.83" height="7.84" fill="#bfbfe1" stroke="#7c7c7c" stroke-width="0.75" />
<rect x="424.10" y="553.62" width="8.83" height="7.84" fill="#d9d9ed" stroke="#7c7c7c" stroke-width="0.75" />
<rect x="432.93" y="553.62" width="8.83" height="7.84" fill="#fafafd" stroke="#7c7c7c" stroke-width="0.75" />
<rect x="441.76" y="553.62" width="8.83" height="7.84" fill="#cccce7" stroke="#7c7c7c" stroke-width="0.75" />
<rect x="450.59" y="553.62" width="8.83" height="7.84" fill="#d9d9ed" stroke="#7c7c7c" stroke-width="0.75" />
<rect x="459.42" y="553.62" width="8.83" height="7.84" fill="#b2b2d9" stroke="#7c7c7c" stroke-width="0.75" />
<rect x="468.25" y="553.62" width="8.83" height="7.84" fill="#7673b4" stroke="#7c7c7c" stroke-width="0.75" />
<rect x="477.08" y="553.62" width="8.83" height="7.84" fill="#fafafd" stroke="#7c7c7c" stroke-width="0.75" />
<rect x="247.50" y="561.46" width="8.83" height="7.84" fill="#a5a4d1" stroke="#7c7c7c" stroke-width="0.75" />
<rect x="256.33" y="561.46" width="8.83" height="7.84" fill="#cccce7" stroke="#7c7c7c" stroke-width="0.75" />
<rect x="265.16" y="561.46" width="8.83" height="7.84" fill="#ebebf5" stroke="#7c7c7c" stroke-width="0.75" />
<rect x="273.99" y="561.46" width="8.83" height="7.84" fill="#9897ca" stroke="#7c7c7c" stroke-width="0.75" />
<rect x="282.82" y="561.46" width="8.83" height="7.84" fill="#6e6aaf" stroke="#7c7c7c" stroke-width="0.75" />
<rect x="291.65" y="561.46" width="8.83" height="7.84" fill="#6561a9" stroke="#7c7c7c" stroke-width="0.75" />
<rect x="300.48" y="561.46" width="8.83" height="7.84" fill="#ebebf5" stroke="#7c7c7c" stroke-width="0.75" />
<rect x="309.31" y="561.46" width="8.83" height="7.84" fill="#a5a4d1" stroke="#7c7c7c" stroke-width="0.75" />
<rect x="318.14" y="561.46" width="8.83" height="7.84" fill="#6561a9" stroke="#7c7c7c" stroke-width="0.75" />
<rect x="326.97" y="561.46" width="8.83" height="7.84" fill="#6561a9" stroke="#7c7c7c" stroke-width="0.75" />
<rect x="335.80" y="561.46" width="8.83" height="7.84" fill="#f2f2f9" stroke="#7c7c7c" stroke-width="0.75" />
<rect x="344.63" y="561.46" width="8.83" height="7.84" fill="#9897ca" stroke="#7c7c7c" stroke-width="0.75" />
<rect x="353.46" y="561.46" width="8.83" height="7.84" fill="#41368e" stroke="#7c7c7c" stroke-width="0.75" />
<rect x="362.29" y="561.46" width="8.83" height="7.84" fill="#ebebf5" stroke="#7c7c7c" stroke-width="0.75" />
<rect x="371.12" y="561.46" width="8.83" height="7.84" fill="#b2b2d9" stroke="#7c7c7c" stroke-width="0.75" />
<rect x="379.95" y="561.46" width="8.83" height="7.84" fill="#6e6aaf" stroke="#7c7c7c" stroke-width="0.75" />
<rect x="388.78" y="561.46" width="8.83" height="7.84" fill="#6e6aaf" stroke="#7c7c7c" stroke-width="0.75" />
<rect x="397.61" y="561.46" width="8.83" height="7.84" fill="#cccce7" stroke="#7c7c7c" stroke-width="0.75" />
<rect x="406.44" y="561.46" width="8.83" height="7.84" fill="#bfbfe1" stroke="#7c7c7c" stroke-width="0.75" />
<rect x="415.27" y="561.46" width="8.83" height="7.84" fill="#342584" stroke="#7c7c7c" stroke-width="0.75" />
<rect x="424.10" y="561.46" width="8.83" height="7.84" fill="#fafafd" stroke="#7c7c7c" stroke-width="0.75" />
<rect x="432.93" y="561.46" width="8.83" height="7.84" fill="#fcf4f4" stroke="#7c7c7c" stroke-width="0.75" />
<rect x="441.76" y="561.46" width="8.83" height="7.84" fill="#a5a4d1" stroke="#7c7c7c" stroke-width="0.75" />
<rect x="450.59" y="561.46" width="8.83" height="7.84" fill="#9897ca" stroke="#7c7c7c" stroke-width="0.75" />
<rect x="459.42" y="561.46" width="8.83" height="7.84" fill="#cccce7" stroke="#7c7c7c" stroke-width="0.75" />
<rect x="468.25" y="561.46" width="8.83" height="7.84" fill="#b2b2d9" stroke="#7c7c7c" stroke-width="0.75" />
<rect x="477.08" y="561.46" width="8.83" height="7.84" fill="#6561a9" stroke="#7c7c7c" stroke-width="0.75" />
<rect x="247.50" y="569.30" width="8.83" height="7.84" fill="#ffffff" stroke="#7c7c7c" stroke-width="0.75" />
<rect x="256.33" y="569.30" width="8.83" height="7.84" fill="#fbeeed" stroke="#7c7c7c" stroke-width="0.75" />
<rect x="265.16" y="569.30" width="8.83" height="7.84" fill="#f2f2f9" stroke="#7c7c7c" stroke-width="0.75" />
<rect x="273.99" y="569.30" width="8.83" height="7.84" fill="#fbeeed" stroke="#7c7c7c" stroke-width="0.75" />
<rect x="282.82" y="569.30" width="8.83" height="7.84" fill="#e5e5f3" stroke="#7c7c7c" stroke-width="0.75" />
<rect x="291.65" y="569.30" width="8.83" height="7.84" fill="#fafafd" stroke="#7c7c7c" stroke-width="0.75" />
<rect x="300.48" y="569.30" width="8.83" height="7.84" fill="#fafafd" stroke="#7c7c7c" stroke-width="0.75" />
<rect x="309.31" y="569.30" width="8.83" height="7.84" fill="#fafafd" stroke="#7c7c7c" stroke-width="0.75" />
<rect x="318.14" y="569.30" width="8.83" height="7.84" fill="#fcf4f4" stroke="#7c7c7c" stroke-width="0.75" />
<rect x="326.97" y="569.30" width="8.83" height="7.84" fill="#ebebf5" stroke="#7c7c7c" stroke-width="0.75" />
<rect x="335.80" y="569.30" width="8.83" height="7.84" fill="#f8e5e3" stroke="#7c7c7c" stroke-width="0.75" />
<rect x="344.63" y="569.30" width="8.83" height="7.84" fill="#f2f2f9" stroke="#7c7c7c" stroke-width="0.75" />
<rect x="353.46" y="569.30" width="8.83" height="7.84" fill="#cccce7" stroke="#7c7c7c" stroke-width="0.75" />
<rect x="362.29" y="569.30" width="8.83" height="7.84" fill="#9897ca" stroke="#7c7c7c" stroke-width="0.75" />
<rect x="371.12" y="569.30" width="8.83" height="7.84" fill="#e5e5f3" stroke="#7c7c7c" stroke-width="0.75" />
<rect x="379.95" y="569.30" width="8.83" height="7.84" fill="#e5e5f3" stroke="#7c7c7c" stroke-width="0.75" />
<rect x="388.78" y="569.30" width="8.83" height="7.84" fill="#f7dfdc" stroke="#7c7c7c" stroke-width="0.75" />
<rect x="397.61" y="569.30" width="8.83" height="7.84" fill="#e5e5f3" stroke="#7c7c7c" stroke-width="0.75" />
<rect x="406.44" y="569.30" width="8.83" height="7.84" fill="#d9d9ed" stroke="#7c7c7c" stroke-width="0.75" />
<rect x="415.27" y="569.30" width="8.83" height="7.84" fill="#fafafd" stroke="#7c7c7c" stroke-width="0.75" />
<rect x="424.10" y="569.30" width="8.83" height="7.84" fill="#342584" stroke="#7c7c7c" stroke-width="0.75" />
<rect x="432.93" y="569.30" width="8.83" height="7.84" fill="#eeb9b4" stroke="#7c7c7c" stroke-width="0.75" />
<rect x="441.76" y="569.30" width="8.83" height="7.84" fill="#ebebf5" stroke="#7c7c7c" stroke-width="0.75" />
<rect x="450.59" y="569.30" width="8.83" height="7.84" fill="#eeb9b4" stroke="#7c7c7c" stroke-width="0.75" />
<rect x="459.42" y="569.30" width="8.83" height="7.84" fill="#f4d4d1" stroke="#7c7c7c" stroke-width="0.75" />
<rect x="468.25" y="569.30" width="8.83" height="7.84" fill="#e5e5f3" stroke="#7c7c7c" stroke-width="0.75" />
<rect x="477.08" y="569.30" width="8.83" height="7.84" fill="#f4d4d1" stroke="#7c7c7c" stroke-width="0.75" />
<rect x="247.50" y="577.14" width="8.83" height="7.84" fill="#f9e9e8" stroke="#7c7c7c" stroke-width="0.75" />
<rect x="256.33" y="577.14" width="8.83" height="7.84" fill="#9897ca" stroke="#7c7c7c" stroke-width="0.75" />
<rect x="265.16" y="577.14" width="8.83" height="7.84" fill="#ebaba4" stroke="#7c7c7c" stroke-width="0.75" />
<rect x="273.99" y="577.14" width="8.83" height="7.84" fill="#ffffff" stroke="#7c7c7c" stroke-width="0.75" />
<rect x="282.82" y="577.14" width="8.83" height="7.84" fill="#fbeeed" stroke="#7c7c7c" stroke-width="0.75" />
<rect x="291.65" y="577.14" width="8.83" height="7.84" fill="#f9e9e8" stroke="#7c7c7c" stroke-width="0.75" />
<rect x="300.48" y="577.14" width="8.83" height="7.84" fill="#d9d9ed" stroke="#7c7c7c" stroke-width="0.75" />
<rect x="309.31" y="577.14" width="8.83" height="7.84" fill="#fafafd" stroke="#7c7c7c" stroke-width="0.75" />
<rect x="318.14" y="577.14" width="8.83" height="7.84" fill="#f7dfdc" stroke="#7c7c7c" stroke-width="0.75" />
<rect x="326.97" y="577.14" width="8.83" height="7.84" fill="#f9e9e8" stroke="#7c7c7c" stroke-width="0.75" />
<rect x="335.80" y="577.14" width="8.83" height="7.84" fill="#ebebf5" stroke="#7c7c7c" stroke-width="0.75" />
<rect x="344.63" y="577.14" width="8.83" height="7.84" fill="#f7dfdc" stroke="#7c7c7c" stroke-width="0.75" />
<rect x="353.46" y="577.14" width="8.83" height="7.84" fill="#fbeeed" stroke="#7c7c7c" stroke-width="0.75" />
<rect x="362.29" y="577.14" width="8.83" height="7.84" fill="#eeb9b4" stroke="#7c7c7c" stroke-width="0.75" />
<rect x="371.12" y="577.14" width="8.83" height="7.84" fill="#ffffff" stroke="#7c7c7c" stroke-width="0.75" />
<rect x="379.95" y="577.14" width="8.83" height="7.84" fill="#fcf4f4" stroke="#7c7c7c" stroke-width="0.75" />
<rect x="388.78" y="577.14" width="8.83" height="7.84" fill="#fbeeed" stroke="#7c7c7c" stroke-width="0.75" />
<rect x="397.61" y="577.14" width="8.83" height="7.84" fill="#fafafd" stroke="#7c7c7c" stroke-width="0.75" />
<rect x="406.44" y="577.14" width="8.83" height="7.84" fill="#fafafd" stroke="#7c7c7c" stroke-width="0.75" />
<rect x="415.27" y="577.14" width="8.83" height="7.84" fill="#fcf4f4" stroke="#7c7c7c" stroke-width="0.75" />
<rect x="424.10" y="577.14" width="8.83" height="7.84" fill="#eeb9b4" stroke="#7c7c7c" stroke-width="0.75" />
<rect x="432.93" y="577.14" width="8.83" height="7.84" fill="#342584" stroke="#7c7c7c" stroke-width="0.75" />
<rect x="441.76" y="577.14" width="8.83" height="7.84" fill="#9897ca" stroke="#7c7c7c" stroke-width="0.75" />
<rect x="450.59" y="577.14" width="8.83" height="7.84" fill="#bfbfe1" stroke="#7c7c7c" stroke-width="0.75" />
<rect x="459.42" y="577.14" width="8.83" height="7.84" fill="#6561a9" stroke="#7c7c7c" stroke-width="0.75" />
<rect x="468.25" y="577.14" width="8.83" height="7.84" fill="#a5a4d1" stroke="#7c7c7c" stroke-width="0.75" />
<rect x="477.08" y="577.14" width="8.83" height="7.84" fill="#cccce7" stroke="#7c7c7c" stroke-width="0.75" />
<rect x="247.50" y="584.98" width="8.83" height="7.84" fill="#a5a4d1" stroke="#7c7c7c" stroke-width="0.75" />
<rect x="256.33" y="584.98" width="8.83" height="7.84" fill="#bfbfe1" stroke="#7c7c7c" stroke-width="0.75" />
<rect x="265.16" y="584.98" width="8.83" height="7.84" fill="#d9d9ed" stroke="#7c7c7c" stroke-width="0.75" />
<rect x="273.99" y="584.98" width="8.83" height="7.84" fill="#7e7cba" stroke="#7c7c7c" stroke-width="0.75" />
<rect x="282.82" y="584.98" width="8.83" height="7.84" fill="#7673b4" stroke="#7c7c7c" stroke-width="0.75" />
<rect x="291.65" y="584.98" width="8.83" height="7.84" fill="#8b89c2" stroke="#7c7c7c" stroke-width="0.75" />
<rect x="300.48" y="584.98" width="8.83" height="7.84" fill="#fafafd" stroke="#7c7c7c" stroke-width="0.75" />
<rect x="309.31" y="584.98" width="8.83" height="7.84" fill="#e5e5f3" stroke="#7c7c7c" stroke-width="0.75" />
<rect x="318.14" y="584.98" width="8.83" height="7.84" fill="#7673b4" stroke="#7c7c7c" stroke-width="0.75" />
<rect x="326.97" y="584.98" width="8.83" height="7.84" fill="#cccce7" stroke="#7c7c7c" stroke-width="0.75" />
<rect x="335.80" y="584.98" width="8.83" height="7.84" fill="#f4d4d1" stroke="#7c7c7c" stroke-width="0.75" />
<rect x="344.63" y="584.98" width="8.83" height="7.84" fill="#cccce7" stroke="#7c7c7c" stroke-width="0.75" />
<rect x="353.46" y="584.98" width="8.83" height="7.84" fill="#a5a4d1" stroke="#7c7c7c" stroke-width="0.75" />
<rect x="362.29" y="584.98" width="8.83" height="7.84" fill="#fdf9f8" stroke="#7c7c7c" stroke-width="0.75" />
<rect x="371.12" y="584.98" width="8.83" height="7.84" fill="#f2f2f9" stroke="#7c7c7c" stroke-width="0.75" />
<rect x="379.95" y="584.98" width="8.83" height="7.84" fill="#7673b4" stroke="#7c7c7c" stroke-width="0.75" />
<rect x="388.78" y="584.98" width="8.83" height="7.84" fill="#bfbfe1" stroke="#7c7c7c" stroke-width="0.75" />
<rect x="397.61" y="584.98" width="8.83" height="7.84" fill="#ebebf5" stroke="#7c7c7c" stroke-width="0.75" />
<rect x="406.44" y="584.98" width="8.83" height="7.84" fill="#cccce7" stroke="#7c7c7c" stroke-width="0.75" />
<rect x="415.27" y="584.98" width="8.83" height="7.84" fill="#a5a4d1" stroke="#7c7c7c" stroke-width="0.75" />
<rect x="424.10" y="584.98" width="8.83" height="7.84" fill="#ebebf5" stroke="#7c7c7c" stroke-width="0.75" />
<rect x="432.93" y="584.98" width="8.83" height="7.84" fill="#9897ca" stroke="#7c7c7c" stroke-width="0.75" />
<rect x="441.76" y="584.98" width="8.83" height="7.84" fill="#342584" stroke="#7c7c7c" stroke-width="0.75" />
<rect x="450.59" y="584.98" width="8.83" height="7.84" fill="#6e6aaf" stroke="#7c7c7c" stroke-width="0.75" />
<rect x="459.42" y="584.98" width="8.83" height="7.84" fill="#554f9e" stroke="#7c7c7c" stroke-width="0.75" />
<rect x="468.25" y="584.98" width="8.83" height="7.84" fill="#5d58a4" stroke="#7c7c7c" stroke-width="0.75" />
<rect x="477.08" y="584.98" width="8.83" height="7.84" fill="#554f9e" stroke="#7c7c7c" stroke-width="0.75" />
<rect x="247.50" y="592.82" width="8.83" height="7.84" fill="#8b89c2" stroke="#7c7c7c" stroke-width="0.75" />
<rect x="256.33" y="592.82" width="8.83" height="7.84" fill="#b2b2d9" stroke="#7c7c7c" stroke-width="0.75" />
<rect x="265.16" y="592.82" width="8.83" height="7.84" fill="#b2b2d9" stroke="#7c7c7c" stroke-width="0.75" />
<rect x="273.99" y="592.82" width="8.83" height="7.84" fill="#7e7cba" stroke="#7c7c7c" stroke-width="0.75" />
<rect x="282.82" y="592.82" width="8.83" height="7.84" fill="#9897ca" stroke="#7c7c7c" stroke-width="0.75" />
<rect x="291.65" y="592.82" width="8.83" height="7.84" fill="#a5a4d1" stroke="#7c7c7c" stroke-width="0.75" />
<rect x="300.48" y="592.82" width="8.83" height="7.84" fill="#e5e5f3" stroke="#7c7c7c" stroke-width="0.75" />
<rect x="309.31" y="592.82" width="8.83" height="7.84" fill="#bfbfe1" stroke="#7c7c7c" stroke-width="0.75" />
<rect x="318.14" y="592.82" width="8.83" height="7.84" fill="#7e7cba" stroke="#7c7c7c" stroke-width="0.75" />
<rect x="326.97" y="592.82" width="8.83" height="7.84" fill="#b2b2d9" stroke="#7c7c7c" stroke-width="0.75" />
<rect x="335.80" y="592.82" width="8.83" height="7.84" fill="#f7dfdc" stroke="#7c7c7c" stroke-width="0.75" />
<rect x="344.63" y="592.82" width="8.83" height="7.84" fill="#b2b2d9" stroke="#7c7c7c" stroke-width="0.75" />
<rect x="353.46" y="592.82" width="8.83" height="7.84" fill="#bfbfe1" stroke="#7c7c7c" stroke-width="0.75" />
<rect x="362.29" y="592.82" width="8.83" height="7.84" fill="#f5d8d6" stroke="#7c7c7c" stroke-width="0.75" />
<rect x="371.12" y="592.82" width="8.83" height="7.84" fill="#ffffff" stroke="#7c7c7c" stroke-width="0.75" />
<rect x="379.95" y="592.82" width="8.83" height="7.84" fill="#7e7cba" stroke="#7c7c7c" stroke-width="0.75" />
<rect x="388.78" y="592.82" width="8.83" height="7.84" fill="#483e94" stroke="#7c7c7c" stroke-width="0.75" />
<rect x="397.61" y="592.82" width="8.83" height="7.84" fill="#f4d4d1" stroke="#7c7c7c" stroke-width="0.75" />
<rect x="406.44" y="592.82" width="8.83" height="7.84" fill="#d9d9ed" stroke="#7c7c7c" stroke-width="0.75" />
<rect x="415.27" y="592.82" width="8.83" height="7.84" fill="#9897ca" stroke="#7c7c7c" stroke-width="0.75" />
<rect x="424.10" y="592.82" width="8.83" height="7.84" fill="#eeb9b4" stroke="#7c7c7c" stroke-width="0.75" />
<rect x="432.93" y="592.82" width="8.83" height="7.84" fill="#bfbfe1" stroke="#7c7c7c" stroke-width="0.75" />
<rect x="441.76" y="592.82" width="8.83" height="7.84" fill="#6e6aaf" stroke="#7c7c7c" stroke-width="0.75" />
<rect x="450.59" y="592.82" width="8.83" height="7.84" fill="#342584" stroke="#7c7c7c" stroke-width="0.75" />
<rect x="459.42" y="592.82" width="8.83" height="7.84" fill="#8b89c2" stroke="#7c7c7c" stroke-width="0.75" />
<rect x="468.25" y="592.82" width="8.83" height="7.84" fill="#7e7cba" stroke="#7c7c7c" stroke-width="0.75" />
<rect x="477.08" y="592.82" width="8.83" height="7.84" fill="#6e6aaf" stroke="#7c7c7c" stroke-width="0.75" />
<rect x="247.50" y="600.66" width="8.83" height="7.84" fill="#d9d9ed" stroke="#7c7c7c" stroke-width="0.75" />
<rect x="256.33" y="600.66" width="8.83" height="7.84" fill="#9897ca" stroke="#7c7c7c" stroke-width="0.75" />
<rect x="265.16" y="600.66" width="8.83" height="7.84" fill="#f8e5e3" stroke="#7c7c7c" stroke-width="0.75" />
<rect x="273.99" y="600.66" width="8.83" height="7.84" fill="#a5a4d1" stroke="#7c7c7c" stroke-width="0.75" />
<rect x="282.82" y="600.66" width="8.83" height="7.84" fill="#b2b2d9" stroke="#7c7c7c" stroke-width="0.75" />
<rect x="291.65" y="600.66" width="8.83" height="7.84" fill="#a5a4d1" stroke="#7c7c7c" stroke-width="0.75" />
<rect x="300.48" y="600.66" width="8.83" height="7.84" fill="#e5e5f3" stroke="#7c7c7c" stroke-width="0.75" />
<rect x="309.31" y="600.66" width="8.83" height="7.84" fill="#fafafd" stroke="#7c7c7c" stroke-width="0.75" />
<rect x="318.14" y="600.66" width="8.83" height="7.84" fill="#b2b2d9" stroke="#7c7c7c" stroke-width="0.75" />
<rect x="326.97" y="600.66" width="8.83" height="7.84" fill="#cccce7" stroke="#7c7c7c" stroke-width="0.75" />
<rect x="335.80" y="600.66" width="8.83" height="7.84" fill="#fafafd" stroke="#7c7c7c" stroke-width="0.75" />
<rect x="344.63" y="600.66" width="8.83" height="7.84" fill="#cccce7" stroke="#7c7c7c" stroke-width="0.75" />
<rect x="353.46" y="600.66" width="8.83" height="7.84" fill="#b2b2d9" stroke="#7c7c7c" stroke-width="0.75" />
<rect x="362.29" y="600.66" width="8.83" height="7.84" fill="#f7dfdc" stroke="#7c7c7c" stroke-width="0.75" />
<rect x="371.12" y="600.66" width="8.83" height="7.84" fill="#fafafd" stroke="#7c7c7c" stroke-width="0.75" />
<rect x="379.95" y="600.66" width="8.83" height="7.84" fill="#cccce7" stroke="#7c7c7c" stroke-width="0.75" />
<rect x="388.78" y="600.66" width="8.83" height="7.84" fill="#ebebf5" stroke="#7c7c7c" stroke-width="0.75" />
<rect x="397.61" y="600.66" width="8.83" height="7.84" fill="#e5e5f3" stroke="#7c7c7c" stroke-width="0.75" />
<rect x="406.44" y="600.66" width="8.83" height="7.84" fill="#b2b2d9" stroke="#7c7c7c" stroke-width="0.75" />
<rect x="415.27" y="600.66" width="8.83" height="7.84" fill="#cccce7" stroke="#7c7c7c" stroke-width="0.75" />
<rect x="424.10" y="600.66" width="8.83" height="7.84" fill="#f4d4d1" stroke="#7c7c7c" stroke-width="0.75" />
<rect x="432.93" y="600.66" width="8.83" height="7.84" fill="#6561a9" stroke="#7c7c7c" stroke-width="0.75" />
<rect x="441.76" y="600.66" width="8.83" height="7.84" fill="#554f9e" stroke="#7c7c7c" stroke-width="0.75" />
<rect x="450.59" y="600.66" width="8.83" height="7.84" fill="#8b89c2" stroke="#7c7c7c" stroke-width="0.75" />
<rect x="459.42" y="600.66" width="8.83" height="7.84" fill="#342584" stroke="#7c7c7c" stroke-width="0.75" />
<rect x="468.25" y="600.66" width="8.83" height="7.84" fill="#7673b4" stroke="#7c7c7c" stroke-width="0.75" />
<rect x="477.08" y="600.66" width="8.83" height="7.84" fill="#7e7cba" stroke="#7c7c7c" stroke-width="0.75" />
<rect x="247.50" y="608.50" width="8.83" height="7.84" fill="#9897ca" stroke="#7c7c7c" stroke-width="0.75" />
<rect x="256.33" y="608.50" width="8.83" height="7.84" fill="#a5a4d1" stroke="#7c7c7c" stroke-width="0.75" />
<rect x="265.16" y="608.50" width="8.83" height="7.84" fill="#f8e5e3" stroke="#7c7c7c" stroke-width="0.75" />
<rect x="273.99" y="608.50" width="8.83" height="7.84" fill="#7e7cba" stroke="#7c7c7c" stroke-width="0.75" />
<rect x="282.82" y="608.50" width="8.83" height="7.84" fill="#7e7cba" stroke="#7c7c7c" stroke-width="0.75" />
<rect x="291.65" y="608.50" width="8.83" height="7.84" fill="#8b89c2" stroke="#7c7c7c" stroke-width="0.75" />
<rect x="300.48" y="608.50" width="8.83" height="7.84" fill="#bfbfe1" stroke="#7c7c7c" stroke-width="0.75" />
<rect x="309.31" y="608.50" width="8.83" height="7.84" fill="#e5e5f3" stroke="#7c7c7c" stroke-width="0.75" />
<rect x="318.14" y="608.50" width="8.83" height="7.84" fill="#9897ca" stroke="#7c7c7c" stroke-width="0.75" />
<rect x="326.97" y="608.50" width="8.83" height="7.84" fill="#8b89c2" stroke="#7c7c7c" stroke-width="0.75" />
<rect x="335.80" y="608.50" width="8.83" height="7.84" fill="#f7f7fb" stroke="#7c7c7c" stroke-width="0.75" />
<rect x="344.63" y="608.50" width="8.83" height="7.84" fill="#8b89c2" stroke="#7c7c7c" stroke-width="0.75" />
<rect x="353.46" y="608.50" width="8.83" height="7.84" fill="#9897ca" stroke="#7c7c7c" stroke-width="0.75" />
<rect x="362.29" y="608.50" width="8.83" height="7.84" fill="#fafafd" stroke="#7c7c7c" stroke-width="0.75" />
<rect x="371.12" y="608.50" width="8.83" height="7.84" fill="#fbeeed" stroke="#7c7c7c" stroke-width="0.75" />
<rect x="379.95" y="608.50" width="8.83" height="7.84" fill="#7e7cba" stroke="#7c7c7c" stroke-width="0.75" />
<rect x="388.78" y="608.50" width="8.83" height="7.84" fill="#b2b2d9" stroke="#7c7c7c" stroke-width="0.75" />
<rect x="397.61" y="608.50" width="8.83" height="7.84" fill="#f2f2f9" stroke="#7c7c7c" stroke-width="0.75" />
<rect x="406.44" y="608.50" width="8.83" height="7.84" fill="#7673b4" stroke="#7c7c7c" stroke-width="0.75" />
<rect x="415.27" y="608.50" width="8.83" height="7.84" fill="#b2b2d9" stroke="#7c7c7c" stroke-width="0.75" />
<rect x="424.10" y="608.50" width="8.83" height="7.84" fill="#e5e5f3" stroke="#7c7c7c" stroke-width="0.75" />
<rect x="432.93" y="608.50" width="8.83" height="7.84" fill="#a5a4d1" stroke="#7c7c7c" stroke-width="0.75" />
<rect x="441.76" y="608.50" width="8.83" height="7.84" fill="#5d58a4" stroke="#7c7c7c" stroke-width="0.75" />
<rect x="450.59" y="608.50" width="8.83" height="7.84" fill="#7e7cba" stroke="#7c7c7c" stroke-width="0.75" />
<rect x="459.42" y="608.50" width="8.83" height="7.84" fill="#7673b4" stroke="#7c7c7c" stroke-width="0.75" />
<rect x="468.25" y="608.50" width="8.83" height="7.84" fill="#342584" stroke="#7c7c7c" stroke-width="0.75" />
<rect x="477.08" y="608.50" width="8.83" height="7.84" fill="#8b89c2" stroke="#7c7c7c" stroke-width="0.75" />
<rect x="247.50" y="616.34" width="8.83" height="7.84" fill="#8b89c2" stroke="#7c7c7c" stroke-width="0.75" />
<rect x="256.33" y="616.34" width="8.83" height="7.84" fill="#d9d9ed" stroke="#7c7c7c" stroke-width="0.75" />
<rect x="265.16" y="616.34" width="8.83" height="7.84" fill="#cccce7" stroke="#7c7c7c" stroke-width="0.75" />
<rect x="273.99" y="616.34" width="8.83" height="7.84" fill="#8b89c2" stroke="#7c7c7c" stroke-width="0.75" />
<rect x="282.82" y="616.34" width="8.83" height="7.84" fill="#8b89c2" stroke="#7c7c7c" stroke-width="0.75" />
<rect x="291.65" y="616.34" width="8.83" height="7.84" fill="#7e7cba" stroke="#7c7c7c" stroke-width="0.75" />
<rect x="300.48" y="616.34" width="8.83" height="7.84" fill="#f1c7c3" stroke="#7c7c7c" stroke-width="0.75" />
<rect x="309.31" y="616.34" width="8.83" height="7.84" fill="#a5a4d1" stroke="#7c7c7c" stroke-width="0.75" />
<rect x="318.14" y="616.34" width="8.83" height="7.84" fill="#8b89c2" stroke="#7c7c7c" stroke-width="0.75" />
<rect x="326.97" y="616.34" width="8.83" height="7.84" fill="#a5a4d1" stroke="#7c7c7c" stroke-width="0.75" />
<rect x="335.80" y="616.34" width="8.83" height="7.84" fill="#fafafd" stroke="#7c7c7c" stroke-width="0.75" />
<rect x="344.63" y="616.34" width="8.83" height="7.84" fill="#cccce7" stroke="#7c7c7c" stroke-width="0.75" />
<rect x="353.46" y="616.34" width="8.83" height="7.84" fill="#6e6aaf" stroke="#7c7c7c" stroke-width="0.75" />
<rect x="362.29" y="616.34" width="8.83" height="7.84" fill="#ebaba4" stroke="#7c7c7c" stroke-width="0.75" />
<rect x="371.12" y="616.34" width="8.83" height="7.84" fill="#ebebf5" stroke="#7c7c7c" stroke-width="0.75" />
<rect x="379.95" y="616.34" width="8.83" height="7.84" fill="#7e7cba" stroke="#7c7c7c" stroke-width="0.75" />
<rect x="388.78" y="616.34" width="8.83" height="7.84" fill="#9897ca" stroke="#7c7c7c" stroke-width="0.75" />
<rect x="397.61" y="616.34" width="8.83" height="7.84" fill="#d9d9ed" stroke="#7c7c7c" stroke-width="0.75" />
<rect x="406.44" y="616.34" width="8.83" height="7.84" fill="#fafafd" stroke="#7c7c7c" stroke-width="0.75" />
<rect x="415.27" y="616.34" width="8.83" height="7.84" fill="#6561a9" stroke="#7c7c7c" stroke-width="0.75" />
<rect x="424.10" y="616.34" width="8.83" height="7.84" fill="#f4d4d1" stroke="#7c7c7c" stroke-width="0.75" />
<rect x="432.93" y="616.34" width="8.83" height="7.84" fill="#cccce7" stroke="#7c7c7c" stroke-width="0.75" />
<rect x="441.76" y="616.34" width="8.83" height="7.84" fill="#554f9e" stroke="#7c7c7c" stroke-width="0.75" />
<rect x="450.59" y="616.34" width="8.83" height="7.84" fill="#6e6aaf" stroke="#7c7c7c" stroke-width="0.75" />
<rect x="459.42" y="616.34" width="8.83" height="7.84" fill="#7e7cba" stroke="#7c7c7c" stroke-width="0.75" />
<rect x="468.25" y="616.34" width="8.83" height="7.84" fill="#8b89c2" stroke="#7c7c7c" stroke-width="0.75" />
<rect x="477.08" y="616.34" width="8.83" height="7.84" fill="#342584" stroke="#7c7c7c" stroke-width="0.75" />
</g>
<rect x="247.50" y="412.50" width="238.41" height="211.68" fill="none" stroke="#333" stroke-width="1" />
<text x="245.10" y="418.72" font-size="6.6" text-anchor="end" fill="#222" >Metabolic Tumor Volume</text>
<text x="245.10" y="426.56" font-size="6.6" text-anchor="end" fill="#222" textLength="63.5" lengthAdjust="spacingAndGlyphs" >Peak CART expansion</text>
<text x="245.10" y="434.40" font-size="6.6" text-anchor="end" fill="#222" >M-MDSC</text>
<text x="245.10" y="442.24" font-size="6.6" text-anchor="end" fill="#222" >LDH</text>
<text x="245.10" y="450.08" font-size="6.6" text-anchor="end" fill="#222" >CRP</text>
<text x="245.10" y="457.92" font-size="6.6" text-anchor="end" fill="#222" >Ferritin</text>
<text x="245.10" y="465.76" font-size="6.6" text-anchor="end" fill="#222" >IL-1β</text>
<text x="245.10" y="473.60" font-size="6.6" text-anchor="end" fill="#222" >IL-2</text>
<text x="245.10" y="481.44" font-size="6.6" text-anchor="end" fill="#222" >IL-6</text>
<text x="245.10" y="489.28" font-size="6.6" text-anchor="end" fill="#222" >IL-15</text>
<text x="245.10" y="497.12" font-size="6.6" text-anchor="end" fill="#222" >IFNγ</text>
<text x="245.10" y="504.96" font-size="6.6" text-anchor="end" fill="#222" >TNFα</text>
<text x="245.10" y="512.80" font-size="6.6" text-anchor="end" fill="#222" >ANG2/1</text>
<text x="245.10" y="520.64" font-size="6.6" text-anchor="end" fill="#222" >IL-1β</text>
<text x="245.10" y="528.48" font-size="6.6" text-anchor="end" fill="#222" >IL-2</text>
<text x="245.10" y="536.32" font-size="6.6" text-anchor="end" fill="#222" >IL-6</text>
<text x="245.10" y="544.16" font-size="6.6" text-anchor="end" fill="#222" >IL-15</text>
<text x="245.10" y="552.00" font-size="6.6" text-anchor="end" fill="#222" >IFNγ</text>
<text x="245.10" y="559.84" font-size="6.6" text-anchor="end" fill="#222" >TNFα</text>
<text x="245.10" y="567.68" font-size="6.6" text-anchor="end" fill="#222" >ANG2/1</text>
<text x="245.10" y="575.52" font-size="6.6" text-anchor="end" fill="#222" >IL-1β</text>
<text x="245.10" y="583.36" font-size="6.6" text-anchor="end" fill="#222" >IL-2</text>
<text x="245.10" y="591.20" font-size="6.6" text-anchor="end" fill="#222" >IL-6</text>
<text x="245.10" y="599.04" font-size="6.6" text-anchor="end" fill="#222" >IL-15</text>
<text x="245.10" y="606.88" font-size="6.6" text-anchor="end" fill="#222" >IFNγ</text>
<text x="245.10" y="614.72" font-size="6.6" text-anchor="end" fill="#222" >TNFα</text>
<text x="245.10" y="622.56" font-size="6.6" text-anchor="end" fill="#222" >ANG2/1</text>
<text x="254.22" y="409.60" font-size="6.6" text-anchor="start" fill="#222" transform="rotate(-90 254.22 409.60)" >MTV</text>
<text x="263.05" y="409.60" font-size="6.6" text-anchor="start" fill="#222" textLength="33" lengthAdjust="spacingAndGlyphs" transform="rotate(-90 263.05 409.60)" >Peak CAR T</text>
<text x="271.88" y="409.60" font-size="6.6" text-anchor="start" fill="#222" transform="rotate(-90 271.88 409.60)" >M-MDSC</text>
<text x="280.70" y="409.60" font-size="6.6" text-anchor="start" fill="#222" transform="rotate(-90 280.70 409.60)" >LDH</text>
<text x="289.54" y="409.60" font-size="6.6" text-anchor="start" fill="#222" transform="rotate(-90 289.54 409.60)" >CRP</text>
<text x="298.37" y="409.60" font-size="6.6" text-anchor="start" fill="#222" transform="rotate(-90 298.37 409.60)" >Ferritin</text>
<text x="307.19" y="409.60" font-size="6.6" text-anchor="start" fill="#222" transform="rotate(-90 307.19 409.60)" >IL-1β</text>
<text x="316.03" y="409.60" font-size="6.6" text-anchor="start" fill="#222" transform="rotate(-90 316.03 409.60)" >IL-2</text>
<text x="324.86" y="409.60" font-size="6.6" text-anchor="start" fill="#222" transform="rotate(-90 324.86 409.60)" >IL-6</text>
<text x="333.69" y="409.60" font-size="6.6" text-anchor="start" fill="#222" transform="rotate(-90 333.69 409.60)" >IL-15</text>
<text x="342.52" y="409.60" font-size="6.6" text-anchor="start" fill="#222" transform="rotate(-90 342.52 409.60)" >IFNγ</text>
<text x="351.35" y="409.60" font-size="6.6" text-anchor="start" fill="#222" transform="rotate(-90 351.35 409.60)" >TNFα</text>
<text x="360.18" y="409.60" font-size="6.6" text-anchor="start" fill="#222" transform="rotate(-90 360.18 409.60)" >ANG2/1</text>
<text x="369.00" y="409.60" font-size="6.6" text-anchor="start" fill="#222" transform="rotate(-90 369.00 409.60)" >IL-1β</text>
<text x="377.83" y="409.60" font-size="6.6" text-anchor="start" fill="#222" transform="rotate(-90 377.83 409.60)" >IL-2</text>
<text x="386.67" y="409.60" font-size="6.6" text-anchor="start" fill="#222" transform="rotate(-90 386.67 409.60)" >IL-6</text>
<text x="395.50" y="409.60" font-size="6.6" text-anchor="start" fill="#222" transform="rotate(-90 395.50 409.60)" >IL-15</text>
<text x="404.32" y="409.60" font-size="6.6" text-anchor="start" fill="#222" transform="rotate(-90 404.32 409.60)" >IFNγ</text>
<text x="413.16" y="409.60" font-size="6.6" text-anchor="start" fill="#222" transform="rotate(-90 413.16 409.60)" >TNFα</text>
<text x="421.99" y="409.60" font-size="6.6" text-anchor="start" fill="#222" transform="rotate(-90 421.99 409.60)" >ANG2/1</text>
<text x="430.81" y="409.60" font-size="6.6" text-anchor="start" fill="#222" transform="rotate(-90 430.81 409.60)" >IL-1β</text>
<text x="439.65" y="409.60" font-size="6.6" text-anchor="start" fill="#222" transform="rotate(-90 439.65 409.60)" >IL-2</text>
<text x="448.48" y="409.60" font-size="6.6" text-anchor="start" fill="#222" transform="rotate(-90 448.48 409.60)" >IL-6</text>
<text x="457.31" y="409.60" font-size="6.6" text-anchor="start" fill="#222" transform="rotate(-90 457.31 409.60)" >IL-15</text>
<text x="466.14" y="409.60" font-size="6.6" text-anchor="start" fill="#222" transform="rotate(-90 466.14 409.60)" >IFNγ</text>
<text x="474.96" y="409.60" font-size="6.6" text-anchor="start" fill="#222" transform="rotate(-90 474.96 409.60)" >TNFα</text>
<text x="483.80" y="409.60" font-size="6.6" text-anchor="start" fill="#222" transform="rotate(-90 483.80 409.60)" >ANG2/1</text>
<path d="M269.60 369.80 V366.5 H358.50 V369.8" fill="none" stroke="#222" stroke-width="0.9"/>
<text x="314.00" y="362.20" font-size="6.8" text-anchor="middle" fill="#222" textLength="24.2" lengthAdjust="spacingAndGlyphs" >Baseline</text>
<path d="M366.40 369.80 V366.5 H420.10 V369.8" fill="none" stroke="#222" stroke-width="0.9"/>
<text x="393.30" y="362.20" font-size="6.8" text-anchor="middle" fill="#222" textLength="60" lengthAdjust="spacingAndGlyphs" >Day 0 (CAR infusion)</text>
<path d="M429.30 369.80 V366.5 H480.40 V369.8" fill="none" stroke="#222" stroke-width="0.9"/>
<text x="454.70" y="362.20" font-size="6.8" text-anchor="middle" fill="#222" textLength="14.5" lengthAdjust="spacingAndGlyphs" >Peak</text>
<path d="M212.9 431.90 H210.9 V511.40 H212.9" fill="none" stroke="#222" stroke-width="0.9"/>
<path d="M212.9 518.75 H210.9 V565.70 H212.9" fill="none" stroke="#222" stroke-width="0.9"/>
<path d="M212.9 573.40 H210.9 V620.30 H212.9" fill="none" stroke="#222" stroke-width="0.9"/>
<text x="205.60" y="474.20" font-size="6.8" text-anchor="end" fill="#222" textLength="23.6" lengthAdjust="spacingAndGlyphs" >Baseline</text>
<text x="186.00" y="540.10" font-size="6.8" text-anchor="middle" fill="#222" >Day 0</text>
<text x="186.00" y="548.10" font-size="6.8" text-anchor="middle" fill="#222" textLength="41.2" lengthAdjust="spacingAndGlyphs" >(CAR infusion)</text>
<text x="206.50" y="598.70" font-size="6.8" text-anchor="end" fill="#222" >Peak</text>
<defs><linearGradient id="cb" x1="0" y1="0" x2="0" y2="1">
<stop offset="0.000" stop-color="#342887"/>
<stop offset="0.050" stop-color="#483e93"/>
<stop offset="0.100" stop-color="#5d539f"/>
<stop offset="0.150" stop-color="#7168ab"/>
<stop offset="0.200" stop-color="#857eb7"/>
<stop offset="0.250" stop-color="#9a94c3"/>
<stop offset="0.300" stop-color="#aea9cf"/>
<stop offset="0.350" stop-color="#c2bedb"/>
<stop offset="0.400" stop-color="#d6d4e7"/>
<stop offset="0.450" stop-color="#ebeaf3"/>
<stop offset="0.500" stop-color="#ffffff"/>
<stop offset="0.550" stop-color="#faebe8"/>
<stop offset="0.600" stop-color="#f5d7d2"/>
<stop offset="0.650" stop-color="#f0c3bb"/>
<stop offset="0.700" stop-color="#ebafa4"/>
<stop offset="0.750" stop-color="#e69b8e"/>
<stop offset="0.800" stop-color="#e18777"/>
<stop offset="0.850" stop-color="#dc7360"/>
<stop offset="0.900" stop-color="#d75f49"/>
<stop offset="0.950" stop-color="#d24b33"/>
<stop offset="1.000" stop-color="#cd371c"/>
</linearGradient></defs>
<rect x="493.20" y="412.40" width="7.80" height="212.20" fill="url(#cb)" stroke="#333" stroke-width="0.8" />
<line x1="501.00" y1="412.40" x2="502.60" y2="412.40" stroke="#333" stroke-width="0.8"/>
<text x="504.00" y="414.60" font-size="6.5" text-anchor="start" fill="#333" >1.0</text>
<line x1="501.00" y1="465.45" x2="502.60" y2="465.45" stroke="#333" stroke-width="0.8"/>
<text x="504.00" y="467.65" font-size="6.5" text-anchor="start" fill="#333" >0.5</text>
<line x1="501.00" y1="518.50" x2="502.60" y2="518.50" stroke="#333" stroke-width="0.8"/>
<text x="504.00" y="520.70" font-size="6.5" text-anchor="start" fill="#333" >0</text>
<line x1="501.00" y1="571.55" x2="502.60" y2="571.55" stroke="#333" stroke-width="0.8"/>
<text x="504.00" y="573.75" font-size="6.5" text-anchor="start" fill="#333" >-0.5</text>
<line x1="501.00" y1="624.60" x2="502.60" y2="624.60" stroke="#333" stroke-width="0.8"/>
<text x="504.00" y="626.80" font-size="6.5" text-anchor="start" fill="#333" >-1.0</text>
</svg>
<div class="frame"></div>
</body></html>
